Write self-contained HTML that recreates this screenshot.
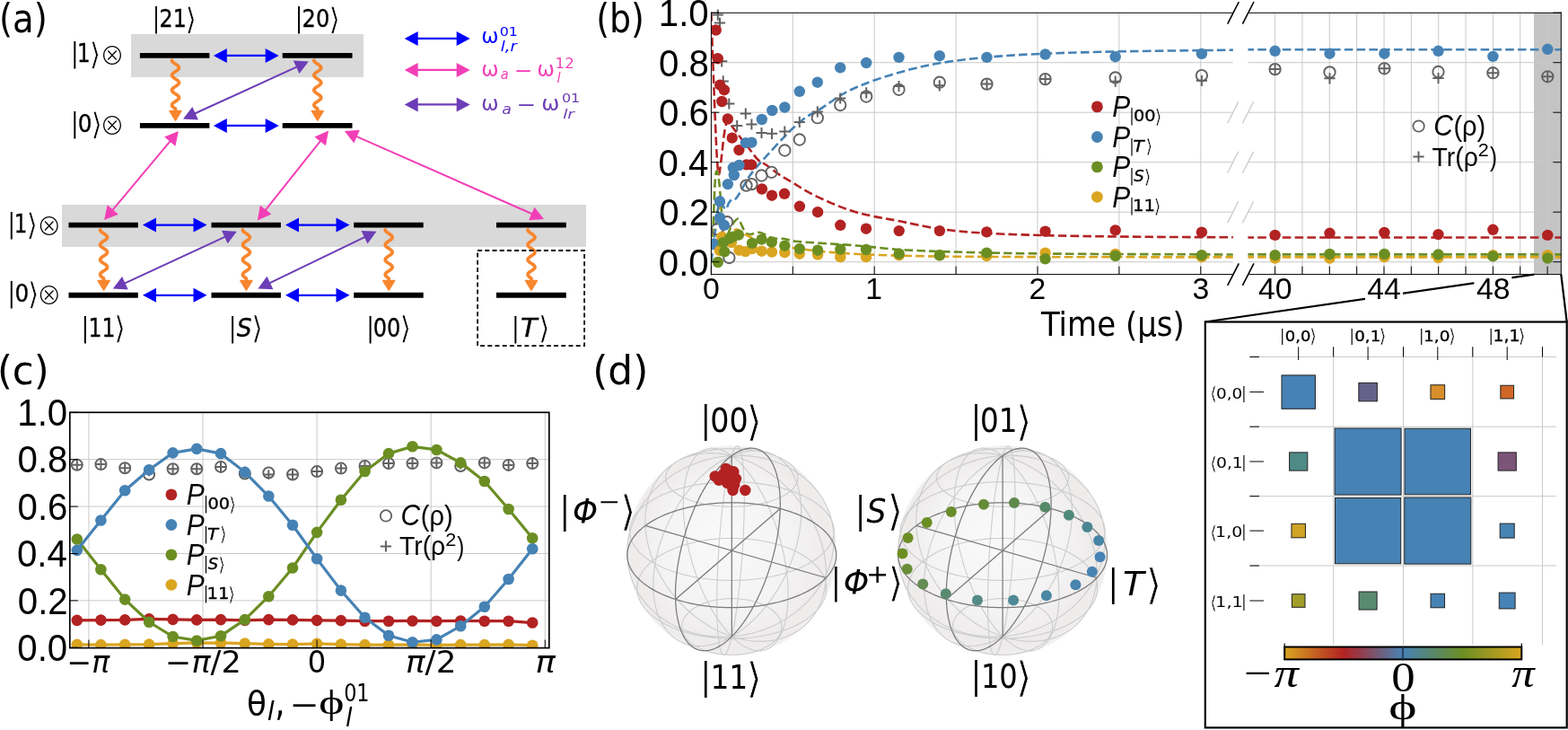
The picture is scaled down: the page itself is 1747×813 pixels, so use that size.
<!DOCTYPE html>
<html><head><meta charset="utf-8"><title>Figure</title>
<style>html,body{margin:0;padding:0;background:#fff;}svg{display:block;}</style>
</head><body>
<svg width="1747" height="813" viewBox="0 0 1747 813">
<text x="-1.09" y="36.02" font-size="43.77" font-family='"DejaVu Sans", sans-serif' fill="#000" textLength="53.88" lengthAdjust="spacingAndGlyphs">(a)</text>
<rect x="146" y="38" width="259" height="48" fill="#d9d9d9"/>
<rect x="69" y="228" width="584" height="47" fill="#d9d9d9"/>
<line x1="155.9" y1="61.9" x2="233.4" y2="61.9" stroke="#000" stroke-width="5.9"/>
<line x1="314.7" y1="61.9" x2="392.5" y2="61.9" stroke="#000" stroke-width="5.9"/>
<line x1="155.9" y1="139.9" x2="233.4" y2="139.9" stroke="#000" stroke-width="5.9"/>
<line x1="314.7" y1="139.9" x2="392.5" y2="139.9" stroke="#000" stroke-width="5.9"/>
<line x1="76.5" y1="250.6" x2="153.8" y2="250.6" stroke="#000" stroke-width="5.9"/>
<line x1="235.5" y1="250.6" x2="312.9" y2="250.6" stroke="#000" stroke-width="5.9"/>
<line x1="394.2" y1="250.6" x2="471.7" y2="250.6" stroke="#000" stroke-width="5.9"/>
<line x1="553" y1="250.6" x2="630.8" y2="250.6" stroke="#000" stroke-width="5.9"/>
<line x1="76.5" y1="328.8" x2="153.8" y2="328.8" stroke="#000" stroke-width="5.9"/>
<line x1="235.5" y1="328.8" x2="312.9" y2="328.8" stroke="#000" stroke-width="5.9"/>
<line x1="394.2" y1="328.8" x2="471.7" y2="328.8" stroke="#000" stroke-width="5.9"/>
<line x1="553" y1="328.8" x2="630.8" y2="328.8" stroke="#000" stroke-width="5.9"/>
<line x1="250.8" y1="61.9" x2="297.7" y2="61.9" stroke="#0000ff" stroke-width="2.2"/>
<polygon points="310.7,61.9 295.7,69.9 295.7,53.9" fill="#0000ff"/>
<polygon points="237.8,61.9 252.8,53.9 252.8,69.9" fill="#0000ff"/>
<line x1="250.8" y1="139.9" x2="297.7" y2="139.9" stroke="#0000ff" stroke-width="2.2"/>
<polygon points="310.7,139.9 295.7,147.9 295.7,131.9" fill="#0000ff"/>
<polygon points="237.8,139.9 252.8,131.9 252.8,147.9" fill="#0000ff"/>
<line x1="172" y1="250.6" x2="217.5" y2="250.6" stroke="#0000ff" stroke-width="2.2"/>
<polygon points="230.5,250.6 215.5,258.6 215.5,242.6" fill="#0000ff"/>
<polygon points="159,250.6 174,242.6 174,258.6" fill="#0000ff"/>
<line x1="331" y1="250.6" x2="376.5" y2="250.6" stroke="#0000ff" stroke-width="2.2"/>
<polygon points="389.5,250.6 374.5,258.6 374.5,242.6" fill="#0000ff"/>
<polygon points="318,250.6 333,242.6 333,258.6" fill="#0000ff"/>
<line x1="172" y1="328.8" x2="217.5" y2="328.8" stroke="#0000ff" stroke-width="2.2"/>
<polygon points="230.5,328.8 215.5,336.8 215.5,320.8" fill="#0000ff"/>
<polygon points="159,328.8 174,320.8 174,336.8" fill="#0000ff"/>
<line x1="331" y1="328.8" x2="376.5" y2="328.8" stroke="#0000ff" stroke-width="2.2"/>
<polygon points="389.5,328.8 374.5,336.8 374.5,320.8" fill="#0000ff"/>
<polygon points="318,328.8 333,320.8 333,336.8" fill="#0000ff"/>
<polyline points="191.5,67.2 191.67,67.97 192.16,68.74 192.94,69.51 193.93,70.28 195.05,71.05 196.21,71.82 197.32,72.59 198.26,73.37 198.98,74.14 199.4,74.91 199.49,75.68 199.24,76.45 198.68,77.22 197.85,77.99 196.82,78.76 195.68,79.53 194.52,80.3 193.45,81.07 192.55,81.84 191.9,82.61 191.55,83.39 191.54,84.16 191.86,84.93 192.49,85.7 193.37,86.47 194.44,87.24 195.59,88.01 196.74,88.78 197.78,89.55 198.63,90.32 199.21,91.09 199.48,91.86 199.42,92.63 199.02,93.4 198.33,94.18 197.4,94.95 196.3,95.72 195.14,96.49 194.01,97.26 193.01,98.03 192.21,98.8 191.7,99.57 191.5,100.34 191.64,101.11 192.11,101.88 192.87,102.65 193.85,103.42 194.96,104.19 196.13,104.97 197.24,105.74 198.2,106.51 198.93,107.28 199.38,108.05 199.5,108.82 199.28,109.59 198.74,110.36 197.92,111.13 196.91,111.9 195.77,112.67 194.61,113.44 193.53,114.21 192.61,114.98 191.94,115.76 191.56,116.53 191.53,117.3 191.82,118.07 192.43,118.84 193.3,119.61 194.35,120.38 195.5,121.15 195.5,124.3" fill="none" stroke="#f8862e" stroke-width="3.7" stroke-linecap="round" stroke-linejoin="round"/>
<polygon points="195.5,134 189.1,123.5 201.9,123.5" fill="#f8862e" stroke="#f8862e" stroke-width="1.6" stroke-linejoin="round"/>
<polyline points="349.8,67.2 349.97,67.97 350.46,68.74 351.24,69.51 352.23,70.28 353.35,71.05 354.51,71.82 355.62,72.59 356.56,73.37 357.28,74.14 357.7,74.91 357.79,75.68 357.54,76.45 356.98,77.22 356.15,77.99 355.12,78.76 353.98,79.53 352.82,80.3 351.75,81.07 350.85,81.84 350.2,82.61 349.85,83.39 349.84,84.16 350.16,84.93 350.79,85.7 351.67,86.47 352.74,87.24 353.89,88.01 355.04,88.78 356.08,89.55 356.93,90.32 357.51,91.09 357.78,91.86 357.72,92.63 357.32,93.4 356.63,94.18 355.7,94.95 354.6,95.72 353.44,96.49 352.31,97.26 351.31,98.03 350.51,98.8 350,99.57 349.8,100.34 349.94,101.11 350.41,101.88 351.17,102.65 352.15,103.42 353.26,104.19 354.43,104.97 355.54,105.74 356.5,106.51 357.23,107.28 357.68,108.05 357.8,108.82 357.58,109.59 357.04,110.36 356.22,111.13 355.21,111.9 354.07,112.67 352.91,113.44 351.83,114.21 350.91,114.98 350.24,115.76 349.86,116.53 349.83,117.3 350.12,118.07 350.73,118.84 351.6,119.61 352.65,120.38 353.8,121.15 353.8,124.3" fill="none" stroke="#f8862e" stroke-width="3.7" stroke-linecap="round" stroke-linejoin="round"/>
<polygon points="353.8,134 347.4,123.5 360.2,123.5" fill="#f8862e" stroke="#f8862e" stroke-width="1.6" stroke-linejoin="round"/>
<polyline points="111.6,256 111.77,256.77 112.26,257.54 113.04,258.31 114.03,259.08 115.15,259.85 116.31,260.62 117.42,261.39 118.36,262.17 119.08,262.94 119.5,263.71 119.59,264.48 119.34,265.25 118.78,266.02 117.95,266.79 116.92,267.56 115.78,268.33 114.62,269.1 113.55,269.87 112.65,270.64 112,271.41 111.65,272.19 111.64,272.96 111.96,273.73 112.59,274.5 113.47,275.27 114.54,276.04 115.69,276.81 116.84,277.58 117.88,278.35 118.73,279.12 119.31,279.89 119.58,280.66 119.52,281.43 119.12,282.2 118.43,282.98 117.5,283.75 116.4,284.52 115.24,285.29 114.11,286.06 113.11,286.83 112.31,287.6 111.8,288.37 111.6,289.14 111.74,289.91 112.21,290.68 112.97,291.45 113.95,292.22 115.06,292.99 116.23,293.76 117.34,294.54 118.3,295.31 119.03,296.08 119.48,296.85 119.6,297.62 119.38,298.39 118.84,299.16 118.02,299.93 117.01,300.7 115.87,301.47 114.71,302.24 113.63,303.01 112.71,303.78 112.04,304.56 111.66,305.33 111.63,306.1 111.92,306.87 112.53,307.64 113.4,308.41 114.45,309.18 115.6,309.95 115.6,313.3" fill="none" stroke="#f8862e" stroke-width="3.7" stroke-linecap="round" stroke-linejoin="round"/>
<polygon points="115.6,323 109.2,312.5 122,312.5" fill="#f8862e" stroke="#f8862e" stroke-width="1.6" stroke-linejoin="round"/>
<polyline points="270.4,256 270.57,256.77 271.06,257.54 271.84,258.31 272.83,259.08 273.95,259.85 275.11,260.62 276.22,261.39 277.16,262.17 277.88,262.94 278.3,263.71 278.39,264.48 278.14,265.25 277.58,266.02 276.75,266.79 275.72,267.56 274.58,268.33 273.42,269.1 272.35,269.87 271.45,270.64 270.8,271.41 270.45,272.19 270.44,272.96 270.76,273.73 271.39,274.5 272.27,275.27 273.34,276.04 274.49,276.81 275.64,277.58 276.68,278.35 277.53,279.12 278.11,279.89 278.38,280.66 278.32,281.43 277.92,282.2 277.23,282.98 276.3,283.75 275.2,284.52 274.04,285.29 272.91,286.06 271.91,286.83 271.11,287.6 270.6,288.37 270.4,289.14 270.54,289.91 271.01,290.68 271.77,291.45 272.75,292.22 273.86,292.99 275.03,293.76 276.14,294.54 277.1,295.31 277.83,296.08 278.28,296.85 278.4,297.62 278.18,298.39 277.64,299.16 276.82,299.93 275.81,300.7 274.67,301.47 273.51,302.24 272.43,303.01 271.51,303.78 270.84,304.56 270.46,305.33 270.43,306.1 270.72,306.87 271.33,307.64 272.2,308.41 273.25,309.18 274.4,309.95 274.4,313.3" fill="none" stroke="#f8862e" stroke-width="3.7" stroke-linecap="round" stroke-linejoin="round"/>
<polygon points="274.4,323 268,312.5 280.8,312.5" fill="#f8862e" stroke="#f8862e" stroke-width="1.6" stroke-linejoin="round"/>
<polyline points="429.2,256 429.37,256.77 429.86,257.54 430.64,258.31 431.63,259.08 432.75,259.85 433.91,260.62 435.02,261.39 435.96,262.17 436.68,262.94 437.1,263.71 437.19,264.48 436.94,265.25 436.38,266.02 435.55,266.79 434.52,267.56 433.38,268.33 432.22,269.1 431.15,269.87 430.25,270.64 429.6,271.41 429.25,272.19 429.24,272.96 429.56,273.73 430.19,274.5 431.07,275.27 432.14,276.04 433.29,276.81 434.44,277.58 435.48,278.35 436.33,279.12 436.91,279.89 437.18,280.66 437.12,281.43 436.72,282.2 436.03,282.98 435.1,283.75 434,284.52 432.84,285.29 431.71,286.06 430.71,286.83 429.91,287.6 429.4,288.37 429.2,289.14 429.34,289.91 429.81,290.68 430.57,291.45 431.55,292.22 432.66,292.99 433.83,293.76 434.94,294.54 435.9,295.31 436.63,296.08 437.08,296.85 437.2,297.62 436.98,298.39 436.44,299.16 435.62,299.93 434.61,300.7 433.47,301.47 432.31,302.24 431.23,303.01 430.31,303.78 429.64,304.56 429.26,305.33 429.23,306.1 429.52,306.87 430.13,307.64 431,308.41 432.05,309.18 433.2,309.95 433.2,313.3" fill="none" stroke="#f8862e" stroke-width="3.7" stroke-linecap="round" stroke-linejoin="round"/>
<polygon points="433.2,323 426.8,312.5 439.6,312.5" fill="#f8862e" stroke="#f8862e" stroke-width="1.6" stroke-linejoin="round"/>
<polyline points="588,256 588.17,256.77 588.66,257.54 589.44,258.31 590.43,259.08 591.55,259.85 592.71,260.62 593.82,261.39 594.76,262.17 595.48,262.94 595.9,263.71 595.99,264.48 595.74,265.25 595.18,266.02 594.35,266.79 593.32,267.56 592.18,268.33 591.02,269.1 589.95,269.87 589.05,270.64 588.4,271.41 588.05,272.19 588.04,272.96 588.36,273.73 588.99,274.5 589.87,275.27 590.94,276.04 592.09,276.81 593.24,277.58 594.28,278.35 595.13,279.12 595.71,279.89 595.98,280.66 595.92,281.43 595.52,282.2 594.83,282.98 593.9,283.75 592.8,284.52 591.64,285.29 590.51,286.06 589.51,286.83 588.71,287.6 588.2,288.37 588,289.14 588.14,289.91 588.61,290.68 589.37,291.45 590.35,292.22 591.46,292.99 592.63,293.76 593.74,294.54 594.7,295.31 595.43,296.08 595.88,296.85 596,297.62 595.78,298.39 595.24,299.16 594.42,299.93 593.41,300.7 592.27,301.47 591.11,302.24 590.03,303.01 589.11,303.78 588.44,304.56 588.06,305.33 588.03,306.1 588.32,306.87 588.93,307.64 589.8,308.41 590.85,309.18 592,309.95 592,313.3" fill="none" stroke="#f8862e" stroke-width="3.7" stroke-linecap="round" stroke-linejoin="round"/>
<polygon points="592,323 585.6,312.5 598.4,312.5" fill="#f8862e" stroke="#f8862e" stroke-width="1.6" stroke-linejoin="round"/>
<line x1="215.82" y1="127" x2="331.98" y2="73.9" stroke="#6c3db6" stroke-width="2"/>
<polygon points="343.8,68.5 333.48,82.01 326.83,67.46" fill="#6c3db6"/>
<polygon points="204,132.4 214.32,118.89 220.97,133.44" fill="#6c3db6"/>
<line x1="137.6" y1="316.05" x2="252.1" y2="263.15" stroke="#6c3db6" stroke-width="2"/>
<polygon points="263.9,257.7 253.64,271.25 246.93,256.73" fill="#6c3db6"/>
<polygon points="125.8,321.5 136.06,307.95 142.77,322.47" fill="#6c3db6"/>
<line x1="299.11" y1="315.85" x2="407.79" y2="263.35" stroke="#6c3db6" stroke-width="2"/>
<polygon points="419.5,257.7 409.47,271.43 402.51,257.02" fill="#6c3db6"/>
<polygon points="287.4,321.5 297.43,307.77 304.39,322.18" fill="#6c3db6"/>
<line x1="124.45" y1="235.03" x2="190.55" y2="156.07" stroke="#f23fb6" stroke-width="2"/>
<polygon points="198.9,146.1 195.41,162.74 183.14,152.47" fill="#f23fb6"/>
<polygon points="116.1,245 119.59,228.36 131.86,238.63" fill="#f23fb6"/>
<line x1="294.88" y1="235.22" x2="357.92" y2="155.78" stroke="#f23fb6" stroke-width="2"/>
<polygon points="366,145.6 362.94,162.32 350.41,152.38" fill="#f23fb6"/>
<polygon points="286.8,245.4 289.86,228.68 302.39,238.62" fill="#f23fb6"/>
<line x1="395.8" y1="151.34" x2="594.1" y2="238.76" stroke="#f23fb6" stroke-width="2"/>
<polygon points="606,244 589.05,245.27 595.5,230.63" fill="#f23fb6"/>
<polygon points="383.9,146.1 400.85,144.83 394.4,159.47" fill="#f23fb6"/>
<rect x="532.1" y="279" width="119" height="106.2" fill="none" stroke="#000" stroke-width="1.8" stroke-dasharray="5,3.2"/>
<text x="170.08" y="30" font-size="29.95" font-family='"DejaVu Sans", sans-serif' fill="#000" textLength="8.07" lengthAdjust="spacingAndGlyphs">|</text>
<text x="177.6" y="30" font-size="27.09" font-family='"DejaVu Sans", sans-serif' fill="#000" textLength="30.23" lengthAdjust="spacingAndGlyphs" stroke="#000" stroke-width="0.35">21</text>
<text x="206.5" y="32.61" font-size="33.61" font-family='"DejaVu Sans", sans-serif' fill="#000" textLength="12.46" lengthAdjust="spacingAndGlyphs" stroke="#fff" stroke-width="0.6">⟩</text>
<text x="329.08" y="30" font-size="29.95" font-family='"DejaVu Sans", sans-serif' fill="#000" textLength="8.07" lengthAdjust="spacingAndGlyphs">|</text>
<text x="336.57" y="30" font-size="27.09" font-family='"DejaVu Sans", sans-serif' fill="#000" textLength="30.66" lengthAdjust="spacingAndGlyphs" stroke="#000" stroke-width="0.35">20</text>
<text x="366.5" y="32.61" font-size="33.61" font-family='"DejaVu Sans", sans-serif' fill="#000" textLength="12.46" lengthAdjust="spacingAndGlyphs" stroke="#fff" stroke-width="0.6">⟩</text>
<text x="79.17" y="69.3" font-size="30.1" font-family='"DejaVu Sans", sans-serif' fill="#000" textLength="8.11" lengthAdjust="spacingAndGlyphs">|</text>
<text x="85.96" y="69.3" font-size="27.71" font-family='"DejaVu Sans", sans-serif' fill="#000" textLength="14.63" lengthAdjust="spacingAndGlyphs" stroke="#000" stroke-width="0.35">1</text>
<text x="99.8" y="71.93" font-size="33.77" font-family='"DejaVu Sans", sans-serif' fill="#000" textLength="12.52" lengthAdjust="spacingAndGlyphs" stroke="#fff" stroke-width="0.61">⟩</text>
<text x="111.49" y="72.07" font-size="26.89" font-family='"Noto Sans CJK JP", "DejaVu Sans", sans-serif' fill="#000" textLength="27.03" lengthAdjust="spacingAndGlyphs" font-weight="300">⊗</text>
<text x="79.17" y="147.2" font-size="30.1" font-family='"DejaVu Sans", sans-serif' fill="#000" textLength="8.11" lengthAdjust="spacingAndGlyphs">|</text>
<text x="86.86" y="147.2" font-size="27.22" font-family='"DejaVu Sans", sans-serif' fill="#000" textLength="15.75" lengthAdjust="spacingAndGlyphs" stroke="#000" stroke-width="0.35">0</text>
<text x="101.4" y="149.83" font-size="33.77" font-family='"DejaVu Sans", sans-serif' fill="#000" textLength="12.52" lengthAdjust="spacingAndGlyphs" stroke="#fff" stroke-width="0.61">⟩</text>
<text x="111.49" y="149.97" font-size="26.89" font-family='"Noto Sans CJK JP", "DejaVu Sans", sans-serif' fill="#000" textLength="27.03" lengthAdjust="spacingAndGlyphs" font-weight="300">⊗</text>
<text x="8.87" y="259.1" font-size="30.1" font-family='"DejaVu Sans", sans-serif' fill="#000" textLength="8.11" lengthAdjust="spacingAndGlyphs">|</text>
<text x="15.66" y="259.1" font-size="27.71" font-family='"DejaVu Sans", sans-serif' fill="#000" textLength="14.63" lengthAdjust="spacingAndGlyphs" stroke="#000" stroke-width="0.35">1</text>
<text x="29.5" y="261.73" font-size="33.77" font-family='"DejaVu Sans", sans-serif' fill="#000" textLength="12.52" lengthAdjust="spacingAndGlyphs" stroke="#fff" stroke-width="0.61">⟩</text>
<text x="41.19" y="261.87" font-size="26.89" font-family='"Noto Sans CJK JP", "DejaVu Sans", sans-serif' fill="#000" textLength="27.03" lengthAdjust="spacingAndGlyphs" font-weight="300">⊗</text>
<text x="8.87" y="336.1" font-size="30.1" font-family='"DejaVu Sans", sans-serif' fill="#000" textLength="8.11" lengthAdjust="spacingAndGlyphs">|</text>
<text x="16.56" y="336.1" font-size="27.22" font-family='"DejaVu Sans", sans-serif' fill="#000" textLength="15.75" lengthAdjust="spacingAndGlyphs" stroke="#000" stroke-width="0.35">0</text>
<text x="31.1" y="338.73" font-size="33.77" font-family='"DejaVu Sans", sans-serif' fill="#000" textLength="12.52" lengthAdjust="spacingAndGlyphs" stroke="#fff" stroke-width="0.61">⟩</text>
<text x="41.19" y="338.87" font-size="26.89" font-family='"Noto Sans CJK JP", "DejaVu Sans", sans-serif' fill="#000" textLength="27.03" lengthAdjust="spacingAndGlyphs" font-weight="300">⊗</text>
<text x="90.82" y="374.6" font-size="30.54" font-family='"DejaVu Sans", sans-serif' fill="#000" textLength="8.23" lengthAdjust="spacingAndGlyphs">|</text>
<text x="98.44" y="374.6" font-size="28.12" font-family='"DejaVu Sans", sans-serif' fill="#000" textLength="29.94" lengthAdjust="spacingAndGlyphs" stroke="#000" stroke-width="0.35">11</text>
<text x="127.2" y="377.27" font-size="34.28" font-family='"DejaVu Sans", sans-serif' fill="#000" textLength="12.7" lengthAdjust="spacingAndGlyphs" stroke="#fff" stroke-width="0.61">⟩</text>
<text x="254.92" y="374.6" font-size="30.54" font-family='"DejaVu Sans", sans-serif' fill="#000" textLength="8.23" lengthAdjust="spacingAndGlyphs">|</text>
<text x="263.67" y="374.6" font-size="27.63" font-family='"DejaVu Sans", sans-serif' fill="#000" font-style="italic" textLength="16.77" lengthAdjust="spacingAndGlyphs" stroke="#000" stroke-width="0.35">S</text>
<text x="280.2" y="377.27" font-size="34.28" font-family='"DejaVu Sans", sans-serif' fill="#000" textLength="12.7" lengthAdjust="spacingAndGlyphs" stroke="#fff" stroke-width="0.61">⟩</text>
<text x="408.52" y="374.6" font-size="30.54" font-family='"DejaVu Sans", sans-serif' fill="#000" textLength="8.23" lengthAdjust="spacingAndGlyphs">|</text>
<text x="415.73" y="374.6" font-size="27.63" font-family='"DejaVu Sans", sans-serif' fill="#000" textLength="30.67" lengthAdjust="spacingAndGlyphs" stroke="#000" stroke-width="0.35">00</text>
<text x="445.4" y="377.27" font-size="34.28" font-family='"DejaVu Sans", sans-serif' fill="#000" textLength="12.7" lengthAdjust="spacingAndGlyphs" stroke="#fff" stroke-width="0.61">⟩</text>
<text x="570.32" y="374.6" font-size="30.54" font-family='"DejaVu Sans", sans-serif' fill="#000" textLength="8.23" lengthAdjust="spacingAndGlyphs">|</text>
<text x="580.1" y="374.6" font-size="28.12" font-family='"DejaVu Sans", sans-serif' fill="#000" font-style="italic" textLength="18.43" lengthAdjust="spacingAndGlyphs" stroke="#000" stroke-width="0.35">T</text>
<text x="600" y="377.27" font-size="34.28" font-family='"DejaVu Sans", sans-serif' fill="#000" textLength="12.7" lengthAdjust="spacingAndGlyphs" stroke="#fff" stroke-width="0.61">⟩</text>
<line x1="463.7" y1="42.9" x2="510.7" y2="42.9" stroke="#0000ff" stroke-width="2.2"/>
<polygon points="523.7,42.9 508.7,50.9 508.7,34.9" fill="#0000ff"/>
<polygon points="450.7,42.9 465.7,34.9 465.7,50.9" fill="#0000ff"/>
<line x1="463.7" y1="77.9" x2="510.7" y2="77.9" stroke="#f23fb6" stroke-width="2.2"/>
<polygon points="523.7,77.9 508.7,85.9 508.7,69.9" fill="#f23fb6"/>
<polygon points="450.7,77.9 465.7,69.9 465.7,85.9" fill="#f23fb6"/>
<line x1="463.7" y1="116.4" x2="510.7" y2="116.4" stroke="#6c3db6" stroke-width="2.2"/>
<polygon points="523.7,116.4 508.7,124.4 508.7,108.4" fill="#6c3db6"/>
<polygon points="450.7,116.4 465.7,108.4 465.7,124.4" fill="#6c3db6"/>
<text x="536.2" y="48.49" font-size="22.46" font-family='"DejaVu Sans", sans-serif' fill="#0000ff" textLength="19.36" lengthAdjust="spacingAndGlyphs">ω</text>
<text x="556.67" y="39.7" font-size="14.55" font-family='"DejaVu Sans", sans-serif' fill="#0000ff" textLength="20.2" lengthAdjust="spacingAndGlyphs">01</text>
<text x="557.77" y="56.55" font-size="15.98" font-family='"DejaVu Sans", sans-serif' fill="#0000ff" font-style="italic" textLength="18.19" lengthAdjust="spacingAndGlyphs">l,r</text>
<text x="536.2" y="84.67" font-size="23.71" font-family='"DejaVu Sans", sans-serif' fill="#f23fb6" textLength="19.36" lengthAdjust="spacingAndGlyphs">ω</text>
<text x="557.8" y="88.39" font-size="15.33" font-family='"DejaVu Sans", sans-serif' fill="#f23fb6" font-style="italic" textLength="8.96" lengthAdjust="spacingAndGlyphs">a</text>
<text x="572.8" y="85.7" font-size="22" font-family='"DejaVu Sans", sans-serif' fill="#f23fb6" textLength="20.71" lengthAdjust="spacingAndGlyphs">−</text>
<text x="598.17" y="84.67" font-size="23.71" font-family='"DejaVu Sans", sans-serif' fill="#f23fb6" textLength="19.72" lengthAdjust="spacingAndGlyphs">ω</text>
<text x="618.59" y="76.1" font-size="14.96" font-family='"DejaVu Sans", sans-serif' fill="#f23fb6" textLength="21.17" lengthAdjust="spacingAndGlyphs">12</text>
<text x="620.49" y="92.3" font-size="15.53" font-family='"DejaVu Sans", sans-serif' fill="#f23fb6" font-style="italic" textLength="4.09" lengthAdjust="spacingAndGlyphs">l</text>
<text x="536.2" y="122.97" font-size="23.71" font-family='"DejaVu Sans", sans-serif' fill="#6c3db6" textLength="19.36" lengthAdjust="spacingAndGlyphs">ω</text>
<text x="559.19" y="126.59" font-size="15.33" font-family='"DejaVu Sans", sans-serif' fill="#6c3db6" font-style="italic" textLength="10.66" lengthAdjust="spacingAndGlyphs">a</text>
<text x="575.57" y="123.9" font-size="22" font-family='"DejaVu Sans", sans-serif' fill="#6c3db6" textLength="21.78" lengthAdjust="spacingAndGlyphs">−</text>
<text x="603.33" y="122.97" font-size="23.71" font-family='"DejaVu Sans", sans-serif' fill="#6c3db6" textLength="20.19" lengthAdjust="spacingAndGlyphs">ω</text>
<text x="625.96" y="113.5" font-size="14.55" font-family='"DejaVu Sans", sans-serif' fill="#6c3db6" textLength="20.31" lengthAdjust="spacingAndGlyphs">01</text>
<text x="627.15" y="131.5" font-size="14.61" font-family='"DejaVu Sans", sans-serif' fill="#6c3db6" font-style="italic" textLength="12.88" lengthAdjust="spacingAndGlyphs">lr</text>
<text x="664.17" y="36.03" font-size="43.72" font-family='"DejaVu Sans", sans-serif' fill="#000" textLength="53.76" lengthAdjust="spacingAndGlyphs">(b)</text>
<rect x="1709" y="14.3" width="30.3" height="291.3" fill="#c4c4c4"/>
<g stroke="#c9c9c9" stroke-width="1.1">
<line x1="883.3" y1="14.3" x2="883.3" y2="305.6" stroke="#c9c9c9" stroke-width="1"/>
<line x1="974.2" y1="14.3" x2="974.2" y2="305.6" stroke="#c9c9c9" stroke-width="1"/>
<line x1="1065.1" y1="14.3" x2="1065.1" y2="305.6" stroke="#c9c9c9" stroke-width="1"/>
<line x1="1156" y1="14.3" x2="1156" y2="305.6" stroke="#c9c9c9" stroke-width="1"/>
<line x1="1246.9" y1="14.3" x2="1246.9" y2="305.6" stroke="#c9c9c9" stroke-width="1"/>
<line x1="1337.8" y1="14.3" x2="1337.8" y2="305.6" stroke="#c9c9c9" stroke-width="1"/>
<line x1="1420.6" y1="14.3" x2="1420.6" y2="305.6" stroke="#c9c9c9" stroke-width="1"/>
<line x1="1450.95" y1="14.3" x2="1450.95" y2="305.6" stroke="#c9c9c9" stroke-width="1"/>
<line x1="1481.3" y1="14.3" x2="1481.3" y2="305.6" stroke="#c9c9c9" stroke-width="1"/>
<line x1="1511.65" y1="14.3" x2="1511.65" y2="305.6" stroke="#c9c9c9" stroke-width="1"/>
<line x1="1542" y1="14.3" x2="1542" y2="305.6" stroke="#c9c9c9" stroke-width="1"/>
<line x1="1572.35" y1="14.3" x2="1572.35" y2="305.6" stroke="#c9c9c9" stroke-width="1"/>
<line x1="1602.7" y1="14.3" x2="1602.7" y2="305.6" stroke="#c9c9c9" stroke-width="1"/>
<line x1="1633.05" y1="14.3" x2="1633.05" y2="305.6" stroke="#c9c9c9" stroke-width="1"/>
<line x1="1663.4" y1="14.3" x2="1663.4" y2="305.6" stroke="#c9c9c9" stroke-width="1"/>
<line x1="1693.75" y1="14.3" x2="1693.75" y2="305.6" stroke="#c9c9c9" stroke-width="1"/>
<line x1="1724.1" y1="14.3" x2="1724.1" y2="305.6" stroke="#c9c9c9" stroke-width="1"/>
<line x1="792.4" y1="291.7" x2="1373.8" y2="291.7" stroke="#c9c9c9" stroke-width="1"/>
<line x1="1390.4" y1="291.7" x2="1739.3" y2="291.7" stroke="#c9c9c9" stroke-width="1"/>
<line x1="792.4" y1="236.2" x2="1373.8" y2="236.2" stroke="#c9c9c9" stroke-width="1"/>
<line x1="1390.4" y1="236.2" x2="1739.3" y2="236.2" stroke="#c9c9c9" stroke-width="1"/>
<line x1="792.4" y1="180.7" x2="1373.8" y2="180.7" stroke="#c9c9c9" stroke-width="1"/>
<line x1="1390.4" y1="180.7" x2="1739.3" y2="180.7" stroke="#c9c9c9" stroke-width="1"/>
<line x1="792.4" y1="125.2" x2="1373.8" y2="125.2" stroke="#c9c9c9" stroke-width="1"/>
<line x1="1390.4" y1="125.2" x2="1739.3" y2="125.2" stroke="#c9c9c9" stroke-width="1"/>
<line x1="792.4" y1="69.7" x2="1373.8" y2="69.7" stroke="#c9c9c9" stroke-width="1"/>
<line x1="1390.4" y1="69.7" x2="1739.3" y2="69.7" stroke="#c9c9c9" stroke-width="1"/>
</g>
<line x1="1367.6" y1="248.2" x2="1379.8" y2="224.2" stroke="#c9c9c9" stroke-width="1.3"/>
<line x1="1384.4" y1="248.2" x2="1396.6" y2="224.2" stroke="#c9c9c9" stroke-width="1.3"/>
<line x1="1367.6" y1="192.7" x2="1379.8" y2="168.7" stroke="#c9c9c9" stroke-width="1.3"/>
<line x1="1384.4" y1="192.7" x2="1396.6" y2="168.7" stroke="#c9c9c9" stroke-width="1.3"/>
<line x1="1367.6" y1="137.2" x2="1379.8" y2="113.2" stroke="#c9c9c9" stroke-width="1.3"/>
<line x1="1384.4" y1="137.2" x2="1396.6" y2="113.2" stroke="#c9c9c9" stroke-width="1.3"/>
<defs><clipPath id="cb1"><rect x="792.4" y="14.3" width="581.4" height="291.3"/></clipPath><clipPath id="cb2"><rect x="1390.4" y="14.3" width="348.9" height="291.3"/></clipPath></defs>
<g clip-path="url(#cb1)">
<path d="M792.4,14.3 C792.92,28.58 794.48,74.05 795.5,100 C796.52,125.95 797.62,154.33 798.5,170 C799.38,185.67 799.97,192.67 800.8,194 C801.63,195.33 802.55,185 803.5,178 C804.45,171 805.58,158.67 806.5,152 C807.42,145.33 808.25,141 809,138 C809.75,135 810.1,133.83 811,134 C811.9,134.17 812.23,136 814.4,139 C816.57,142 820.6,147.55 824,152 C827.4,156.45 831.37,161.37 834.8,165.7 C838.23,170.03 841.32,174.92 844.6,178 C847.88,181.08 850.4,181.33 854.5,184.2 C858.6,187.07 864.28,191.93 869.2,195.2 C874.12,198.47 878.87,200.72 884,203.8 C889.13,206.88 893,209.98 900,213.7 C907,217.42 917.73,222.55 926,226.1 C934.27,229.65 941.73,232.53 949.6,235 C957.47,237.47 964.8,239.1 973.2,240.9 C981.6,242.7 987.58,243.43 1000,245.8 C1012.42,248.17 1031.03,252.77 1047.7,255.1 C1064.37,257.43 1077.95,258.57 1100,259.8 C1122.05,261.03 1150,261.83 1180,262.5 C1210,263.17 1246.67,263.5 1280,263.8 C1313.33,264.1 1363.33,264.22 1380,264.3" fill="none" stroke="#b22222" stroke-width="2.6" stroke-dasharray="9.6,4.2"/>
<path d="M792.4,291.7 C792.77,284.75 793.85,265.28 794.6,250 C795.35,234.72 796.17,209.83 796.9,200 C797.63,190.17 798.23,190.17 799,191 C799.77,191.83 800.63,197 801.5,205 C802.37,213 803.45,229.5 804.2,239 C804.95,248.5 805.03,258.17 806,262 C806.97,265.83 808.33,264 810,262 C811.67,260 813.92,253.08 816,250 C818.08,246.92 820.83,243.5 822.5,243.5 C824.17,243.5 824.67,247.42 826,250 C827.33,252.58 828.83,257.17 830.5,259 C832.17,260.83 833.25,261 836,261 C838.75,261 843,258.33 847,259 C851,259.67 855.5,263.83 860,265 C864.5,266.17 869.67,265.38 874,266 C878.33,266.62 880,267.95 886,268.7 C892,269.45 898.17,269.67 910,270.5 C921.83,271.33 940.33,272.37 957,273.7 C973.67,275.03 986.17,277.2 1010,278.5 C1033.83,279.8 1068.33,280.78 1100,281.5 C1131.67,282.22 1153.33,282.47 1200,282.8 C1246.67,283.13 1350,283.38 1380,283.5" fill="none" stroke="#6b8e23" stroke-width="2.6" stroke-dasharray="9.6,4.2"/>
<path d="M792.4,291.7 C793,286.75 794.9,270.95 796,262 C797.1,253.05 798.08,243.17 799,238 C799.92,232.83 800.67,229.83 801.5,231 C802.33,232.17 803.17,239.83 804,245 C804.83,250.17 805.5,258.67 806.5,262 C807.5,265.33 808.58,265.5 810,265 C811.42,264.5 813.08,260.58 815,259 C816.92,257.42 819,255.17 821.5,255.5 C824,255.83 826.92,259.33 830,261 C833.08,262.67 836.17,264 840,265.5 C843.83,267 848.5,268.67 853,270 C857.5,271.33 862,272.5 867,273.5 C872,274.5 874.17,274.83 883,276 C891.83,277.17 906.33,279.27 920,280.5 C933.67,281.73 946.67,282.6 965,283.4 C983.33,284.2 1005.83,284.87 1030,285.3 C1054.17,285.73 1073.33,285.83 1110,286 C1146.67,286.17 1205,286.23 1250,286.3 C1295,286.37 1358.33,286.38 1380,286.4" fill="none" stroke="#daa520" stroke-width="2.6" stroke-dasharray="9.6,4.2"/>
<path d="M792.4,291.7 C793,287.25 794.82,274.45 796,265 C797.18,255.55 798.42,241.83 799.5,235 C800.58,228.17 801.42,224.83 802.5,224 C803.58,223.17 804.92,228.5 806,230 C807.08,231.5 808,233.67 809,233 C810,232.33 810.83,227.92 812,226 C813.17,224.08 814.67,222.33 816,221.5 C817.33,220.67 818.5,222.33 820,221 C821.5,219.67 822.53,217.58 825,213.5 C827.47,209.42 831.53,201.38 834.8,196.5 C838.07,191.62 840.92,188.52 844.6,184.2 C848.28,179.88 852.18,175.73 856.9,170.6 C861.62,165.47 868.38,158.12 872.9,153.4 C877.42,148.68 879.68,146.2 884,142.3 C888.32,138.4 894.3,133.18 898.8,130 C903.3,126.82 906.13,126.2 911,123.2 C915.87,120.2 922.33,115.62 928,112 C933.67,108.38 937.22,105.3 945,101.5 C952.78,97.7 962.98,93.27 974.7,89.2 C986.42,85.13 1001.77,80.48 1015.3,77.1 C1028.83,73.72 1040.12,71.27 1055.9,68.9 C1071.68,66.53 1090.98,64.47 1110,62.9 C1129.02,61.33 1146.67,60.43 1170,59.5 C1193.33,58.57 1215,57.95 1250,57.3 C1285,56.65 1358.33,55.88 1380,55.6" fill="none" stroke="#4682b4" stroke-width="2.6" stroke-dasharray="9.6,4.2"/>
</g>
<g clip-path="url(#cb2)">
<path d="M1387.4,264.5 H1742.3" fill="none" stroke="#b22222" stroke-width="2.6" stroke-dasharray="9.6,4.2"/>
<path d="M1387.4,283.4 H1742.3" fill="none" stroke="#6b8e23" stroke-width="2.6" stroke-dasharray="9.6,4.2"/>
<path d="M1387.4,286.4 H1742.3" fill="none" stroke="#daa520" stroke-width="2.6" stroke-dasharray="9.6,4.2"/>
<path d="M1387.4,55.2 H1742.3" fill="none" stroke="#4682b4" stroke-width="2.6" stroke-dasharray="9.6,4.2"/>
</g>
<g clip-path="url(#cbb)">
<g fill="none" stroke="#626262" stroke-width="1.9"><circle cx="799" cy="255.3" r="6.2"/><circle cx="810.1" cy="247.2" r="6.2"/><circle cx="812.4" cy="287" r="6.2"/><circle cx="831.5" cy="206.6" r="6.2"/><circle cx="837.4" cy="205.1" r="6.2"/><circle cx="848.5" cy="195.5" r="6.2"/><circle cx="859.6" cy="191.8" r="6.2"/><circle cx="874.3" cy="167.5" r="6.2"/><circle cx="890.8" cy="155.5" r="6.2"/><circle cx="910.8" cy="131.2" r="6.2"/><circle cx="936.2" cy="117" r="6.2"/><circle cx="965.2" cy="107.5" r="6.2"/><circle cx="1001.5" cy="99.8" r="6.2"/><circle cx="1046.8" cy="91.7" r="6.2"/><circle cx="1099.5" cy="93.6" r="6.2"/><circle cx="1164.6" cy="88.1" r="6.2"/><circle cx="1242.7" cy="86.4" r="6.2"/><circle cx="1338.9" cy="84.1" r="6.2"/><circle cx="1420.6" cy="77.1" r="6.2"/><circle cx="1481.5" cy="80.4" r="6.2"/><circle cx="1542.4" cy="76.3" r="6.2"/><circle cx="1602.5" cy="80" r="6.2"/><circle cx="1663.4" cy="81.2" r="6.2"/><circle cx="1724.3" cy="85.3" r="6.2"/></g>
<path d="M793.7,16.6h12.2M799.8,10.5v12.2 M795.9,25.5h12.2M802,19.4v12.2 M798.1,68.3h12.2M804.2,62.2v12.2 M799.6,90.4h12.2M805.7,84.3v12.2 M806.2,115.5h12.2M812.3,109.4v12.2 M824.7,126.6h12.2M830.8,120.5v12.2 M815.1,140h12.2M821.2,133.9v12.2 M831.3,138.5h12.2M837.4,132.4v12.2 M842.4,148h12.2M848.5,141.9v12.2 M853.9,148.8h12.2M860,142.7v12.2 M868.2,146.6h12.2M874.3,140.5v12.2 M884.7,135.9h12.2M890.8,129.8v12.2 M904.7,124.4h12.2M910.8,118.3v12.2 M930.1,109.5h12.2M936.2,103.4v12.2 M959.1,103.4h12.2M965.2,97.3v12.2 M995.4,96h12.2M1001.5,89.9v12.2 M1040.7,95.3h12.2M1046.8,89.2v12.2 M1093.4,93.6h12.2M1099.5,87.5v12.2 M1158.5,88.1h12.2M1164.6,82v12.2 M1236.6,90.7h12.2M1242.7,84.6v12.2 M1332.8,89.8h12.2M1338.9,83.7v12.2 M1414.5,77.1h12.2M1420.6,71v12.2 M1475.4,87.3h12.2M1481.5,81.2v12.2 M1536.3,76.3h12.2M1542.4,70.2v12.2 M1596.4,87h12.2M1602.5,80.9v12.2 M1657.3,81.2h12.2M1663.4,75.1v12.2 M1718.2,85.3h12.2M1724.3,79.2v12.2" stroke="#626262" stroke-width="2" fill="none"/>
<g fill="#b22222"><circle cx="797.7" cy="33.5" r="6.2"/><circle cx="799.7" cy="65.2" r="6.2"/><circle cx="802.2" cy="94.7" r="6.2"/><circle cx="806.9" cy="100.2" r="6.2"/><circle cx="804.3" cy="113" r="6.2"/><circle cx="810.8" cy="132.5" r="6.2"/><circle cx="815.7" cy="153.6" r="6.2"/><circle cx="823.4" cy="167.1" r="6.2"/><circle cx="831.7" cy="183.4" r="6.2"/><circle cx="837.2" cy="183.4" r="6.2"/><circle cx="848.9" cy="210.5" r="6.2"/><circle cx="860" cy="217.7" r="6.2"/><circle cx="874" cy="215.8" r="6.2"/><circle cx="890.9" cy="229.8" r="6.2"/><circle cx="911.1" cy="236.2" r="6.2"/><circle cx="936.3" cy="250.8" r="6.2"/><circle cx="965" cy="254.7" r="6.2"/><circle cx="1001.7" cy="257.1" r="6.2"/><circle cx="1046.9" cy="257.1" r="6.2"/><circle cx="1099.3" cy="258.4" r="6.2"/><circle cx="1164.6" cy="257.7" r="6.2"/><circle cx="1242.7" cy="256.4" r="6.2"/><circle cx="1338.9" cy="258.6" r="6.2"/><circle cx="1420.6" cy="261.9" r="6.2"/><circle cx="1481.5" cy="259.8" r="6.2"/><circle cx="1542.4" cy="259" r="6.2"/><circle cx="1602.5" cy="261.1" r="6.2"/><circle cx="1663.4" cy="255.8" r="6.2"/><circle cx="1724.3" cy="261.9" r="6.2"/></g>
<g fill="#4682b4"><circle cx="795.4" cy="271.5" r="6.2"/><circle cx="802" cy="224.3" r="6.2"/><circle cx="802" cy="242.5" r="6.2"/><circle cx="806.8" cy="250.8" r="6.2"/><circle cx="810.9" cy="205.1" r="6.2"/><circle cx="816.8" cy="186.8" r="6.2"/><circle cx="817.8" cy="195" r="6.2"/><circle cx="823.5" cy="184" r="6.2"/><circle cx="830.8" cy="159.1" r="6.2"/><circle cx="837.4" cy="158.7" r="6.2"/><circle cx="848.8" cy="133" r="6.2"/><circle cx="860.3" cy="123" r="6.2"/><circle cx="874.3" cy="119.5" r="6.2"/><circle cx="890.8" cy="101.8" r="6.2"/><circle cx="910.8" cy="91.7" r="6.2"/><circle cx="936.2" cy="75.4" r="6.2"/><circle cx="965.2" cy="70" r="6.2"/><circle cx="1001.5" cy="63.9" r="6.2"/><circle cx="1046.8" cy="62.2" r="6.2"/><circle cx="1099.5" cy="63.9" r="6.2"/><circle cx="1164.6" cy="60.5" r="6.2"/><circle cx="1242.7" cy="63.2" r="6.2"/><circle cx="1338.9" cy="59.9" r="6.2"/><circle cx="1420.6" cy="56.8" r="6.2"/><circle cx="1481.5" cy="59.7" r="6.2"/><circle cx="1542.4" cy="59.7" r="6.2"/><circle cx="1602.5" cy="56.8" r="6.2"/><circle cx="1663.4" cy="62.9" r="6.2"/><circle cx="1724.3" cy="54.8" r="6.2"/></g>
<g fill="#daa520"><circle cx="802" cy="279.2" r="6.2"/><circle cx="804.4" cy="263.9" r="6.2"/><circle cx="815" cy="270" r="6.2"/><circle cx="823.4" cy="278.7" r="6.2"/><circle cx="830.5" cy="280.1" r="6.2"/><circle cx="837.8" cy="277.1" r="6.2"/><circle cx="848.6" cy="279.7" r="6.2"/><circle cx="860" cy="280.6" r="6.2"/><circle cx="874.3" cy="281.2" r="6.2"/><circle cx="890.8" cy="282.7" r="6.2"/><circle cx="911.1" cy="283.5" r="6.2"/><circle cx="936.3" cy="286.2" r="6.2"/><circle cx="965" cy="286.2" r="6.2"/><circle cx="1001.7" cy="284.3" r="6.2"/><circle cx="1046.9" cy="284.3" r="6.2"/><circle cx="1099.3" cy="285" r="6.2"/><circle cx="1164.6" cy="281.6" r="6.2"/><circle cx="1242.7" cy="283" r="6.2"/><circle cx="1338.9" cy="286.2" r="6.2"/><circle cx="1420.6" cy="287.5" r="6.2"/><circle cx="1481.5" cy="287.5" r="6.2"/><circle cx="1542.4" cy="286.2" r="6.2"/><circle cx="1602.5" cy="287" r="6.2"/><circle cx="1663.4" cy="284.2" r="6.2"/><circle cx="1724.3" cy="284.2" r="6.2"/></g>
<g fill="#6b8e23"><circle cx="799.8" cy="292" r="6.2"/><circle cx="807.2" cy="280.4" r="6.2"/><circle cx="805.7" cy="270.2" r="6.2"/><circle cx="813" cy="265.6" r="6.2"/><circle cx="816.8" cy="263.6" r="6.2"/><circle cx="822.9" cy="261.6" r="6.2"/><circle cx="838" cy="270.9" r="6.2"/><circle cx="848.6" cy="266.6" r="6.2"/><circle cx="859.8" cy="269.5" r="6.2"/><circle cx="874.3" cy="273.7" r="6.2"/><circle cx="890.8" cy="277.1" r="6.2"/><circle cx="911.1" cy="278.7" r="6.2"/><circle cx="936.3" cy="277.6" r="6.2"/><circle cx="965" cy="278" r="6.2"/><circle cx="1001.7" cy="282.7" r="6.2"/><circle cx="1046.9" cy="284.3" r="6.2"/><circle cx="1099.3" cy="281.6" r="6.2"/><circle cx="1164.6" cy="288.3" r="6.2"/><circle cx="1242.7" cy="285" r="6.2"/><circle cx="1338.9" cy="284.2" r="6.2"/><circle cx="1420.6" cy="284.2" r="6.2"/><circle cx="1481.5" cy="283" r="6.2"/><circle cx="1542.4" cy="283" r="6.2"/><circle cx="1602.5" cy="283.4" r="6.2"/><circle cx="1663.4" cy="285.4" r="6.2"/><circle cx="1724.3" cy="287.5" r="6.2"/></g>
</g>
<defs><clipPath id="cbb"><rect x="792.4" y="6.3" width="946.9" height="299.3"/></clipPath></defs>
<g stroke="#000" stroke-width="1.7" fill="none">
<line x1="792.4" y1="14.3" x2="1373.8" y2="14.3" stroke="#000" stroke-width="1"/>
<line x1="1390.4" y1="14.3" x2="1739.3" y2="14.3" stroke="#000" stroke-width="1"/>
<line x1="792.4" y1="305.6" x2="1373.8" y2="305.6" stroke="#000" stroke-width="1"/>
<line x1="1390.4" y1="305.6" x2="1739.3" y2="305.6" stroke="#000" stroke-width="1"/>
<line x1="792.4" y1="13.45" x2="792.4" y2="306.45" stroke="#000" stroke-width="1"/>
<line x1="1739.3" y1="13.45" x2="1739.3" y2="306.45" stroke="#000" stroke-width="1"/>
</g>
<line x1="1367.7" y1="26.6" x2="1380.3" y2="2" stroke="#000" stroke-width="1.6"/>
<line x1="1384.4" y1="26.6" x2="1397" y2="2" stroke="#000" stroke-width="1.6"/>
<line x1="1367.7" y1="317.9" x2="1380.3" y2="293.3" stroke="#000" stroke-width="1.6"/>
<line x1="1384.4" y1="317.9" x2="1397" y2="293.3" stroke="#000" stroke-width="1.6"/>
<g stroke="#000" stroke-width="1.3">
<line x1="792.4" y1="291.7" x2="801.4" y2="291.7" stroke="#000" stroke-width="1"/>
<line x1="1739.3" y1="291.7" x2="1730.3" y2="291.7" stroke="#000" stroke-width="1"/>
<line x1="792.4" y1="236.2" x2="801.4" y2="236.2" stroke="#000" stroke-width="1"/>
<line x1="1739.3" y1="236.2" x2="1730.3" y2="236.2" stroke="#000" stroke-width="1"/>
<line x1="792.4" y1="180.7" x2="801.4" y2="180.7" stroke="#000" stroke-width="1"/>
<line x1="1739.3" y1="180.7" x2="1730.3" y2="180.7" stroke="#000" stroke-width="1"/>
<line x1="792.4" y1="125.2" x2="801.4" y2="125.2" stroke="#000" stroke-width="1"/>
<line x1="1739.3" y1="125.2" x2="1730.3" y2="125.2" stroke="#000" stroke-width="1"/>
<line x1="792.4" y1="69.7" x2="801.4" y2="69.7" stroke="#000" stroke-width="1"/>
<line x1="1739.3" y1="69.7" x2="1730.3" y2="69.7" stroke="#000" stroke-width="1"/>
<line x1="792.4" y1="14.2" x2="801.4" y2="14.2" stroke="#000" stroke-width="1"/>
<line x1="1739.3" y1="14.2" x2="1730.3" y2="14.2" stroke="#000" stroke-width="1"/>
<line x1="792.4" y1="305.6" x2="792.4" y2="296.6" stroke="#000" stroke-width="1"/>
<line x1="883.3" y1="305.6" x2="883.3" y2="296.6" stroke="#000" stroke-width="1"/>
<line x1="974.2" y1="305.6" x2="974.2" y2="296.6" stroke="#000" stroke-width="1"/>
<line x1="1065.1" y1="305.6" x2="1065.1" y2="296.6" stroke="#000" stroke-width="1"/>
<line x1="1156" y1="305.6" x2="1156" y2="296.6" stroke="#000" stroke-width="1"/>
<line x1="1246.9" y1="305.6" x2="1246.9" y2="296.6" stroke="#000" stroke-width="1"/>
<line x1="1337.8" y1="305.6" x2="1337.8" y2="296.6" stroke="#000" stroke-width="1"/>
<line x1="1420.6" y1="305.6" x2="1420.6" y2="296.6" stroke="#000" stroke-width="1"/>
<line x1="1450.95" y1="305.6" x2="1450.95" y2="296.6" stroke="#000" stroke-width="1"/>
<line x1="1481.3" y1="305.6" x2="1481.3" y2="296.6" stroke="#000" stroke-width="1"/>
<line x1="1511.65" y1="305.6" x2="1511.65" y2="296.6" stroke="#000" stroke-width="1"/>
<line x1="1542" y1="305.6" x2="1542" y2="296.6" stroke="#000" stroke-width="1"/>
<line x1="1572.35" y1="305.6" x2="1572.35" y2="296.6" stroke="#000" stroke-width="1"/>
<line x1="1602.7" y1="305.6" x2="1602.7" y2="296.6" stroke="#000" stroke-width="1"/>
<line x1="1633.05" y1="305.6" x2="1633.05" y2="296.6" stroke="#000" stroke-width="1"/>
<line x1="1663.4" y1="305.6" x2="1663.4" y2="296.6" stroke="#000" stroke-width="1"/>
<line x1="1693.75" y1="305.6" x2="1693.75" y2="296.6" stroke="#000" stroke-width="1"/>
<line x1="1724.1" y1="305.6" x2="1724.1" y2="296.6" stroke="#000" stroke-width="1"/>
</g>
<text x="733.83" y="306.8" font-size="42.09" font-family='"Liberation Sans", Arial, sans-serif' fill="#000" textLength="55.9" lengthAdjust="spacingAndGlyphs">0.0</text>
<text x="734.31" y="251.3" font-size="42.09" font-family='"Liberation Sans", Arial, sans-serif' fill="#000" textLength="55.9" lengthAdjust="spacingAndGlyphs">0.2</text>
<text x="733.47" y="195.8" font-size="42.09" font-family='"Liberation Sans", Arial, sans-serif' fill="#000" textLength="55.9" lengthAdjust="spacingAndGlyphs">0.4</text>
<text x="734.03" y="140.3" font-size="42.09" font-family='"Liberation Sans", Arial, sans-serif' fill="#000" textLength="55.9" lengthAdjust="spacingAndGlyphs">0.6</text>
<text x="734.03" y="84.8" font-size="42.09" font-family='"Liberation Sans", Arial, sans-serif' fill="#000" textLength="55.9" lengthAdjust="spacingAndGlyphs">0.8</text>
<text x="733.83" y="29.3" font-size="42.09" font-family='"Liberation Sans", Arial, sans-serif' fill="#000" textLength="55.9" lengthAdjust="spacingAndGlyphs">1.0</text>
<text x="783" y="332.7" font-size="33.76" font-family='"Liberation Sans", Arial, sans-serif' fill="#000">0</text>
<text x="964.34" y="332.7" font-size="33.76" font-family='"Liberation Sans", Arial, sans-serif' fill="#000">1</text>
<text x="1146.62" y="332.7" font-size="33.76" font-family='"Liberation Sans", Arial, sans-serif' fill="#000">2</text>
<text x="1328.5" y="332.7" font-size="33.76" font-family='"Liberation Sans", Arial, sans-serif' fill="#000">3</text>
<line x1="1342.8" y1="358.5" x2="1709.3" y2="305.6" stroke="#000" stroke-width="2.2"/>
<line x1="1745.7" y1="358.5" x2="1739.3" y2="305.6" stroke="#000" stroke-width="2.2"/>
<rect x="1399.6" y="308" width="42" height="27" fill="#fff"/>
<text x="1402.1" y="332.7" font-size="33.76" font-family='"Liberation Sans", Arial, sans-serif' fill="#000">40</text>
<rect x="1521" y="308" width="42" height="27" fill="#fff"/>
<text x="1523.35" y="332.7" font-size="33.76" font-family='"Liberation Sans", Arial, sans-serif' fill="#000">44</text>
<rect x="1642.4" y="308" width="42" height="27" fill="#fff"/>
<text x="1644.99" y="332.7" font-size="33.76" font-family='"Liberation Sans", Arial, sans-serif' fill="#000">48</text>
<text x="1159.9" y="374" font-size="36.49" font-family='"DejaVu Sans", sans-serif' fill="#000" textLength="159.88" lengthAdjust="spacingAndGlyphs">Time (μs)</text>
<circle cx="1222.4" cy="118.9" r="6.4" fill="#b22222"/>
<text x="1239.2" y="130.1" font-size="32.56" font-family='"Liberation Sans", Arial, sans-serif' fill="#000" font-style="italic" textLength="19.98" lengthAdjust="spacingAndGlyphs">P</text>
<text x="1258.42" y="134.9" font-size="18.62" font-family='"DejaVu Sans", sans-serif' fill="#000" textLength="5.02" lengthAdjust="spacingAndGlyphs">|</text>
<text x="1262.92" y="134.9" font-size="16.85" font-family='"DejaVu Sans", sans-serif' fill="#000" textLength="24.53" lengthAdjust="spacingAndGlyphs" stroke="#000" stroke-width="0.35">00</text>
<text x="1286.71" y="136.53" font-size="20.9" font-family='"DejaVu Sans", sans-serif' fill="#000" textLength="7.75" lengthAdjust="spacingAndGlyphs" stroke="#fff" stroke-width="0.38">⟩</text>
<circle cx="1222.4" cy="152.5" r="6.4" fill="#4682b4"/>
<text x="1239.2" y="163.7" font-size="32.56" font-family='"Liberation Sans", Arial, sans-serif' fill="#000" font-style="italic" textLength="19.98" lengthAdjust="spacingAndGlyphs">P</text>
<text x="1258.42" y="168.5" font-size="18.62" font-family='"DejaVu Sans", sans-serif' fill="#000" textLength="5.02" lengthAdjust="spacingAndGlyphs">|</text>
<text x="1262.58" y="168.5" font-size="17.15" font-family='"DejaVu Sans", sans-serif' fill="#000" font-style="italic" textLength="12.06" lengthAdjust="spacingAndGlyphs" stroke="#000" stroke-width="0.35">T</text>
<text x="1276.46" y="170.12" font-size="20.9" font-family='"DejaVu Sans", sans-serif' fill="#000" textLength="7.75" lengthAdjust="spacingAndGlyphs" stroke="#fff" stroke-width="0.38">⟩</text>
<circle cx="1222.4" cy="185.9" r="6.4" fill="#6b8e23"/>
<text x="1239.2" y="197.1" font-size="32.56" font-family='"Liberation Sans", Arial, sans-serif' fill="#000" font-style="italic" textLength="19.98" lengthAdjust="spacingAndGlyphs">P</text>
<text x="1258.42" y="201.9" font-size="18.62" font-family='"DejaVu Sans", sans-serif' fill="#000" textLength="5.02" lengthAdjust="spacingAndGlyphs">|</text>
<text x="1263.34" y="201.9" font-size="16.85" font-family='"DejaVu Sans", sans-serif' fill="#000" font-style="italic" textLength="11.46" lengthAdjust="spacingAndGlyphs" stroke="#000" stroke-width="0.35">S</text>
<text x="1274.76" y="203.53" font-size="20.9" font-family='"DejaVu Sans", sans-serif' fill="#000" textLength="7.75" lengthAdjust="spacingAndGlyphs" stroke="#fff" stroke-width="0.38">⟩</text>
<circle cx="1222.4" cy="219.3" r="6.4" fill="#daa520"/>
<text x="1239.2" y="230.5" font-size="32.56" font-family='"Liberation Sans", Arial, sans-serif' fill="#000" font-style="italic" textLength="19.98" lengthAdjust="spacingAndGlyphs">P</text>
<text x="1258.42" y="235.3" font-size="18.62" font-family='"DejaVu Sans", sans-serif' fill="#000" textLength="5.02" lengthAdjust="spacingAndGlyphs">|</text>
<text x="1262.04" y="235.3" font-size="17.15" font-family='"DejaVu Sans", sans-serif' fill="#000" textLength="24.95" lengthAdjust="spacingAndGlyphs" stroke="#000" stroke-width="0.35">11</text>
<text x="1285.71" y="236.93" font-size="20.9" font-family='"DejaVu Sans", sans-serif' fill="#000" textLength="7.75" lengthAdjust="spacingAndGlyphs" stroke="#fff" stroke-width="0.38">⟩</text>
<circle cx="1580.6" cy="140.5" r="6.2" fill="none" stroke="#626262" stroke-width="1.8"/>
<path d="M1574.4,174.5h12.2M1580.5,168.4v12.2" stroke="#626262" stroke-width="2" fill="none"/>
<text x="1597.15" y="151.37" font-size="32.91" font-family='"Liberation Sans", Arial, sans-serif' fill="#000" font-style="italic" textLength="21.68" lengthAdjust="spacingAndGlyphs">C</text>
<text x="1619.4" y="151.28" font-size="30.87" font-family='"Liberation Sans", Arial, sans-serif' fill="#000" textLength="35.9" lengthAdjust="spacingAndGlyphs">(ρ)</text>
<text x="1595.58" y="184.58" font-size="29.9" font-family='"Liberation Sans", Arial, sans-serif' fill="#000" textLength="51.25" lengthAdjust="spacingAndGlyphs">Tr(ρ</text>
<text x="1646.81" y="174" font-size="20.92" font-family='"Liberation Sans", Arial, sans-serif' fill="#000" textLength="12.07" lengthAdjust="spacingAndGlyphs">2</text>
<text x="1659.88" y="184.6" font-size="29.94" font-family='"Liberation Sans", Arial, sans-serif' fill="#000" textLength="8.01" lengthAdjust="spacingAndGlyphs">)</text>
<text x="-3.09" y="428.11" font-size="43.88" font-family='"DejaVu Sans", sans-serif' fill="#000" textLength="57.79" lengthAdjust="spacingAndGlyphs">(c)</text>
<g stroke="#c9c9c9" stroke-width="1.1">
<line x1="98.91" y1="459.3" x2="98.91" y2="721.6" stroke="#c9c9c9" stroke-width="1"/>
<line x1="226.01" y1="459.3" x2="226.01" y2="721.6" stroke="#c9c9c9" stroke-width="1"/>
<line x1="353.1" y1="459.3" x2="353.1" y2="721.6" stroke="#c9c9c9" stroke-width="1"/>
<line x1="480.19" y1="459.3" x2="480.19" y2="721.6" stroke="#c9c9c9" stroke-width="1"/>
<line x1="607.29" y1="459.3" x2="607.29" y2="721.6" stroke="#c9c9c9" stroke-width="1"/>
<line x1="77.8" y1="668.9" x2="611.8" y2="668.9" stroke="#c9c9c9" stroke-width="1"/>
<line x1="77.8" y1="616.5" x2="611.8" y2="616.5" stroke="#c9c9c9" stroke-width="1"/>
<line x1="77.8" y1="564.1" x2="611.8" y2="564.1" stroke="#c9c9c9" stroke-width="1"/>
<line x1="77.8" y1="511.7" x2="611.8" y2="511.7" stroke="#c9c9c9" stroke-width="1"/>
</g>
<defs><clipPath id="cc"><rect x="77.8" y="451.3" width="534" height="270.3"/></clipPath></defs>
<g clip-path="url(#cc)">
<g fill="none" stroke="#626262" stroke-width="2"><circle cx="85.8" cy="517.8" r="6"/><circle cx="112.4" cy="517.1" r="6"/><circle cx="139.2" cy="521.3" r="6"/><circle cx="166.1" cy="528.5" r="6"/><circle cx="192.6" cy="522.3" r="6"/><circle cx="219.2" cy="522.3" r="6"/><circle cx="246" cy="519.9" r="6"/><circle cx="272.8" cy="527.5" r="6"/><circle cx="299.3" cy="526.5" r="6"/><circle cx="326" cy="528.5" r="6"/><circle cx="353.1" cy="525.1" r="6"/><circle cx="379.9" cy="521.6" r="6"/><circle cx="406.5" cy="518.9" r="6"/><circle cx="433" cy="516.1" r="6"/><circle cx="459.5" cy="516.1" r="6"/><circle cx="486.4" cy="515.4" r="6"/><circle cx="513.2" cy="519" r="6"/><circle cx="539.8" cy="515.4" r="6"/><circle cx="566.6" cy="517.9" r="6"/><circle cx="593.2" cy="516.1" r="6"/></g>
<path d="M80.6,517.8h10.4M85.8,512.6v10.4 M107.2,517.1h10.4M112.4,511.9v10.4 M134,521.3h10.4M139.2,516.1v10.4 M160.9,525.1h10.4M166.1,519.9v10.4 M187.4,522.3h10.4M192.6,517.1v10.4 M214,522.3h10.4M219.2,517.1v10.4 M240.8,519.9h10.4M246,514.7v10.4 M267.6,525h10.4M272.8,519.8v10.4 M294.1,528.5h10.4M299.3,523.3v10.4 M320.8,528.5h10.4M326,523.3v10.4 M347.9,525.1h10.4M353.1,519.9v10.4 M374.7,521.6h10.4M379.9,516.4v10.4 M401.3,518.9h10.4M406.5,513.7v10.4 M427.8,516.1h10.4M433,510.9v10.4 M454.3,516.1h10.4M459.5,510.9v10.4 M481.2,515.4h10.4M486.4,510.2v10.4 M508,517.2h10.4M513.2,512v10.4 M534.6,515.4h10.4M539.8,510.2v10.4 M561.4,517.9h10.4M566.6,512.7v10.4 M588,516.1h10.4M593.2,510.9v10.4" stroke="#626262" stroke-width="2" fill="none"/>
<polyline points="85.8,690.91 112.4,690.65 139.2,690.38 166.1,689.34 192.6,689.86 219.2,690.38 246,690.12 272.8,690.91 299.3,690.12 326,690.38 353.1,690.91 379.9,691.17 406.5,691.69 433,691.69 459.5,691.43 486.4,691.69 513.2,691.43 539.8,691.69 566.6,691.69 593.2,693.53" fill="none" stroke="#b22222" stroke-width="3.2" stroke-linejoin="round"/>
<g fill="#b22222"><circle cx="85.8" cy="690.91" r="6.3"/><circle cx="112.4" cy="690.65" r="6.3"/><circle cx="139.2" cy="690.38" r="6.3"/><circle cx="166.1" cy="689.34" r="6.3"/><circle cx="192.6" cy="689.86" r="6.3"/><circle cx="219.2" cy="690.38" r="6.3"/><circle cx="246" cy="690.12" r="6.3"/><circle cx="272.8" cy="690.91" r="6.3"/><circle cx="299.3" cy="690.12" r="6.3"/><circle cx="326" cy="690.38" r="6.3"/><circle cx="353.1" cy="690.91" r="6.3"/><circle cx="379.9" cy="691.17" r="6.3"/><circle cx="406.5" cy="691.69" r="6.3"/><circle cx="433" cy="691.69" r="6.3"/><circle cx="459.5" cy="691.43" r="6.3"/><circle cx="486.4" cy="691.69" r="6.3"/><circle cx="513.2" cy="691.43" r="6.3"/><circle cx="539.8" cy="691.69" r="6.3"/><circle cx="566.6" cy="691.69" r="6.3"/><circle cx="593.2" cy="693.53" r="6.3"/></g>
<polyline points="85.8,717.89 112.4,718.16 139.2,717.89 166.1,717.63 192.6,716.58 219.2,715.8 246,716.06 272.8,716.58 299.3,717.37 326,717.63 353.1,716.85 379.9,717.63 406.5,718.16 433,718.16 459.5,717.89 486.4,718.42 513.2,718.16 539.8,718.16 566.6,717.89 593.2,718.68" fill="none" stroke="#daa520" stroke-width="3.2" stroke-linejoin="round"/>
<g fill="#daa520"><circle cx="85.8" cy="717.89" r="6.3"/><circle cx="112.4" cy="718.16" r="6.3"/><circle cx="139.2" cy="717.89" r="6.3"/><circle cx="166.1" cy="717.63" r="6.3"/><circle cx="192.6" cy="716.58" r="6.3"/><circle cx="219.2" cy="715.8" r="6.3"/><circle cx="246" cy="716.06" r="6.3"/><circle cx="272.8" cy="716.58" r="6.3"/><circle cx="299.3" cy="717.37" r="6.3"/><circle cx="326" cy="717.63" r="6.3"/><circle cx="353.1" cy="716.85" r="6.3"/><circle cx="379.9" cy="717.63" r="6.3"/><circle cx="406.5" cy="718.16" r="6.3"/><circle cx="433" cy="718.16" r="6.3"/><circle cx="459.5" cy="717.89" r="6.3"/><circle cx="486.4" cy="718.42" r="6.3"/><circle cx="513.2" cy="718.16" r="6.3"/><circle cx="539.8" cy="718.16" r="6.3"/><circle cx="566.6" cy="717.89" r="6.3"/><circle cx="593.2" cy="718.68" r="6.3"/></g>
<polyline points="85.8,600.52 112.4,634.32 139.2,667.59 166.1,692.74 192.6,708.99 219.2,713.44 246,708.2 272.8,690.12 299.3,664.18 326,632.48 353.1,592.92 379.9,556.76 406.5,525.06 433,505.15 459.5,497.29 486.4,500.96 513.2,515.37 539.8,536.07 566.6,566.98 593.2,599.21" fill="none" stroke="#6b8e23" stroke-width="3.2" stroke-linejoin="round"/>
<g fill="#6b8e23"><circle cx="85.8" cy="600.52" r="6.3"/><circle cx="112.4" cy="634.32" r="6.3"/><circle cx="139.2" cy="667.59" r="6.3"/><circle cx="166.1" cy="692.74" r="6.3"/><circle cx="192.6" cy="708.99" r="6.3"/><circle cx="219.2" cy="713.44" r="6.3"/><circle cx="246" cy="708.2" r="6.3"/><circle cx="272.8" cy="690.12" r="6.3"/><circle cx="299.3" cy="664.18" r="6.3"/><circle cx="326" cy="632.48" r="6.3"/><circle cx="353.1" cy="592.92" r="6.3"/><circle cx="379.9" cy="556.76" r="6.3"/><circle cx="406.5" cy="525.06" r="6.3"/><circle cx="433" cy="505.15" r="6.3"/><circle cx="459.5" cy="497.29" r="6.3"/><circle cx="486.4" cy="500.96" r="6.3"/><circle cx="513.2" cy="515.37" r="6.3"/><circle cx="539.8" cy="536.07" r="6.3"/><circle cx="566.6" cy="566.98" r="6.3"/><circle cx="593.2" cy="599.21" r="6.3"/></g>
<polyline points="85.8,612.83 112.4,579.56 139.2,546.28 166.1,523.23 192.6,504.36 219.2,499.91 246,505.15 272.8,525.85 299.3,552.57 326,584.8 353.1,622.26 379.9,657.63 406.5,687.76 433,707.68 459.5,715.27 486.4,712.39 513.2,697.2 539.8,675.71 566.6,645.06 593.2,611.26" fill="none" stroke="#4682b4" stroke-width="3.2" stroke-linejoin="round"/>
<g fill="#4682b4"><circle cx="85.8" cy="612.83" r="6.3"/><circle cx="112.4" cy="579.56" r="6.3"/><circle cx="139.2" cy="546.28" r="6.3"/><circle cx="166.1" cy="523.23" r="6.3"/><circle cx="192.6" cy="504.36" r="6.3"/><circle cx="219.2" cy="499.91" r="6.3"/><circle cx="246" cy="505.15" r="6.3"/><circle cx="272.8" cy="525.85" r="6.3"/><circle cx="299.3" cy="552.57" r="6.3"/><circle cx="326" cy="584.8" r="6.3"/><circle cx="353.1" cy="622.26" r="6.3"/><circle cx="379.9" cy="657.63" r="6.3"/><circle cx="406.5" cy="687.76" r="6.3"/><circle cx="433" cy="707.68" r="6.3"/><circle cx="459.5" cy="715.27" r="6.3"/><circle cx="486.4" cy="712.39" r="6.3"/><circle cx="513.2" cy="697.2" r="6.3"/><circle cx="539.8" cy="675.71" r="6.3"/><circle cx="566.6" cy="645.06" r="6.3"/><circle cx="593.2" cy="611.26" r="6.3"/></g>
</g>
<g stroke="#000" stroke-width="1.7" fill="none">
<rect x="77.8" y="459.3" width="534" height="262.3"/>
</g>
<g stroke="#000" stroke-width="1.3">
<line x1="77.8" y1="721.3" x2="86.8" y2="721.3" stroke="#000" stroke-width="1"/>
<line x1="77.8" y1="668.9" x2="86.8" y2="668.9" stroke="#000" stroke-width="1"/>
<line x1="77.8" y1="616.5" x2="86.8" y2="616.5" stroke="#000" stroke-width="1"/>
<line x1="77.8" y1="564.1" x2="86.8" y2="564.1" stroke="#000" stroke-width="1"/>
<line x1="77.8" y1="511.7" x2="86.8" y2="511.7" stroke="#000" stroke-width="1"/>
<line x1="77.8" y1="459.3" x2="86.8" y2="459.3" stroke="#000" stroke-width="1"/>
<line x1="98.91" y1="721.6" x2="98.91" y2="712.6" stroke="#000" stroke-width="1"/>
<line x1="226.01" y1="721.6" x2="226.01" y2="712.6" stroke="#000" stroke-width="1"/>
<line x1="353.1" y1="721.6" x2="353.1" y2="712.6" stroke="#000" stroke-width="1"/>
<line x1="480.19" y1="721.6" x2="480.19" y2="712.6" stroke="#000" stroke-width="1"/>
<line x1="607.29" y1="721.6" x2="607.29" y2="712.6" stroke="#000" stroke-width="1"/>
</g>
<text x="19.33" y="736" font-size="42.09" font-family='"Liberation Sans", Arial, sans-serif' fill="#000" textLength="55.9" lengthAdjust="spacingAndGlyphs">0.0</text>
<text x="19.81" y="683.6" font-size="42.09" font-family='"Liberation Sans", Arial, sans-serif' fill="#000" textLength="55.9" lengthAdjust="spacingAndGlyphs">0.2</text>
<text x="18.97" y="631.2" font-size="42.09" font-family='"Liberation Sans", Arial, sans-serif' fill="#000" textLength="55.9" lengthAdjust="spacingAndGlyphs">0.4</text>
<text x="19.53" y="578.8" font-size="42.09" font-family='"Liberation Sans", Arial, sans-serif' fill="#000" textLength="55.9" lengthAdjust="spacingAndGlyphs">0.6</text>
<text x="19.53" y="526.4" font-size="42.09" font-family='"Liberation Sans", Arial, sans-serif' fill="#000" textLength="55.9" lengthAdjust="spacingAndGlyphs">0.8</text>
<text x="19.33" y="474" font-size="42.09" font-family='"Liberation Sans", Arial, sans-serif' fill="#000" textLength="55.9" lengthAdjust="spacingAndGlyphs">1.0</text>
<text x="74.52" y="748.8" font-size="33.15" font-family='"DejaVu Sans", sans-serif' fill="#000">−<tspan font-style="italic">π</tspan></text>
<text x="184.12" y="748.8" font-size="33.15" font-family='"DejaVu Sans", sans-serif' fill="#000" textLength="84.66" lengthAdjust="spacingAndGlyphs">−<tspan font-style="italic">π</tspan>/2</text>
<text x="342.81" y="748.8" font-size="33.15" font-family='"DejaVu Sans", sans-serif' fill="#000" textLength="20.41" lengthAdjust="spacingAndGlyphs">0</text>
<text x="452.11" y="748.8" font-size="33.15" font-family='"DejaVu Sans", sans-serif' fill="#000" textLength="56.34" lengthAdjust="spacingAndGlyphs"><tspan font-style="italic">π</tspan>/2</text>
<text x="596.57" y="748.8" font-size="33.15" font-family='"DejaVu Sans", sans-serif' fill="#000" textLength="22.23" lengthAdjust="spacingAndGlyphs"><tspan font-style="italic">π</tspan></text>
<text x="274.93" y="795.69" font-size="36.97" font-family='"DejaVu Sans", sans-serif' fill="#000" textLength="21.89" lengthAdjust="spacingAndGlyphs">θ</text>
<text x="297.8" y="802.1" font-size="27.76" font-family='"DejaVu Sans", sans-serif' fill="#000" font-style="italic" textLength="7.94" lengthAdjust="spacingAndGlyphs">l</text>
<text x="306.37" y="796.88" font-size="45" font-family='"DejaVu Sans", sans-serif' fill="#000" textLength="11.26" lengthAdjust="spacingAndGlyphs">,</text>
<text x="322.53" y="795.85" font-size="33" font-family='"DejaVu Sans", sans-serif' fill="#000" textLength="33.28" lengthAdjust="spacingAndGlyphs">−</text>
<text x="354.91" y="794.63" font-size="38.81" font-family='"Liberation Serif", "DejaVu Serif", serif' fill="#000" textLength="28.55" lengthAdjust="spacingAndGlyphs">ϕ</text>
<text x="383.15" y="781.12" font-size="27.25" font-family='"DejaVu Sans", sans-serif' fill="#000" textLength="28.42" lengthAdjust="spacingAndGlyphs">01</text>
<text x="384.96" y="808.5" font-size="27.63" font-family='"DejaVu Sans", sans-serif' fill="#000" font-style="italic" textLength="7.47" lengthAdjust="spacingAndGlyphs">l</text>
<circle cx="190.9" cy="550.9" r="6.4" fill="#b22222"/>
<text x="207.7" y="562.1" font-size="32.56" font-family='"Liberation Sans", Arial, sans-serif' fill="#000" font-style="italic" textLength="19.98" lengthAdjust="spacingAndGlyphs">P</text>
<text x="226.92" y="566.9" font-size="18.62" font-family='"DejaVu Sans", sans-serif' fill="#000" textLength="5.02" lengthAdjust="spacingAndGlyphs">|</text>
<text x="231.42" y="566.9" font-size="16.85" font-family='"DejaVu Sans", sans-serif' fill="#000" textLength="24.53" lengthAdjust="spacingAndGlyphs" stroke="#000" stroke-width="0.35">00</text>
<text x="255.21" y="568.52" font-size="20.9" font-family='"DejaVu Sans", sans-serif' fill="#000" textLength="7.75" lengthAdjust="spacingAndGlyphs" stroke="#fff" stroke-width="0.38">⟩</text>
<circle cx="190.9" cy="584.5" r="6.4" fill="#4682b4"/>
<text x="207.7" y="595.7" font-size="32.56" font-family='"Liberation Sans", Arial, sans-serif' fill="#000" font-style="italic" textLength="19.98" lengthAdjust="spacingAndGlyphs">P</text>
<text x="226.92" y="600.5" font-size="18.62" font-family='"DejaVu Sans", sans-serif' fill="#000" textLength="5.02" lengthAdjust="spacingAndGlyphs">|</text>
<text x="231.08" y="600.5" font-size="17.15" font-family='"DejaVu Sans", sans-serif' fill="#000" font-style="italic" textLength="12.06" lengthAdjust="spacingAndGlyphs" stroke="#000" stroke-width="0.35">T</text>
<text x="244.96" y="602.12" font-size="20.9" font-family='"DejaVu Sans", sans-serif' fill="#000" textLength="7.75" lengthAdjust="spacingAndGlyphs" stroke="#fff" stroke-width="0.38">⟩</text>
<circle cx="190.9" cy="617.9" r="6.4" fill="#6b8e23"/>
<text x="207.7" y="629.1" font-size="32.56" font-family='"Liberation Sans", Arial, sans-serif' fill="#000" font-style="italic" textLength="19.98" lengthAdjust="spacingAndGlyphs">P</text>
<text x="226.92" y="633.9" font-size="18.62" font-family='"DejaVu Sans", sans-serif' fill="#000" textLength="5.02" lengthAdjust="spacingAndGlyphs">|</text>
<text x="231.84" y="633.9" font-size="16.85" font-family='"DejaVu Sans", sans-serif' fill="#000" font-style="italic" textLength="11.46" lengthAdjust="spacingAndGlyphs" stroke="#000" stroke-width="0.35">S</text>
<text x="243.26" y="635.52" font-size="20.9" font-family='"DejaVu Sans", sans-serif' fill="#000" textLength="7.75" lengthAdjust="spacingAndGlyphs" stroke="#fff" stroke-width="0.38">⟩</text>
<circle cx="190.9" cy="651.3" r="6.4" fill="#daa520"/>
<text x="207.7" y="662.5" font-size="32.56" font-family='"Liberation Sans", Arial, sans-serif' fill="#000" font-style="italic" textLength="19.98" lengthAdjust="spacingAndGlyphs">P</text>
<text x="226.92" y="667.3" font-size="18.62" font-family='"DejaVu Sans", sans-serif' fill="#000" textLength="5.02" lengthAdjust="spacingAndGlyphs">|</text>
<text x="230.54" y="667.3" font-size="17.15" font-family='"DejaVu Sans", sans-serif' fill="#000" textLength="24.95" lengthAdjust="spacingAndGlyphs" stroke="#000" stroke-width="0.35">11</text>
<text x="254.21" y="668.92" font-size="20.9" font-family='"DejaVu Sans", sans-serif' fill="#000" textLength="7.75" lengthAdjust="spacingAndGlyphs" stroke="#fff" stroke-width="0.38">⟩</text>
<circle cx="430" cy="574.4" r="6.2" fill="none" stroke="#626262" stroke-width="1.8"/>
<path d="M423.8,608.4h12.2M429.9,602.3v12.2" stroke="#626262" stroke-width="2" fill="none"/>
<text x="446.55" y="585.27" font-size="32.91" font-family='"Liberation Sans", Arial, sans-serif' fill="#000" font-style="italic" textLength="21.68" lengthAdjust="spacingAndGlyphs">C</text>
<text x="468.8" y="585.18" font-size="30.87" font-family='"Liberation Sans", Arial, sans-serif' fill="#000" textLength="35.9" lengthAdjust="spacingAndGlyphs">(ρ)</text>
<text x="444.98" y="618.48" font-size="29.9" font-family='"Liberation Sans", Arial, sans-serif' fill="#000" textLength="51.25" lengthAdjust="spacingAndGlyphs">Tr(ρ</text>
<text x="496.21" y="607.9" font-size="20.92" font-family='"Liberation Sans", Arial, sans-serif' fill="#000" textLength="12.07" lengthAdjust="spacingAndGlyphs">2</text>
<text x="509.28" y="618.5" font-size="29.94" font-family='"Liberation Sans", Arial, sans-serif' fill="#000" textLength="8.01" lengthAdjust="spacingAndGlyphs">)</text>
<defs><radialGradient id="sg" cx="0.5" cy="0.5" r="0.5" fx="0.42" fy="0.42"><stop offset="0" stop-color="#f9f9f9"/><stop offset="0.6" stop-color="#f5f4f4"/><stop offset="0.9" stop-color="#eeebeb"/><stop offset="0.97" stop-color="#efecec"/><stop offset="1" stop-color="#f6f4f4"/></radialGradient></defs>
<text x="660.27" y="428.11" font-size="43.83" font-family='"DejaVu Sans", sans-serif' fill="#000">(d)</text>
<circle cx="815.3" cy="613.2" r="117.2" fill="url(#sg)"/>
<path d="M880.78,546.77 L881.94,545.73 L883.02,544.68 L884.01,543.61 L884.91,542.53 L885.72,541.44 L886.44,540.33 L887.07,539.22 L887.61,538.11 L888.06,536.98 L888.41,535.86 L888.68,534.73 L888.85,533.59 L888.94,532.46 L888.93,531.33 L888.83,530.21 L888.65,529.09 L888.37,527.97 L888.01,526.86 L887.57,525.76 L887.03,524.67 L886.41,523.59 L885.71,522.52 L884.93,521.46 L884.07,520.42 L883.13,519.39 L882.1,518.39 L881.01,517.39 L879.84,516.42 L878.59,515.47 L877.28,514.53 L875.9,513.62 L874.45,512.73 L872.93,511.87 L871.35,511.03 L869.71,510.21 L868.01,509.42 L866.25,508.66 L864.44,507.92 L862.57,507.21 L860.66,506.53 L858.69,505.88 L856.68,505.26 L854.63,504.67 L852.53,504.11 L850.4,503.58 L848.23,503.08 L846.02,502.62 L843.78,502.19 L841.51,501.79 L839.22,501.43 L836.9,501.09 L834.55,500.8 L832.19,500.54 L829.81,500.31 L827.41,500.11 L825.01,499.96 L822.59,499.83 L820.16,499.74 L817.73,499.69 L815.3,499.67 L812.87,499.69 L810.44,499.74 L808.01,499.83 L805.59,499.96 L803.19,500.11 L800.79,500.31 L798.41,500.54 L796.05,500.8 L793.7,501.09 L791.38,501.43 L789.09,501.79 L786.82,502.19 L784.58,502.62 L782.37,503.08 L780.2,503.58 L778.07,504.11 L775.97,504.67 L773.92,505.26 L771.91,505.88 L769.94,506.53 L768.03,507.21 L766.16,507.92 L764.35,508.66 L762.59,509.42 L760.89,510.21 L759.25,511.03 L757.67,511.87 L756.15,512.73 L754.7,513.62 L753.32,514.53 L752.01,515.47 L750.76,516.42 L749.59,517.39 L748.5,518.39 L747.47,519.39 L746.53,520.42 L745.67,521.46 L744.89,522.52 L744.19,523.59 L743.57,524.67 L743.03,525.76 L742.59,526.86 L742.23,527.97 L741.95,529.09 L741.77,530.21 L741.67,531.33 L741.66,532.46 L741.75,533.59 L741.92,534.73 L742.19,535.86 L742.54,536.98 L742.99,538.11 L743.53,539.22 L744.16,540.33 L744.88,541.44 L745.69,542.53 L746.59,543.61 L747.58,544.68 L748.66,545.73 L749.82,546.77 L751.07,547.79 L752.41,548.79 L753.83,549.77 L755.33,550.73 L756.91,551.67 L758.57,552.58 L760.31,553.47 L762.12,554.33 L764,555.16 L765.96,555.97 L767.98,556.74 L770.07,557.48 L772.22,558.19 L774.43,558.86 L776.7,559.5 L779.02,560.1 L781.39,560.66 L783.81,561.19 L786.28,561.68 L788.78,562.12 L791.33,562.53 L793.9,562.9 L796.51,563.22 L799.14,563.5 L801.8,563.74 L804.48,563.94 L807.17,564.09 L809.87,564.2 L812.58,564.27 L815.3,564.29 L818.02,564.27 L820.73,564.2 L823.43,564.09 L826.12,563.94 L828.8,563.74 L831.46,563.5 L834.09,563.22 L836.7,562.9 L839.27,562.53 L841.82,562.12 L844.32,561.68 L846.79,561.19 L849.21,560.66 L851.58,560.1 L853.9,559.5 L856.17,558.86 L858.38,558.19 L860.53,557.48 L862.62,556.74 L864.64,555.97 L866.6,555.16 L868.48,554.33 L870.29,553.47 L872.03,552.58 L873.69,551.67 L875.27,550.73 L876.77,549.77 L878.19,548.79 L879.53,547.79 L880.78,546.77 M917.96,615.33 L919.68,613.52 L921.26,611.68 L922.7,609.83 L924,607.95 L925.15,606.06 L926.16,604.16 L927.03,602.25 L927.75,600.33 L928.33,598.4 L928.76,596.47 L929.05,594.54 L929.2,592.61 L929.21,590.68 L929.08,588.77 L928.82,586.86 L928.41,584.96 L927.87,583.08 L927.2,581.21 L926.4,579.36 L925.47,577.53 L924.41,575.72 L923.23,573.93 L921.93,572.17 L920.51,570.44 L918.97,568.73 L917.31,567.06 L915.55,565.42 L913.67,563.81 L911.69,562.24 L909.61,560.7 L907.43,559.21 L905.15,557.75 L902.78,556.33 L900.32,554.95 L897.77,553.62 L895.13,552.33 L892.42,551.09 L889.62,549.89 L886.76,548.74 L883.82,547.64 L880.81,546.58 L877.74,545.58 L874.61,544.62 L871.42,543.72 L868.18,542.87 L864.88,542.07 L861.54,541.32 L858.15,540.63 L854.73,539.99 L851.26,539.4 L847.76,538.87 L844.23,538.39 L840.68,537.97 L837.09,537.61 L833.49,537.3 L829.88,537.04 L826.24,536.85 L822.6,536.71 L818.95,536.62 L815.3,536.59 L811.65,536.62 L808,536.71 L804.36,536.85 L800.72,537.04 L797.11,537.3 L793.51,537.61 L789.92,537.97 L786.37,538.39 L782.84,538.87 L779.34,539.4 L775.87,539.99 L772.45,540.63 L769.06,541.32 L765.72,542.07 L762.42,542.87 L759.18,543.72 L755.99,544.62 L752.86,545.58 L749.79,546.58 L746.78,547.64 L743.84,548.74 L740.98,549.89 L738.18,551.09 L735.47,552.33 L732.83,553.62 L730.28,554.95 L727.82,556.33 L725.45,557.75 L723.17,559.21 L720.99,560.7 L718.91,562.24 L716.93,563.81 L715.05,565.42 L713.29,567.06 L711.63,568.73 L710.09,570.44 L708.67,572.17 L707.37,573.93 L706.19,575.72 L705.13,577.53 L704.2,579.36 L703.4,581.21 L702.73,583.08 L702.19,584.96 L701.78,586.86 L701.52,588.77 L701.39,590.68 L701.4,592.61 L701.55,594.54 L701.84,596.47 L702.27,598.4 L702.85,600.33 L703.57,602.25 L704.44,604.16 L705.45,606.06 L706.6,607.95 L707.9,609.83 L709.34,611.68 L710.92,613.52 L712.64,615.33 L714.51,617.11 L716.51,618.87 L718.65,620.59 L720.92,622.28 L723.33,623.93 L725.87,625.54 L728.54,627.1 L731.33,628.63 L734.24,630.1 L737.27,631.53 L740.41,632.9 L743.67,634.22 L747.03,635.48 L750.49,636.68 L754.05,637.82 L757.7,638.9 L761.43,639.91 L765.25,640.85 L769.15,641.73 L773.12,642.53 L777.15,643.26 L781.24,643.92 L785.38,644.5 L789.57,645.01 L793.79,645.45 L798.05,645.8 L802.34,646.08 L806.65,646.27 L810.97,646.39 L815.3,646.43 L819.63,646.39 L823.95,646.27 L828.26,646.08 L832.55,645.8 L836.81,645.45 L841.03,645.01 L845.22,644.5 L849.36,643.92 L853.45,643.26 L857.48,642.53 L861.45,641.73 L865.35,640.85 L869.17,639.91 L872.9,638.9 L876.55,637.82 L880.11,636.68 L883.57,635.48 L886.93,634.22 L890.19,632.9 L893.33,631.53 L896.36,630.1 L899.27,628.63 L902.06,627.1 L904.73,625.54 L907.27,623.93 L909.68,622.28 L911.95,620.59 L914.09,618.87 L916.09,617.11 L917.96,615.33 M910.09,679.83 L911.7,677.99 L913.18,676.14 L914.54,674.26 L915.76,672.36 L916.84,670.44 L917.8,668.51 L918.62,666.57 L919.31,664.62 L919.87,662.66 L920.29,660.7 L920.58,658.74 L920.75,656.78 L920.78,654.82 L920.68,652.87 L920.46,650.92 L920.11,648.99 L919.63,647.07 L919.03,645.16 L918.31,643.28 L917.47,641.41 L916.51,639.56 L915.43,637.74 L914.24,635.94 L912.94,634.17 L911.53,632.42 L910.02,630.71 L908.39,629.03 L906.67,627.38 L904.85,625.77 L902.93,624.2 L900.92,622.67 L898.81,621.17 L896.62,619.72 L894.34,618.3 L891.99,616.94 L889.55,615.61 L887.03,614.34 L884.44,613.11 L881.79,611.92 L879.06,610.79 L876.27,609.71 L873.42,608.67 L870.51,607.69 L867.55,606.76 L864.53,605.88 L861.47,605.06 L858.36,604.29 L855.21,603.58 L852.02,602.92 L848.8,602.32 L845.54,601.77 L842.25,601.28 L838.94,600.85 L835.6,600.47 L832.25,600.15 L828.88,599.89 L825.5,599.69 L822.1,599.54 L818.7,599.45 L815.3,599.42 L811.9,599.45 L808.5,599.54 L805.1,599.69 L801.72,599.89 L798.35,600.15 L795,600.47 L791.66,600.85 L788.35,601.28 L785.06,601.77 L781.8,602.32 L778.58,602.92 L775.39,603.58 L772.24,604.29 L769.13,605.06 L766.07,605.88 L763.05,606.76 L760.09,607.69 L757.18,608.67 L754.33,609.71 L751.54,610.79 L748.81,611.92 L746.16,613.11 L743.57,614.34 L741.05,615.61 L738.61,616.94 L736.26,618.3 L733.98,619.72 L731.79,621.17 L729.68,622.67 L727.67,624.2 L725.75,625.77 L723.93,627.38 L722.21,629.03 L720.58,630.71 L719.07,632.42 L717.66,634.17 L716.36,635.94 L715.17,637.74 L714.09,639.56 L713.13,641.41 L712.29,643.28 L711.57,645.16 L710.97,647.07 L710.49,648.99 L710.14,650.92 L709.92,652.87 L709.82,654.82 L709.85,656.78 L710.02,658.74 L710.31,660.7 L710.73,662.66 L711.29,664.62 L711.98,666.57 L712.8,668.51 L713.76,670.44 L714.84,672.36 L716.06,674.26 L717.42,676.14 L718.9,677.99 L720.51,679.83 L722.25,681.63 L724.12,683.41 L726.11,685.15 L728.23,686.85 L730.46,688.52 L732.82,690.15 L735.29,691.73 L737.88,693.27 L740.58,694.75 L743.38,696.19 L746.29,697.57 L749.3,698.9 L752.4,700.17 L755.6,701.38 L758.89,702.53 L762.25,703.61 L765.7,704.63 L769.22,705.58 L772.81,706.46 L776.47,707.27 L780.18,708.01 L783.95,708.67 L787.76,709.26 L791.62,709.77 L795.51,710.2 L799.43,710.56 L803.38,710.84 L807.34,711.04 L811.32,711.15 L815.3,711.19 L819.28,711.15 L823.26,711.04 L827.22,710.84 L831.17,710.56 L835.09,710.2 L838.98,709.77 L842.84,709.26 L846.65,708.67 L850.42,708.01 L854.13,707.27 L857.79,706.46 L861.38,705.58 L864.9,704.63 L868.35,703.61 L871.71,702.53 L875,701.38 L878.2,700.17 L881.3,698.9 L884.31,697.57 L887.22,696.19 L890.02,694.75 L892.72,693.27 L895.31,691.73 L897.78,690.15 L900.14,688.52 L902.37,686.85 L904.49,685.15 L906.48,683.41 L908.35,681.63 L910.09,679.83 M864.47,712.55 L865.36,711.56 L866.19,710.55 L866.96,709.52 L867.66,708.48 L868.29,707.43 L868.86,706.37 L869.36,705.3 L869.79,704.23 L870.15,703.14 L870.45,702.06 L870.67,700.96 L870.83,699.87 L870.92,698.78 L870.94,697.68 L870.89,696.59 L870.78,695.5 L870.6,694.42 L870.35,693.34 L870.04,692.26 L869.66,691.2 L869.21,690.15 L868.71,689.1 L868.13,688.07 L867.5,687.05 L866.81,686.05 L866.06,685.06 L865.24,684.09 L864.37,683.13 L863.45,682.2 L862.47,681.28 L861.43,680.38 L860.34,679.51 L859.2,678.65 L858.02,677.82 L856.78,677.02 L855.5,676.24 L854.17,675.48 L852.8,674.76 L851.39,674.06 L849.93,673.38 L848.44,672.74 L846.92,672.12 L845.35,671.54 L843.76,670.98 L842.13,670.46 L840.48,669.97 L838.79,669.51 L837.09,669.08 L835.35,668.68 L833.6,668.32 L831.83,667.99 L830.04,667.7 L828.23,667.43 L826.41,667.21 L824.57,667.02 L822.73,666.86 L820.88,666.74 L819.02,666.65 L817.16,666.59 L815.3,666.58 L813.44,666.59 L811.58,666.65 L809.72,666.74 L807.87,666.86 L806.03,667.02 L804.19,667.21 L802.37,667.43 L800.56,667.7 L798.77,667.99 L797,668.32 L795.25,668.68 L793.51,669.08 L791.81,669.51 L790.12,669.97 L788.47,670.46 L786.84,670.98 L785.25,671.54 L783.68,672.12 L782.16,672.74 L780.67,673.38 L779.21,674.06 L777.8,674.76 L776.43,675.48 L775.1,676.24 L773.82,677.02 L772.58,677.82 L771.4,678.65 L770.26,679.51 L769.17,680.38 L768.13,681.28 L767.15,682.2 L766.23,683.13 L765.36,684.09 L764.54,685.06 L763.79,686.05 L763.1,687.05 L762.47,688.07 L761.89,689.1 L761.39,690.15 L760.94,691.2 L760.56,692.26 L760.25,693.34 L760,694.42 L759.82,695.5 L759.71,696.59 L759.66,697.68 L759.68,698.78 L759.77,699.87 L759.93,700.96 L760.15,702.06 L760.45,703.14 L760.81,704.23 L761.24,705.3 L761.74,706.37 L762.31,707.43 L762.94,708.48 L763.64,709.52 L764.41,710.55 L765.24,711.56 L766.13,712.55 L767.09,713.53 L768.12,714.48 L769.2,715.42 L770.34,716.34 L771.55,717.23 L772.81,718.1 L774.12,718.95 L775.49,719.77 L776.92,720.56 L778.39,721.32 L779.92,722.05 L781.49,722.76 L783.11,723.43 L784.77,724.06 L786.47,724.67 L788.21,725.24 L789.99,725.77 L791.8,726.27 L793.64,726.73 L795.51,727.15 L797.41,727.54 L799.34,727.88 L801.29,728.19 L803.25,728.46 L805.24,728.68 L807.23,728.87 L809.24,729.01 L811.25,729.12 L813.28,729.18 L815.3,729.2 L817.32,729.18 L819.35,729.12 L821.36,729.01 L823.37,728.87 L825.36,728.68 L827.35,728.46 L829.31,728.19 L831.26,727.88 L833.19,727.54 L835.09,727.15 L836.96,726.73 L838.8,726.27 L840.61,725.77 L842.39,725.24 L844.13,724.67 L845.83,724.06 L847.49,723.43 L849.11,722.76 L850.68,722.05 L852.21,721.32 L853.68,720.56 L855.11,719.77 L856.48,718.95 L857.79,718.1 L859.05,717.23 L860.26,716.34 L861.4,715.42 L862.48,714.48 L863.51,713.53 L864.47,712.55 M815.3,507.45 L819,508.42 L822.7,509.52 L826.4,510.77 L830.1,512.14 L833.79,513.65 L837.47,515.3 L841.13,517.07 L844.76,518.97 L848.36,521 L851.92,523.15 L855.44,525.43 L858.92,527.82 L862.35,530.32 L865.71,532.94 L869.02,535.66 L872.26,538.49 L875.42,541.42 L878.51,544.44 L881.52,547.55 L884.45,550.75 L887.28,554.04 L890.02,557.4 L892.66,560.83 L895.2,564.32 L897.63,567.88 L899.96,571.5 L902.17,575.16 L904.27,578.87 L906.24,582.63 L908.1,586.41 L909.83,590.23 L911.44,594.06 L912.92,597.92 L914.27,601.78 L915.49,605.66 L916.58,609.53 L917.53,613.4 L918.35,617.25 L919.04,621.1 L919.59,624.92 L920,628.71 L920.28,632.47 L920.42,636.2 L920.43,639.88 L920.31,643.51 L920.05,647.1 L919.66,650.62 L919.14,654.09 L918.49,657.49 L917.71,660.82 L916.81,664.08 L915.78,667.26 L914.63,670.36 L913.37,673.37 L911.98,676.3 L910.48,679.13 L908.87,681.87 L907.15,684.52 L905.33,687.06 L903.4,689.5 L901.37,691.83 L899.25,694.06 L897.03,696.18 L894.73,698.18 L892.34,700.08 L889.86,701.86 L887.31,703.52 L884.68,705.07 L881.97,706.5 L879.2,707.81 L876.37,709 L873.48,710.07 L870.52,711.01 L867.52,711.84 L864.47,712.55 L861.37,713.13 L858.22,713.6 L855.04,713.94 L851.83,714.16 L848.59,714.27 L845.32,714.25 L842.02,714.12 L838.71,713.86 L835.39,713.49 L832.05,713 L828.7,712.4 L825.35,711.69 L821.99,710.86 L818.64,709.92 L815.3,708.88 M815.3,507.45 L819.52,507.29 L823.74,507.26 L827.93,507.36 L832.11,507.6 L836.26,507.98 L840.38,508.49 L844.46,509.13 L848.49,509.9 L852.48,510.81 L856.41,511.84 L860.28,513 L864.08,514.28 L867.82,515.69 L871.47,517.22 L875.05,518.86 L878.55,520.62 L881.95,522.5 L885.27,524.48 L888.48,526.57 L891.59,528.76 L894.6,531.05 L897.5,533.43 L900.29,535.91 L902.96,538.48 L905.52,541.13 L907.95,543.87 L910.27,546.68 L912.45,549.56 L914.51,552.52 L916.44,555.54 L918.23,558.62 L919.9,561.75 L921.43,564.94 L922.82,568.18 L924.08,571.46 L925.2,574.78 L926.18,578.13 L927.02,581.52 L927.72,584.93 L928.28,588.36 L928.71,591.81 L928.99,595.28 L929.14,598.75 L929.15,602.23 L929.02,605.71 L928.76,609.19 L928.36,612.66 L927.82,616.12 L927.16,619.57 L926.36,622.99 L925.43,626.4 L924.38,629.78 L923.19,633.12 L921.89,636.43 L920.46,639.71 L918.91,642.94 L917.24,646.13 L915.46,649.28 L913.56,652.37 L911.55,655.4 L909.44,658.38 L907.21,661.3 L904.89,664.16 L902.47,666.95 L899.95,669.67 L897.33,672.32 L894.63,674.89 L891.84,677.39 L888.96,679.81 L886,682.15 L882.97,684.4 L879.86,686.57 L876.68,688.65 L873.43,690.63 L870.12,692.53 L866.75,694.33 L863.32,696.04 L859.84,697.65 L856.31,699.16 L852.73,700.57 L849.11,701.88 L845.46,703.08 L841.77,704.18 L838.05,705.18 L834.3,706.06 L830.53,706.84 L826.74,707.52 L822.94,708.08 L819.12,708.53 L815.3,708.88 M815.3,507.45 L818.31,506.26 L821.3,505.2 L824.26,504.29 L827.2,503.51 L830.12,502.89 L832.99,502.4 L835.84,502.06 L838.64,501.86 L841.39,501.79 L844.1,501.87 L846.76,502.09 L849.37,502.44 L851.92,502.93 L854.41,503.56 L856.84,504.31 L859.2,505.2 L861.5,506.21 L863.73,507.35 L865.89,508.61 L867.97,509.99 L869.98,511.49 L871.91,513.1 L873.76,514.83 L875.53,516.67 L877.22,518.61 L878.83,520.65 L880.35,522.79 L881.78,525.03 L883.14,527.37 L884.4,529.79 L885.57,532.3 L886.66,534.89 L887.66,537.57 L888.56,540.31 L889.38,543.14 L890.11,546.03 L890.75,548.98 L891.29,552 L891.75,555.07 L892.11,558.21 L892.39,561.39 L892.57,564.62 L892.67,567.89 L892.67,571.2 L892.59,574.55 L892.42,577.94 L892.16,581.35 L891.82,584.79 L891.38,588.25 L890.87,591.74 L890.26,595.23 L889.58,598.74 L888.81,602.26 L887.96,605.79 L887.02,609.31 L886.01,612.83 L884.92,616.35 L883.75,619.86 L882.51,623.36 L881.19,626.85 L879.8,630.31 L878.34,633.76 L876.8,637.18 L875.2,640.57 L873.53,643.93 L871.79,647.25 L869.99,650.54 L868.13,653.79 L866.21,656.99 L864.22,660.15 L862.18,663.25 L860.09,666.31 L857.94,669.3 L855.74,672.24 L853.49,675.12 L851.19,677.93 L848.85,680.67 L846.46,683.34 L844.04,685.94 L841.57,688.46 L839.07,690.9 L836.53,693.26 L833.96,695.54 L831.36,697.73 L828.74,699.82 L826.09,701.83 L823.42,703.74 L820.73,705.55 L818.02,707.27 L815.3,708.88 M815.3,507.45 L815.85,505.75 L816.4,504.19 L816.95,502.78 L817.49,501.52 L818.02,500.41 L818.55,499.45 L819.07,498.64 L819.58,497.97 L820.08,497.46 L820.57,497.09 L821.05,496.86 L821.53,496.79 L821.99,496.85 L822.44,497.06 L822.87,497.41 L823.3,497.89 L823.71,498.51 L824.11,499.27 L824.5,500.16 L824.87,501.17 L825.23,502.32 L825.57,503.59 L825.9,504.98 L826.22,506.49 L826.52,508.11 L826.81,509.85 L827.08,511.7 L827.33,513.65 L827.57,515.71 L827.8,517.88 L828,520.14 L828.2,522.49 L828.37,524.94 L828.53,527.47 L828.68,530.09 L828.81,532.79 L828.92,535.57 L829.01,538.43 L829.09,541.35 L829.16,544.35 L829.21,547.41 L829.24,550.53 L829.26,553.72 L829.26,556.95 L829.24,560.24 L829.21,563.58 L829.17,566.97 L829.11,570.39 L829.03,573.86 L828.94,577.36 L828.83,580.89 L828.71,584.45 L828.58,588.04 L828.43,591.65 L828.26,595.28 L828.08,598.92 L827.89,602.58 L827.68,606.24 L827.46,609.92 L827.23,613.59 L826.98,617.27 L826.72,620.94 L826.45,624.6 L826.16,628.25 L825.86,631.89 L825.55,635.52 L825.23,639.12 L824.9,642.7 L824.56,646.25 L824.2,649.77 L823.83,653.26 L823.46,656.72 L823.07,660.13 L822.68,663.5 L822.27,666.82 L821.85,670.1 L821.43,673.32 L821,676.48 L820.56,679.59 L820.11,682.63 L819.66,685.61 L819.19,688.51 L818.73,691.35 L818.25,694.11 L817.77,696.79 L817.29,699.38 L816.79,701.89 L816.3,704.31 L815.8,706.64 L815.3,708.88 M815.3,507.45 L813.18,505.97 L811.07,504.63 L808.97,503.44 L806.9,502.4 L804.85,501.5 L802.83,500.75 L800.83,500.14 L798.86,499.68 L796.93,499.36 L795.03,499.19 L793.17,499.16 L791.35,499.27 L789.56,499.52 L787.83,499.91 L786.13,500.43 L784.48,501.09 L782.88,501.88 L781.33,502.8 L779.83,503.85 L778.38,505.03 L776.99,506.33 L775.65,507.74 L774.36,509.28 L773.14,510.93 L771.97,512.69 L770.85,514.56 L769.8,516.54 L768.81,518.62 L767.87,520.8 L767,523.07 L766.19,525.44 L765.44,527.9 L764.75,530.44 L764.12,533.07 L763.56,535.77 L763.06,538.56 L762.62,541.41 L762.24,544.34 L761.93,547.33 L761.68,550.38 L761.49,553.5 L761.36,556.67 L761.29,559.89 L761.29,563.16 L761.35,566.47 L761.46,569.83 L761.64,573.23 L761.88,576.66 L762.18,580.13 L762.54,583.62 L762.95,587.14 L763.43,590.68 L763.96,594.24 L764.54,597.81 L765.19,601.39 L765.89,604.99 L766.64,608.58 L767.44,612.18 L768.3,615.78 L769.22,619.37 L770.18,622.96 L771.19,626.53 L772.25,630.09 L773.36,633.63 L774.52,637.15 L775.73,640.64 L776.98,644.11 L778.27,647.55 L779.61,650.95 L780.99,654.31 L782.41,657.64 L783.87,660.92 L785.36,664.15 L786.9,667.33 L788.47,670.46 L790.07,673.53 L791.71,676.54 L793.38,679.49 L795.08,682.38 L796.81,685.19 L798.56,687.93 L800.34,690.6 L802.15,693.19 L803.97,695.7 L805.82,698.12 L807.68,700.46 L809.57,702.71 L811.47,704.86 L813.38,706.92 L815.3,708.88 M815.3,507.45 L811.62,506.63 L807.95,505.94 L804.3,505.39 L800.68,504.98 L797.1,504.7 L793.55,504.57 L790.04,504.58 L786.57,504.72 L783.16,505 L779.8,505.41 L776.5,505.96 L773.26,506.64 L770.09,507.45 L766.99,508.39 L763.96,509.45 L761.01,510.64 L758.14,511.95 L755.35,513.38 L752.65,514.93 L750.04,516.59 L747.53,518.36 L745.1,520.24 L742.78,522.23 L740.55,524.32 L738.42,526.5 L736.4,528.78 L734.48,531.15 L732.67,533.61 L730.97,536.16 L729.37,538.79 L727.89,541.49 L726.52,544.27 L725.26,547.12 L724.11,550.03 L723.07,553.01 L722.15,556.05 L721.35,559.14 L720.66,562.28 L720.08,565.47 L719.62,568.71 L719.27,571.98 L719.03,575.29 L718.91,578.64 L718.91,582.01 L719.01,585.4 L719.23,588.82 L719.56,592.26 L719.99,595.7 L720.54,599.16 L721.2,602.63 L721.96,606.1 L722.83,609.56 L723.8,613.02 L724.88,616.48 L726.06,619.92 L727.34,623.35 L728.71,626.76 L730.19,630.14 L731.76,633.5 L733.42,636.84 L735.17,640.14 L737.01,643.41 L738.95,646.63 L740.96,649.82 L743.06,652.96 L745.24,656.06 L747.5,659.1 L749.84,662.09 L752.25,665.02 L754.73,667.9 L757.28,670.71 L759.9,673.46 L762.59,676.13 L765.33,678.74 L768.13,681.28 L770.99,683.74 L773.91,686.12 L776.87,688.42 L779.88,690.63 L782.94,692.77 L786.04,694.81 L789.18,696.76 L792.35,698.62 L795.56,700.39 L798.79,702.05 L802.05,703.62 L805.34,705.09 L808.64,706.46 L811.97,707.72 L815.3,708.88 M815.3,507.45 L811.07,507.76 L806.85,508.19 L802.63,508.77 L798.43,509.47 L794.25,510.31 L790.1,511.29 L785.97,512.39 L781.89,513.62 L777.85,514.98 L773.86,516.47 L769.92,518.08 L766.05,519.81 L762.24,521.66 L758.5,523.62 L754.84,525.7 L751.26,527.89 L747.76,530.18 L744.36,532.58 L741.05,535.08 L737.85,537.67 L734.74,540.35 L731.75,543.12 L728.87,545.98 L726.1,548.92 L723.45,551.93 L720.93,555.01 L718.53,558.16 L716.26,561.37 L714.12,564.63 L712.11,567.95 L710.24,571.32 L708.51,574.73 L706.91,578.18 L705.46,581.67 L704.15,585.18 L702.98,588.71 L701.95,592.27 L701.07,595.84 L700.34,599.42 L699.75,603.01 L699.31,606.6 L699.01,610.18 L698.85,613.75 L698.84,617.31 L698.98,620.86 L699.25,624.38 L699.67,627.87 L700.23,631.34 L700.93,634.77 L701.76,638.16 L702.73,641.51 L703.83,644.81 L705.07,648.07 L706.43,651.26 L707.92,654.41 L709.54,657.49 L711.28,660.5 L713.13,663.45 L715.11,666.33 L717.19,669.13 L719.39,671.86 L721.69,674.51 L724.1,677.08 L726.61,679.56 L729.22,681.96 L731.92,684.27 L734.71,686.48 L737.59,688.6 L740.56,690.63 L743.6,692.56 L746.72,694.39 L749.91,696.12 L753.17,697.75 L756.5,699.27 L759.88,700.69 L763.33,702 L766.82,703.21 L770.37,704.31 L773.96,705.3 L777.59,706.18 L781.26,706.95 L784.96,707.61 L788.7,708.16 L792.45,708.6 L796.23,708.92 L800.03,709.14 L803.83,709.24 L807.65,709.23 L811.48,709.11 L815.3,708.88 M815.3,507.45 L812.28,508.79 L809.25,510.27 L806.22,511.89 L803.18,513.65 L800.15,515.54 L797.13,517.57 L794.11,519.73 L791.12,522.02 L788.15,524.43 L785.2,526.97 L782.29,529.63 L779.4,532.4 L776.56,535.29 L773.76,538.29 L771.01,541.4 L768.32,544.6 L765.68,547.91 L763.1,551.3 L760.58,554.78 L758.14,558.35 L755.76,561.99 L753.47,565.7 L751.25,569.47 L749.12,573.31 L747.07,577.2 L745.12,581.13 L743.25,585.11 L741.49,589.13 L739.82,593.17 L738.25,597.24 L736.79,601.33 L735.43,605.42 L734.18,609.53 L733.04,613.63 L732,617.72 L731.08,621.79 L730.28,625.85 L729.58,629.88 L729,633.88 L728.54,637.84 L728.18,641.76 L727.95,645.63 L727.83,649.45 L727.82,653.2 L727.93,656.89 L728.14,660.51 L728.47,664.05 L728.92,667.51 L729.47,670.89 L730.12,674.18 L730.89,677.38 L731.76,680.48 L732.73,683.48 L733.8,686.38 L734.97,689.17 L736.24,691.85 L737.6,694.42 L739.05,696.87 L740.59,699.21 L742.22,701.42 L743.92,703.51 L745.71,705.48 L747.58,707.32 L749.51,709.04 L751.52,710.63 L753.6,712.09 L755.74,713.42 L757.94,714.62 L760.2,715.69 L762.52,716.63 L764.89,717.44 L767.3,718.11 L769.76,718.66 L772.26,719.07 L774.8,719.36 L777.38,719.52 L779.98,719.55 L782.62,719.45 L785.28,719.22 L787.96,718.88 L790.66,718.4 L793.37,717.81 L796.1,717.1 L798.84,716.26 L801.59,715.31 L804.33,714.25 L807.08,713.07 L809.83,711.78 L812.57,710.38 L815.3,708.88 M815.3,507.45 L814.74,509.31 L814.18,511.3 L813.62,513.45 L813.05,515.73 L812.49,518.16 L811.93,520.72 L811.36,523.42 L810.8,526.25 L810.25,529.2 L809.69,532.29 L809.14,535.5 L808.6,538.82 L808.07,542.26 L807.54,545.8 L807.02,549.46 L806.5,553.2 L806,557.05 L805.51,560.98 L805.03,564.99 L804.56,569.08 L804.11,573.24 L803.67,577.46 L803.25,581.74 L802.84,586.08 L802.44,590.45 L802.07,594.86 L801.71,599.3 L801.37,603.76 L801.04,608.24 L800.74,612.72 L800.46,617.21 L800.19,621.69 L799.95,626.15 L799.73,630.59 L799.53,635.01 L799.35,639.39 L799.19,643.73 L799.06,648.01 L798.95,652.25 L798.86,656.42 L798.79,660.52 L798.74,664.54 L798.72,668.48 L798.72,672.34 L798.74,676.1 L798.78,679.77 L798.84,683.33 L798.93,686.79 L799.04,690.13 L799.16,693.36 L799.31,696.46 L799.48,699.44 L799.67,702.29 L799.88,705.01 L800.11,707.6 L800.35,710.05 L800.61,712.35 L800.9,714.52 L801.19,716.54 L801.51,718.42 L801.84,720.16 L802.18,721.74 L802.54,723.18 L802.91,724.47 L803.3,725.6 L803.7,726.6 L804.11,727.44 L804.53,728.13 L804.96,728.68 L805.4,729.08 L805.85,729.33 L806.31,729.44 L806.78,729.4 L807.25,729.23 L807.73,728.91 L808.22,728.45 L808.71,727.86 L809.21,727.14 L809.71,726.28 L810.21,725.29 L810.72,724.18 L811.23,722.94 L811.74,721.58 L812.25,720.1 L812.76,718.5 L813.27,716.79 L813.78,714.97 L814.29,713.04 L814.8,711.01 L815.3,708.88 M815.3,507.45 L817.44,509.08 L819.58,510.85 L821.73,512.76 L823.89,514.81 L826.04,517 L828.19,519.32 L830.33,521.78 L832.47,524.37 L834.59,527.09 L836.69,529.93 L838.78,532.89 L840.84,535.97 L842.87,539.17 L844.88,542.47 L846.85,545.87 L848.79,549.38 L850.68,552.98 L852.54,556.67 L854.35,560.45 L856.11,564.3 L857.82,568.23 L859.48,572.22 L861.08,576.27 L862.62,580.38 L864.1,584.54 L865.52,588.73 L866.87,592.97 L868.15,597.23 L869.36,601.51 L870.49,605.81 L871.56,610.11 L872.54,614.42 L873.45,618.72 L874.28,623 L875.03,627.27 L875.7,631.52 L876.29,635.73 L876.8,639.9 L877.22,644.03 L877.56,648.1 L877.81,652.12 L877.99,656.08 L878.07,659.96 L878.08,663.77 L878,667.5 L877.84,671.15 L877.6,674.7 L877.28,678.16 L876.88,681.52 L876.4,684.78 L875.84,687.92 L875.21,690.96 L874.51,693.88 L873.73,696.68 L872.88,699.36 L871.96,701.91 L870.97,704.34 L869.91,706.63 L868.8,708.8 L867.62,710.83 L866.38,712.73 L865.09,714.48 L863.74,716.1 L862.34,717.59 L860.88,718.93 L859.38,720.13 L857.84,721.19 L856.25,722.11 L854.62,722.89 L852.95,723.54 L851.25,724.04 L849.52,724.4 L847.75,724.63 L845.95,724.72 L844.13,724.67 L842.29,724.49 L840.42,724.17 L838.54,723.73 L836.64,723.15 L834.72,722.45 L832.8,721.62 L830.86,720.67 L828.92,719.6 L826.97,718.4 L825.02,717.09 L823.07,715.67 L821.12,714.13 L819.17,712.49 L817.23,710.73 L815.3,708.88" fill="none" stroke="#c6c6c6" stroke-width="1.1" stroke-opacity="0.85"/>
<path d="M920.31,643.51 L921.64,642.07 L922.89,640.61 L924.05,639.14 L925.14,637.65 L926.14,636.16 L927.06,634.65 L927.9,633.14 L928.66,631.62 L929.33,630.09 L929.92,628.56 L930.42,627.02 L930.85,625.48 L931.19,623.94 L931.45,622.4 L931.62,620.86 L931.72,619.32 L931.73,617.78 L931.67,616.25 L931.52,614.72 L931.3,613.2 L931,611.69 L930.62,610.18 L930.16,608.68 L929.63,607.19 L929.02,605.71 L928.34,604.25 L927.59,602.79 L926.76,601.35 L925.86,599.93 L924.89,598.52 L923.85,597.12 L922.75,595.74 L921.57,594.38 L920.34,593.04 L919.03,591.72 L917.67,590.41 L916.24,589.13 L914.75,587.86 L913.2,586.62 L911.59,585.4 L909.92,584.21 L908.2,583.03 L906.43,581.88 L904.6,580.76 L902.72,579.66 L900.79,578.59 L898.81,577.54 L896.78,576.52 L894.71,575.52 L892.59,574.55 L890.43,573.61 L888.23,572.7 L885.98,571.82 L883.7,570.97 L881.38,570.14 L879.02,569.35 L876.63,568.58 L874.2,567.85 L871.74,567.15 L869.25,566.47 L866.74,565.83 L864.19,565.22 L861.62,564.65 L859.02,564.1 L856.4,563.58 L853.76,563.1 L851.1,562.65 L848.42,562.24 L845.72,561.85 L843.01,561.5 L840.28,561.18 L837.53,560.9 L834.78,560.65 L832.02,560.43 L829.24,560.24 L826.46,560.09 L823.68,559.97 L820.89,559.89 L818.09,559.84 L815.3,559.82 L812.51,559.84 L809.71,559.89 L806.92,559.97 L804.14,560.09 L801.36,560.24 L798.58,560.43 L795.82,560.65 L793.07,560.9 L790.32,561.18 L787.59,561.5 L784.88,561.85 L782.18,562.24 L779.5,562.65 L776.84,563.1 L774.2,563.58 L771.58,564.1 L768.98,564.65 L766.41,565.22 L763.86,565.83 L761.35,566.47 L758.86,567.15 L756.4,567.85 L753.97,568.58 L751.58,569.35 L749.22,570.14 L746.9,570.97 L744.62,571.82 L742.37,572.7 L740.17,573.61 L738.01,574.55 L735.89,575.52 L733.82,576.52 L731.79,577.54 L729.81,578.59 L727.88,579.66 L726,580.76 L724.17,581.88 L722.4,583.03 L720.68,584.21 L719.01,585.4 L717.4,586.62 L715.85,587.86 L714.36,589.13 L712.93,590.41 L711.57,591.72 L710.26,593.04 L709.03,594.38 L707.85,595.74 L706.75,597.12 L705.71,598.52 L704.74,599.93 L703.84,601.35 L703.01,602.79 L702.26,604.25 L701.58,605.71 L700.97,607.19 L700.44,608.68 L699.98,610.18 L699.6,611.69 L699.3,613.2 L699.08,614.72 L698.93,616.25 L698.87,617.78 L698.88,619.32 L698.98,620.86 L699.15,622.4 L699.41,623.94 L699.75,625.48 L700.18,627.02 L700.68,628.56 L701.27,630.09 L701.94,631.62 L702.7,633.14 L703.54,634.65 L704.46,636.16 L705.46,637.65 L706.55,639.14 L707.71,640.61 L708.96,642.07 L710.29,643.51 L711.71,644.94 L713.2,646.35 L714.77,647.75 L716.42,649.12 L718.15,650.47 L719.95,651.8 L721.84,653.11 L723.79,654.4 L725.82,655.66 L727.93,656.89 L730.1,658.09 L732.34,659.27 L734.65,660.41 L737.03,661.53 L739.47,662.61 L741.98,663.66 L744.55,664.67 L747.17,665.65 L749.86,666.6 L752.6,667.5 L755.39,668.37 L758.23,669.2 L761.13,669.99 L764.07,670.74 L767.05,671.45 L770.07,672.11 L773.14,672.73 L776.24,673.31 L779.37,673.85 L782.54,674.34 L785.73,674.78 L788.95,675.18 L792.19,675.54 L795.46,675.84 L798.74,676.1 L802.03,676.32 L805.34,676.48 L808.65,676.6 L811.98,676.68 L815.3,676.7 L818.62,676.68 L821.95,676.6 L825.26,676.48 L828.57,676.32 L831.86,676.1 L835.14,675.84 L838.41,675.54 L841.65,675.18 L844.87,674.78 L848.06,674.34 L851.23,673.85 L854.36,673.31 L857.46,672.73 L860.53,672.11 L863.55,671.45 L866.53,670.74 L869.47,669.99 L872.37,669.2 L875.21,668.37 L878,667.5 L880.74,666.6 L883.43,665.65 L886.05,664.67 L888.62,663.66 L891.13,662.61 L893.57,661.53 L895.95,660.41 L898.26,659.27 L900.5,658.09 L902.67,656.89 L904.78,655.66 L906.81,654.4 L908.76,653.11 L910.65,651.8 L912.45,650.47 L914.18,649.12 L915.83,647.75 L917.4,646.35 L918.89,644.94 L920.31,643.51 Z M869.25,566.47 L869.3,563.98 L869.32,561.52 L869.3,559.08 L869.24,556.67 L869.15,554.28 L869.03,551.93 L868.87,549.61 L868.67,547.33 L868.44,545.08 L868.18,542.87 L867.88,540.69 L867.54,538.56 L867.17,536.46 L866.77,534.41 L866.33,532.4 L865.85,530.44 L865.34,528.52 L864.79,526.66 L864.21,524.84 L863.6,523.07 L862.95,521.36 L862.27,519.7 L861.55,518.09 L860.8,516.54 L860.01,515.05 L859.2,513.61 L858.35,512.24 L857.46,510.93 L856.55,509.68 L855.6,508.5 L854.62,507.38 L853.61,506.33 L852.57,505.34 L851.5,504.43 L850.4,503.58 L849.27,502.8 L848.11,502.1 L846.92,501.47 L845.71,500.91 L844.47,500.43 L843.2,500.02 L841.91,499.69 L840.59,499.44 L839.25,499.27 L837.89,499.17 L836.51,499.15 L835.1,499.22 L833.67,499.36 L832.22,499.59 L830.76,499.89 L829.27,500.28 L827.77,500.75 L826.26,501.3 L824.73,501.93 L823.18,502.65 L821.63,503.44 L820.06,504.32 L818.48,505.29 L816.89,506.33 L815.3,507.45 L813.7,508.66 L812.09,509.95 L810.48,511.31 L808.87,512.76 L807.25,514.28 L805.64,515.89 L804.02,517.57 L802.41,519.32 L800.8,521.16 L799.2,523.06 L797.6,525.04 L796.01,527.09 L794.43,529.21 L792.86,531.4 L791.31,533.65 L789.76,535.97 L788.24,538.36 L786.72,540.8 L785.23,543.31 L783.75,545.87 L782.29,548.5 L780.86,551.17 L779.45,553.9 L778.06,556.67 L776.7,559.5 L775.36,562.36 L774.05,565.28 L772.78,568.23 L771.53,571.22 L770.31,574.24 L769.13,577.29 L767.98,580.38 L766.86,583.49 L765.78,586.63 L764.74,589.79 L763.73,592.97 L762.77,596.16 L761.84,599.37 L760.95,602.58 L760.11,605.81 L759.3,609.03 L758.54,612.26 L757.82,615.49 L757.15,618.72 L756.52,621.93 L755.93,625.14 L755.39,628.34 L754.9,631.52 L754.45,634.68 L754.05,637.82 L753.69,640.94 L753.38,644.03 L753.12,647.09 L752.9,650.12 L752.74,653.12 L752.61,656.08 L752.54,659 L752.51,661.88 L752.53,664.71 L752.6,667.5 L752.71,670.24 L752.87,672.94 L753.07,675.58 L753.32,678.16 L753.61,680.69 L753.95,683.16 L754.33,685.57 L754.76,687.92 L755.22,690.21 L755.73,692.43 L756.28,694.59 L756.87,696.68 L757.51,698.7 L758.18,700.65 L758.89,702.53 L759.63,704.34 L760.42,706.07 L761.24,707.73 L762.09,709.32 L762.98,710.83 L763.9,712.26 L764.86,713.62 L765.84,714.9 L766.86,716.1 L767.91,717.23 L768.98,718.27 L770.09,719.24 L771.22,720.13 L772.37,720.94 L773.55,721.67 L774.75,722.32 L775.98,722.89 L777.23,723.39 L778.49,723.8 L779.78,724.14 L781.08,724.4 L782.41,724.58 L783.75,724.69 L785.1,724.72 L786.47,724.67 L787.85,724.54 L789.24,724.35 L790.65,724.07 L792.06,723.73 L793.49,723.31 L794.92,722.82 L796.36,722.25 L797.8,721.62 L799.25,720.92 L800.71,720.15 L802.17,719.31 L803.63,718.4 L805.09,717.43 L806.56,716.39 L808.02,715.29 L809.48,714.13 L810.94,712.91 L812.4,711.62 L813.85,710.28 L815.3,708.88 L816.74,707.42 L818.18,705.9 L819.61,704.33 L821.03,702.71 L822.45,701.03 L823.85,699.3 L825.24,697.52 L826.63,695.7 L828,693.83 L829.36,691.91 L830.71,689.94 L832.04,687.93 L833.36,685.88 L834.66,683.79 L835.95,681.66 L837.22,679.49 L838.48,677.29 L839.71,675.04 L840.93,672.77 L842.13,670.46 L843.31,668.12 L844.47,665.75 L845.61,663.34 L846.73,660.92 L847.83,658.46 L848.91,655.98 L849.96,653.48 L850.99,650.95 L852,648.4 L852.98,645.83 L853.94,643.25 L854.87,640.64 L855.78,638.03 L856.66,635.39 L857.52,632.75 L858.35,630.09 L859.15,627.42 L859.92,624.75 L860.67,622.06 L861.38,619.37 L862.07,616.68 L862.73,613.98 L863.36,611.28 L863.96,608.58 L864.53,605.88 L865.07,603.19 L865.58,600.5 L866.06,597.81 L866.5,595.13 L866.92,592.45 L867.3,589.79 L867.65,587.14 L867.97,584.5 L868.25,581.87 L868.5,579.26 L868.72,576.66 L868.9,574.09 L869.05,571.53 L869.17,568.99 L869.25,566.47 Z M719.01,585.4 L920.31,643.51 M752.6,667.5 L869.25,566.47 M815.3,708.88 L815.3,507.45" fill="none" stroke="#7a7a7a" stroke-width="1.25"/>
<circle cx="1117.1" cy="613.2" r="117.2" fill="url(#sg)"/>
<path d="M1182.58,546.77 L1183.74,545.73 L1184.82,544.68 L1185.81,543.61 L1186.71,542.53 L1187.52,541.44 L1188.24,540.33 L1188.87,539.22 L1189.41,538.11 L1189.86,536.98 L1190.21,535.86 L1190.48,534.73 L1190.65,533.59 L1190.74,532.46 L1190.73,531.33 L1190.63,530.21 L1190.45,529.09 L1190.17,527.97 L1189.81,526.86 L1189.37,525.76 L1188.83,524.67 L1188.21,523.59 L1187.51,522.52 L1186.73,521.46 L1185.87,520.42 L1184.93,519.39 L1183.9,518.39 L1182.81,517.39 L1181.64,516.42 L1180.39,515.47 L1179.08,514.53 L1177.7,513.62 L1176.25,512.73 L1174.73,511.87 L1173.15,511.03 L1171.51,510.21 L1169.81,509.42 L1168.05,508.66 L1166.24,507.92 L1164.37,507.21 L1162.46,506.53 L1160.49,505.88 L1158.48,505.26 L1156.43,504.67 L1154.33,504.11 L1152.2,503.58 L1150.03,503.08 L1147.82,502.62 L1145.58,502.19 L1143.31,501.79 L1141.02,501.43 L1138.7,501.09 L1136.35,500.8 L1133.99,500.54 L1131.61,500.31 L1129.21,500.11 L1126.81,499.96 L1124.39,499.83 L1121.96,499.74 L1119.53,499.69 L1117.1,499.67 L1114.67,499.69 L1112.24,499.74 L1109.81,499.83 L1107.39,499.96 L1104.99,500.11 L1102.59,500.31 L1100.21,500.54 L1097.85,500.8 L1095.5,501.09 L1093.18,501.43 L1090.89,501.79 L1088.62,502.19 L1086.38,502.62 L1084.17,503.08 L1082,503.58 L1079.87,504.11 L1077.77,504.67 L1075.72,505.26 L1073.71,505.88 L1071.74,506.53 L1069.83,507.21 L1067.96,507.92 L1066.15,508.66 L1064.39,509.42 L1062.69,510.21 L1061.05,511.03 L1059.47,511.87 L1057.95,512.73 L1056.5,513.62 L1055.12,514.53 L1053.81,515.47 L1052.56,516.42 L1051.39,517.39 L1050.3,518.39 L1049.27,519.39 L1048.33,520.42 L1047.47,521.46 L1046.69,522.52 L1045.99,523.59 L1045.37,524.67 L1044.83,525.76 L1044.39,526.86 L1044.03,527.97 L1043.75,529.09 L1043.57,530.21 L1043.47,531.33 L1043.46,532.46 L1043.55,533.59 L1043.72,534.73 L1043.99,535.86 L1044.34,536.98 L1044.79,538.11 L1045.33,539.22 L1045.96,540.33 L1046.68,541.44 L1047.49,542.53 L1048.39,543.61 L1049.38,544.68 L1050.46,545.73 L1051.62,546.77 L1052.87,547.79 L1054.21,548.79 L1055.63,549.77 L1057.13,550.73 L1058.71,551.67 L1060.37,552.58 L1062.11,553.47 L1063.92,554.33 L1065.8,555.16 L1067.76,555.97 L1069.78,556.74 L1071.87,557.48 L1074.02,558.19 L1076.23,558.86 L1078.5,559.5 L1080.82,560.1 L1083.19,560.66 L1085.61,561.19 L1088.08,561.68 L1090.58,562.12 L1093.13,562.53 L1095.7,562.9 L1098.31,563.22 L1100.94,563.5 L1103.6,563.74 L1106.28,563.94 L1108.97,564.09 L1111.67,564.2 L1114.38,564.27 L1117.1,564.29 L1119.82,564.27 L1122.53,564.2 L1125.23,564.09 L1127.92,563.94 L1130.6,563.74 L1133.26,563.5 L1135.89,563.22 L1138.5,562.9 L1141.07,562.53 L1143.62,562.12 L1146.12,561.68 L1148.59,561.19 L1151.01,560.66 L1153.38,560.1 L1155.7,559.5 L1157.97,558.86 L1160.18,558.19 L1162.33,557.48 L1164.42,556.74 L1166.44,555.97 L1168.4,555.16 L1170.28,554.33 L1172.09,553.47 L1173.83,552.58 L1175.49,551.67 L1177.07,550.73 L1178.57,549.77 L1179.99,548.79 L1181.33,547.79 L1182.58,546.77 M1219.76,615.33 L1221.48,613.52 L1223.06,611.68 L1224.5,609.83 L1225.8,607.95 L1226.95,606.06 L1227.96,604.16 L1228.83,602.25 L1229.55,600.33 L1230.13,598.4 L1230.56,596.47 L1230.85,594.54 L1231,592.61 L1231.01,590.68 L1230.88,588.77 L1230.62,586.86 L1230.21,584.96 L1229.67,583.08 L1229,581.21 L1228.2,579.36 L1227.27,577.53 L1226.21,575.72 L1225.03,573.93 L1223.73,572.17 L1222.31,570.44 L1220.77,568.73 L1219.11,567.06 L1217.35,565.42 L1215.47,563.81 L1213.49,562.24 L1211.41,560.7 L1209.23,559.21 L1206.95,557.75 L1204.58,556.33 L1202.12,554.95 L1199.57,553.62 L1196.93,552.33 L1194.22,551.09 L1191.42,549.89 L1188.56,548.74 L1185.62,547.64 L1182.61,546.58 L1179.54,545.58 L1176.41,544.62 L1173.22,543.72 L1169.98,542.87 L1166.68,542.07 L1163.34,541.32 L1159.95,540.63 L1156.53,539.99 L1153.06,539.4 L1149.56,538.87 L1146.03,538.39 L1142.48,537.97 L1138.89,537.61 L1135.29,537.3 L1131.68,537.04 L1128.04,536.85 L1124.4,536.71 L1120.75,536.62 L1117.1,536.59 L1113.45,536.62 L1109.8,536.71 L1106.16,536.85 L1102.52,537.04 L1098.91,537.3 L1095.31,537.61 L1091.72,537.97 L1088.17,538.39 L1084.64,538.87 L1081.14,539.4 L1077.67,539.99 L1074.25,540.63 L1070.86,541.32 L1067.52,542.07 L1064.22,542.87 L1060.98,543.72 L1057.79,544.62 L1054.66,545.58 L1051.59,546.58 L1048.58,547.64 L1045.64,548.74 L1042.78,549.89 L1039.98,551.09 L1037.27,552.33 L1034.63,553.62 L1032.08,554.95 L1029.62,556.33 L1027.25,557.75 L1024.97,559.21 L1022.79,560.7 L1020.71,562.24 L1018.73,563.81 L1016.85,565.42 L1015.09,567.06 L1013.43,568.73 L1011.89,570.44 L1010.47,572.17 L1009.17,573.93 L1007.99,575.72 L1006.93,577.53 L1006,579.36 L1005.2,581.21 L1004.53,583.08 L1003.99,584.96 L1003.58,586.86 L1003.32,588.77 L1003.19,590.68 L1003.2,592.61 L1003.35,594.54 L1003.64,596.47 L1004.07,598.4 L1004.65,600.33 L1005.37,602.25 L1006.24,604.16 L1007.25,606.06 L1008.4,607.95 L1009.7,609.83 L1011.14,611.68 L1012.72,613.52 L1014.44,615.33 L1016.31,617.11 L1018.31,618.87 L1020.45,620.59 L1022.72,622.28 L1025.13,623.93 L1027.67,625.54 L1030.34,627.1 L1033.13,628.63 L1036.04,630.1 L1039.07,631.53 L1042.21,632.9 L1045.47,634.22 L1048.83,635.48 L1052.29,636.68 L1055.85,637.82 L1059.5,638.9 L1063.23,639.91 L1067.05,640.85 L1070.95,641.73 L1074.92,642.53 L1078.95,643.26 L1083.04,643.92 L1087.18,644.5 L1091.37,645.01 L1095.59,645.45 L1099.85,645.8 L1104.14,646.08 L1108.45,646.27 L1112.77,646.39 L1117.1,646.43 L1121.43,646.39 L1125.75,646.27 L1130.06,646.08 L1134.35,645.8 L1138.61,645.45 L1142.83,645.01 L1147.02,644.5 L1151.16,643.92 L1155.25,643.26 L1159.28,642.53 L1163.25,641.73 L1167.15,640.85 L1170.97,639.91 L1174.7,638.9 L1178.35,637.82 L1181.91,636.68 L1185.37,635.48 L1188.73,634.22 L1191.99,632.9 L1195.13,631.53 L1198.16,630.1 L1201.07,628.63 L1203.86,627.1 L1206.53,625.54 L1209.07,623.93 L1211.48,622.28 L1213.75,620.59 L1215.89,618.87 L1217.89,617.11 L1219.76,615.33 M1211.89,679.83 L1213.5,677.99 L1214.98,676.14 L1216.34,674.26 L1217.56,672.36 L1218.64,670.44 L1219.6,668.51 L1220.42,666.57 L1221.11,664.62 L1221.67,662.66 L1222.09,660.7 L1222.38,658.74 L1222.55,656.78 L1222.58,654.82 L1222.48,652.87 L1222.26,650.92 L1221.91,648.99 L1221.43,647.07 L1220.83,645.16 L1220.11,643.28 L1219.27,641.41 L1218.31,639.56 L1217.23,637.74 L1216.04,635.94 L1214.74,634.17 L1213.33,632.42 L1211.82,630.71 L1210.19,629.03 L1208.47,627.38 L1206.65,625.77 L1204.73,624.2 L1202.72,622.67 L1200.61,621.17 L1198.42,619.72 L1196.14,618.3 L1193.79,616.94 L1191.35,615.61 L1188.83,614.34 L1186.24,613.11 L1183.59,611.92 L1180.86,610.79 L1178.07,609.71 L1175.22,608.67 L1172.31,607.69 L1169.35,606.76 L1166.33,605.88 L1163.27,605.06 L1160.16,604.29 L1157.01,603.58 L1153.82,602.92 L1150.6,602.32 L1147.34,601.77 L1144.05,601.28 L1140.74,600.85 L1137.4,600.47 L1134.05,600.15 L1130.68,599.89 L1127.3,599.69 L1123.9,599.54 L1120.5,599.45 L1117.1,599.42 L1113.7,599.45 L1110.3,599.54 L1106.9,599.69 L1103.52,599.89 L1100.15,600.15 L1096.8,600.47 L1093.46,600.85 L1090.15,601.28 L1086.86,601.77 L1083.6,602.32 L1080.38,602.92 L1077.19,603.58 L1074.04,604.29 L1070.93,605.06 L1067.87,605.88 L1064.85,606.76 L1061.89,607.69 L1058.98,608.67 L1056.13,609.71 L1053.34,610.79 L1050.61,611.92 L1047.96,613.11 L1045.37,614.34 L1042.85,615.61 L1040.41,616.94 L1038.06,618.3 L1035.78,619.72 L1033.59,621.17 L1031.48,622.67 L1029.47,624.2 L1027.55,625.77 L1025.73,627.38 L1024.01,629.03 L1022.38,630.71 L1020.87,632.42 L1019.46,634.17 L1018.16,635.94 L1016.97,637.74 L1015.89,639.56 L1014.93,641.41 L1014.09,643.28 L1013.37,645.16 L1012.77,647.07 L1012.29,648.99 L1011.94,650.92 L1011.72,652.87 L1011.62,654.82 L1011.65,656.78 L1011.82,658.74 L1012.11,660.7 L1012.53,662.66 L1013.09,664.62 L1013.78,666.57 L1014.6,668.51 L1015.56,670.44 L1016.64,672.36 L1017.86,674.26 L1019.22,676.14 L1020.7,677.99 L1022.31,679.83 L1024.05,681.63 L1025.92,683.41 L1027.91,685.15 L1030.03,686.85 L1032.26,688.52 L1034.62,690.15 L1037.09,691.73 L1039.68,693.27 L1042.38,694.75 L1045.18,696.19 L1048.09,697.57 L1051.1,698.9 L1054.2,700.17 L1057.4,701.38 L1060.69,702.53 L1064.05,703.61 L1067.5,704.63 L1071.02,705.58 L1074.61,706.46 L1078.27,707.27 L1081.98,708.01 L1085.75,708.67 L1089.56,709.26 L1093.42,709.77 L1097.31,710.2 L1101.23,710.56 L1105.18,710.84 L1109.14,711.04 L1113.12,711.15 L1117.1,711.19 L1121.08,711.15 L1125.06,711.04 L1129.02,710.84 L1132.97,710.56 L1136.89,710.2 L1140.78,709.77 L1144.64,709.26 L1148.45,708.67 L1152.22,708.01 L1155.93,707.27 L1159.59,706.46 L1163.18,705.58 L1166.7,704.63 L1170.15,703.61 L1173.51,702.53 L1176.8,701.38 L1180,700.17 L1183.1,698.9 L1186.11,697.57 L1189.02,696.19 L1191.82,694.75 L1194.52,693.27 L1197.11,691.73 L1199.58,690.15 L1201.94,688.52 L1204.17,686.85 L1206.29,685.15 L1208.28,683.41 L1210.15,681.63 L1211.89,679.83 M1166.27,712.55 L1167.16,711.56 L1167.99,710.55 L1168.76,709.52 L1169.46,708.48 L1170.09,707.43 L1170.66,706.37 L1171.16,705.3 L1171.59,704.23 L1171.95,703.14 L1172.25,702.06 L1172.47,700.96 L1172.63,699.87 L1172.72,698.78 L1172.74,697.68 L1172.69,696.59 L1172.58,695.5 L1172.4,694.42 L1172.15,693.34 L1171.84,692.26 L1171.46,691.2 L1171.01,690.15 L1170.51,689.1 L1169.93,688.07 L1169.3,687.05 L1168.61,686.05 L1167.86,685.06 L1167.04,684.09 L1166.17,683.13 L1165.25,682.2 L1164.27,681.28 L1163.23,680.38 L1162.14,679.51 L1161,678.65 L1159.82,677.82 L1158.58,677.02 L1157.3,676.24 L1155.97,675.48 L1154.6,674.76 L1153.19,674.06 L1151.73,673.38 L1150.24,672.74 L1148.72,672.12 L1147.15,671.54 L1145.56,670.98 L1143.93,670.46 L1142.28,669.97 L1140.59,669.51 L1138.89,669.08 L1137.15,668.68 L1135.4,668.32 L1133.63,667.99 L1131.84,667.7 L1130.03,667.43 L1128.21,667.21 L1126.37,667.02 L1124.53,666.86 L1122.68,666.74 L1120.82,666.65 L1118.96,666.59 L1117.1,666.58 L1115.24,666.59 L1113.38,666.65 L1111.52,666.74 L1109.67,666.86 L1107.83,667.02 L1105.99,667.21 L1104.17,667.43 L1102.36,667.7 L1100.57,667.99 L1098.8,668.32 L1097.05,668.68 L1095.31,669.08 L1093.61,669.51 L1091.92,669.97 L1090.27,670.46 L1088.64,670.98 L1087.05,671.54 L1085.48,672.12 L1083.96,672.74 L1082.47,673.38 L1081.01,674.06 L1079.6,674.76 L1078.23,675.48 L1076.9,676.24 L1075.62,677.02 L1074.38,677.82 L1073.2,678.65 L1072.06,679.51 L1070.97,680.38 L1069.93,681.28 L1068.95,682.2 L1068.03,683.13 L1067.16,684.09 L1066.34,685.06 L1065.59,686.05 L1064.9,687.05 L1064.27,688.07 L1063.69,689.1 L1063.19,690.15 L1062.74,691.2 L1062.36,692.26 L1062.05,693.34 L1061.8,694.42 L1061.62,695.5 L1061.51,696.59 L1061.46,697.68 L1061.48,698.78 L1061.57,699.87 L1061.73,700.96 L1061.95,702.06 L1062.25,703.14 L1062.61,704.23 L1063.04,705.3 L1063.54,706.37 L1064.11,707.43 L1064.74,708.48 L1065.44,709.52 L1066.21,710.55 L1067.04,711.56 L1067.93,712.55 L1068.89,713.53 L1069.92,714.48 L1071,715.42 L1072.14,716.34 L1073.35,717.23 L1074.61,718.1 L1075.92,718.95 L1077.29,719.77 L1078.72,720.56 L1080.19,721.32 L1081.72,722.05 L1083.29,722.76 L1084.91,723.43 L1086.57,724.06 L1088.27,724.67 L1090.01,725.24 L1091.79,725.77 L1093.6,726.27 L1095.44,726.73 L1097.31,727.15 L1099.21,727.54 L1101.14,727.88 L1103.09,728.19 L1105.05,728.46 L1107.04,728.68 L1109.03,728.87 L1111.04,729.01 L1113.05,729.12 L1115.08,729.18 L1117.1,729.2 L1119.12,729.18 L1121.15,729.12 L1123.16,729.01 L1125.17,728.87 L1127.16,728.68 L1129.15,728.46 L1131.11,728.19 L1133.06,727.88 L1134.99,727.54 L1136.89,727.15 L1138.76,726.73 L1140.6,726.27 L1142.41,725.77 L1144.19,725.24 L1145.93,724.67 L1147.63,724.06 L1149.29,723.43 L1150.91,722.76 L1152.48,722.05 L1154.01,721.32 L1155.48,720.56 L1156.91,719.77 L1158.28,718.95 L1159.59,718.1 L1160.85,717.23 L1162.06,716.34 L1163.2,715.42 L1164.28,714.48 L1165.31,713.53 L1166.27,712.55 M1117.1,507.45 L1120.8,508.42 L1124.5,509.52 L1128.2,510.77 L1131.9,512.14 L1135.59,513.65 L1139.27,515.3 L1142.93,517.07 L1146.56,518.97 L1150.16,521 L1153.72,523.15 L1157.24,525.43 L1160.72,527.82 L1164.15,530.32 L1167.51,532.94 L1170.82,535.66 L1174.06,538.49 L1177.22,541.42 L1180.31,544.44 L1183.32,547.55 L1186.25,550.75 L1189.08,554.04 L1191.82,557.4 L1194.46,560.83 L1197,564.32 L1199.43,567.88 L1201.76,571.5 L1203.97,575.16 L1206.07,578.87 L1208.04,582.63 L1209.9,586.41 L1211.63,590.23 L1213.24,594.06 L1214.72,597.92 L1216.07,601.78 L1217.29,605.66 L1218.38,609.53 L1219.33,613.4 L1220.15,617.25 L1220.84,621.1 L1221.39,624.92 L1221.8,628.71 L1222.08,632.47 L1222.22,636.2 L1222.23,639.88 L1222.11,643.51 L1221.85,647.1 L1221.46,650.62 L1220.94,654.09 L1220.29,657.49 L1219.51,660.82 L1218.61,664.08 L1217.58,667.26 L1216.43,670.36 L1215.17,673.37 L1213.78,676.3 L1212.28,679.13 L1210.67,681.87 L1208.95,684.52 L1207.13,687.06 L1205.2,689.5 L1203.17,691.83 L1201.05,694.06 L1198.83,696.18 L1196.53,698.18 L1194.14,700.08 L1191.66,701.86 L1189.11,703.52 L1186.48,705.07 L1183.77,706.5 L1181,707.81 L1178.17,709 L1175.28,710.07 L1172.32,711.01 L1169.32,711.84 L1166.27,712.55 L1163.17,713.13 L1160.02,713.6 L1156.84,713.94 L1153.63,714.16 L1150.39,714.27 L1147.12,714.25 L1143.82,714.12 L1140.51,713.86 L1137.19,713.49 L1133.85,713 L1130.5,712.4 L1127.15,711.69 L1123.79,710.86 L1120.44,709.92 L1117.1,708.88 M1117.1,507.45 L1121.32,507.29 L1125.54,507.26 L1129.73,507.36 L1133.91,507.6 L1138.06,507.98 L1142.18,508.49 L1146.26,509.13 L1150.29,509.9 L1154.28,510.81 L1158.21,511.84 L1162.08,513 L1165.88,514.28 L1169.62,515.69 L1173.27,517.22 L1176.85,518.86 L1180.35,520.62 L1183.75,522.5 L1187.07,524.48 L1190.28,526.57 L1193.39,528.76 L1196.4,531.05 L1199.3,533.43 L1202.09,535.91 L1204.76,538.48 L1207.32,541.13 L1209.75,543.87 L1212.07,546.68 L1214.25,549.56 L1216.31,552.52 L1218.24,555.54 L1220.03,558.62 L1221.7,561.75 L1223.23,564.94 L1224.62,568.18 L1225.88,571.46 L1227,574.78 L1227.98,578.13 L1228.82,581.52 L1229.52,584.93 L1230.08,588.36 L1230.51,591.81 L1230.79,595.28 L1230.94,598.75 L1230.95,602.23 L1230.82,605.71 L1230.56,609.19 L1230.16,612.66 L1229.62,616.12 L1228.96,619.57 L1228.16,622.99 L1227.23,626.4 L1226.18,629.78 L1224.99,633.12 L1223.69,636.43 L1222.26,639.71 L1220.71,642.94 L1219.04,646.13 L1217.26,649.28 L1215.36,652.37 L1213.35,655.4 L1211.24,658.38 L1209.01,661.3 L1206.69,664.16 L1204.27,666.95 L1201.75,669.67 L1199.13,672.32 L1196.43,674.89 L1193.64,677.39 L1190.76,679.81 L1187.8,682.15 L1184.77,684.4 L1181.66,686.57 L1178.48,688.65 L1175.23,690.63 L1171.92,692.53 L1168.55,694.33 L1165.12,696.04 L1161.64,697.65 L1158.11,699.16 L1154.53,700.57 L1150.91,701.88 L1147.26,703.08 L1143.57,704.18 L1139.85,705.18 L1136.1,706.06 L1132.33,706.84 L1128.54,707.52 L1124.74,708.08 L1120.92,708.53 L1117.1,708.88 M1117.1,507.45 L1120.11,506.26 L1123.1,505.2 L1126.06,504.29 L1129,503.51 L1131.92,502.89 L1134.79,502.4 L1137.64,502.06 L1140.44,501.86 L1143.19,501.79 L1145.9,501.87 L1148.56,502.09 L1151.17,502.44 L1153.72,502.93 L1156.21,503.56 L1158.64,504.31 L1161,505.2 L1163.3,506.21 L1165.53,507.35 L1167.69,508.61 L1169.77,509.99 L1171.78,511.49 L1173.71,513.1 L1175.56,514.83 L1177.33,516.67 L1179.02,518.61 L1180.63,520.65 L1182.15,522.79 L1183.58,525.03 L1184.94,527.37 L1186.2,529.79 L1187.37,532.3 L1188.46,534.89 L1189.46,537.57 L1190.36,540.31 L1191.18,543.14 L1191.91,546.03 L1192.55,548.98 L1193.09,552 L1193.55,555.07 L1193.91,558.21 L1194.19,561.39 L1194.37,564.62 L1194.47,567.89 L1194.47,571.2 L1194.39,574.55 L1194.22,577.94 L1193.96,581.35 L1193.62,584.79 L1193.18,588.25 L1192.67,591.74 L1192.06,595.23 L1191.38,598.74 L1190.61,602.26 L1189.76,605.79 L1188.82,609.31 L1187.81,612.83 L1186.72,616.35 L1185.55,619.86 L1184.31,623.36 L1182.99,626.85 L1181.6,630.31 L1180.14,633.76 L1178.6,637.18 L1177,640.57 L1175.33,643.93 L1173.59,647.25 L1171.79,650.54 L1169.93,653.79 L1168.01,656.99 L1166.02,660.15 L1163.98,663.25 L1161.89,666.31 L1159.74,669.3 L1157.54,672.24 L1155.29,675.12 L1152.99,677.93 L1150.65,680.67 L1148.26,683.34 L1145.84,685.94 L1143.37,688.46 L1140.87,690.9 L1138.33,693.26 L1135.76,695.54 L1133.16,697.73 L1130.54,699.82 L1127.89,701.83 L1125.22,703.74 L1122.53,705.55 L1119.82,707.27 L1117.1,708.88 M1117.1,507.45 L1117.65,505.75 L1118.2,504.19 L1118.75,502.78 L1119.29,501.52 L1119.82,500.41 L1120.35,499.45 L1120.87,498.64 L1121.38,497.97 L1121.88,497.46 L1122.37,497.09 L1122.85,496.86 L1123.33,496.79 L1123.79,496.85 L1124.24,497.06 L1124.67,497.41 L1125.1,497.89 L1125.51,498.51 L1125.91,499.27 L1126.3,500.16 L1126.67,501.17 L1127.03,502.32 L1127.37,503.59 L1127.7,504.98 L1128.02,506.49 L1128.32,508.11 L1128.61,509.85 L1128.88,511.7 L1129.13,513.65 L1129.37,515.71 L1129.6,517.88 L1129.8,520.14 L1130,522.49 L1130.17,524.94 L1130.33,527.47 L1130.48,530.09 L1130.61,532.79 L1130.72,535.57 L1130.81,538.43 L1130.89,541.35 L1130.96,544.35 L1131.01,547.41 L1131.04,550.53 L1131.06,553.72 L1131.06,556.95 L1131.04,560.24 L1131.01,563.58 L1130.97,566.97 L1130.91,570.39 L1130.83,573.86 L1130.74,577.36 L1130.63,580.89 L1130.51,584.45 L1130.38,588.04 L1130.23,591.65 L1130.06,595.28 L1129.88,598.92 L1129.69,602.58 L1129.48,606.24 L1129.26,609.92 L1129.03,613.59 L1128.78,617.27 L1128.52,620.94 L1128.25,624.6 L1127.96,628.25 L1127.66,631.89 L1127.35,635.52 L1127.03,639.12 L1126.7,642.7 L1126.36,646.25 L1126,649.77 L1125.63,653.26 L1125.26,656.72 L1124.87,660.13 L1124.48,663.5 L1124.07,666.82 L1123.65,670.1 L1123.23,673.32 L1122.8,676.48 L1122.36,679.59 L1121.91,682.63 L1121.46,685.61 L1120.99,688.51 L1120.53,691.35 L1120.05,694.11 L1119.57,696.79 L1119.09,699.38 L1118.59,701.89 L1118.1,704.31 L1117.6,706.64 L1117.1,708.88 M1117.1,507.45 L1114.98,505.97 L1112.87,504.63 L1110.77,503.44 L1108.7,502.4 L1106.65,501.5 L1104.63,500.75 L1102.63,500.14 L1100.66,499.68 L1098.73,499.36 L1096.83,499.19 L1094.97,499.16 L1093.15,499.27 L1091.36,499.52 L1089.63,499.91 L1087.93,500.43 L1086.28,501.09 L1084.68,501.88 L1083.13,502.8 L1081.63,503.85 L1080.18,505.03 L1078.79,506.33 L1077.45,507.74 L1076.16,509.28 L1074.94,510.93 L1073.77,512.69 L1072.65,514.56 L1071.6,516.54 L1070.61,518.62 L1069.67,520.8 L1068.8,523.07 L1067.99,525.44 L1067.24,527.9 L1066.55,530.44 L1065.92,533.07 L1065.36,535.77 L1064.86,538.56 L1064.42,541.41 L1064.04,544.34 L1063.73,547.33 L1063.48,550.38 L1063.29,553.5 L1063.16,556.67 L1063.09,559.89 L1063.09,563.16 L1063.15,566.47 L1063.26,569.83 L1063.44,573.23 L1063.68,576.66 L1063.98,580.13 L1064.34,583.62 L1064.75,587.14 L1065.23,590.68 L1065.76,594.24 L1066.34,597.81 L1066.99,601.39 L1067.69,604.99 L1068.44,608.58 L1069.24,612.18 L1070.1,615.78 L1071.02,619.37 L1071.98,622.96 L1072.99,626.53 L1074.05,630.09 L1075.16,633.63 L1076.32,637.15 L1077.53,640.64 L1078.78,644.11 L1080.07,647.55 L1081.41,650.95 L1082.79,654.31 L1084.21,657.64 L1085.67,660.92 L1087.16,664.15 L1088.7,667.33 L1090.27,670.46 L1091.87,673.53 L1093.51,676.54 L1095.18,679.49 L1096.88,682.38 L1098.61,685.19 L1100.36,687.93 L1102.14,690.6 L1103.95,693.19 L1105.77,695.7 L1107.62,698.12 L1109.48,700.46 L1111.37,702.71 L1113.27,704.86 L1115.18,706.92 L1117.1,708.88 M1117.1,507.45 L1113.42,506.63 L1109.75,505.94 L1106.1,505.39 L1102.48,504.98 L1098.9,504.7 L1095.35,504.57 L1091.84,504.58 L1088.37,504.72 L1084.96,505 L1081.6,505.41 L1078.3,505.96 L1075.06,506.64 L1071.89,507.45 L1068.79,508.39 L1065.76,509.45 L1062.81,510.64 L1059.94,511.95 L1057.15,513.38 L1054.45,514.93 L1051.84,516.59 L1049.33,518.36 L1046.9,520.24 L1044.58,522.23 L1042.35,524.32 L1040.22,526.5 L1038.2,528.78 L1036.28,531.15 L1034.47,533.61 L1032.77,536.16 L1031.17,538.79 L1029.69,541.49 L1028.32,544.27 L1027.06,547.12 L1025.91,550.03 L1024.87,553.01 L1023.95,556.05 L1023.15,559.14 L1022.46,562.28 L1021.88,565.47 L1021.42,568.71 L1021.07,571.98 L1020.83,575.29 L1020.71,578.64 L1020.71,582.01 L1020.81,585.4 L1021.03,588.82 L1021.36,592.26 L1021.79,595.7 L1022.34,599.16 L1023,602.63 L1023.76,606.1 L1024.63,609.56 L1025.6,613.02 L1026.68,616.48 L1027.86,619.92 L1029.14,623.35 L1030.51,626.76 L1031.99,630.14 L1033.56,633.5 L1035.22,636.84 L1036.97,640.14 L1038.81,643.41 L1040.75,646.63 L1042.76,649.82 L1044.86,652.96 L1047.04,656.06 L1049.3,659.1 L1051.64,662.09 L1054.05,665.02 L1056.53,667.9 L1059.08,670.71 L1061.7,673.46 L1064.39,676.13 L1067.13,678.74 L1069.93,681.28 L1072.79,683.74 L1075.71,686.12 L1078.67,688.42 L1081.68,690.63 L1084.74,692.77 L1087.84,694.81 L1090.98,696.76 L1094.15,698.62 L1097.36,700.39 L1100.59,702.05 L1103.85,703.62 L1107.14,705.09 L1110.44,706.46 L1113.77,707.72 L1117.1,708.88 M1117.1,507.45 L1112.87,507.76 L1108.65,508.19 L1104.43,508.77 L1100.23,509.47 L1096.05,510.31 L1091.9,511.29 L1087.77,512.39 L1083.69,513.62 L1079.65,514.98 L1075.66,516.47 L1071.72,518.08 L1067.85,519.81 L1064.04,521.66 L1060.3,523.62 L1056.64,525.7 L1053.06,527.89 L1049.56,530.18 L1046.16,532.58 L1042.85,535.08 L1039.65,537.67 L1036.54,540.35 L1033.55,543.12 L1030.67,545.98 L1027.9,548.92 L1025.25,551.93 L1022.73,555.01 L1020.33,558.16 L1018.06,561.37 L1015.92,564.63 L1013.91,567.95 L1012.04,571.32 L1010.31,574.73 L1008.71,578.18 L1007.26,581.67 L1005.95,585.18 L1004.78,588.71 L1003.75,592.27 L1002.87,595.84 L1002.14,599.42 L1001.55,603.01 L1001.11,606.6 L1000.81,610.18 L1000.65,613.75 L1000.64,617.31 L1000.78,620.86 L1001.05,624.38 L1001.47,627.87 L1002.03,631.34 L1002.73,634.77 L1003.56,638.16 L1004.53,641.51 L1005.63,644.81 L1006.87,648.07 L1008.23,651.26 L1009.72,654.41 L1011.34,657.49 L1013.08,660.5 L1014.93,663.45 L1016.91,666.33 L1018.99,669.13 L1021.19,671.86 L1023.49,674.51 L1025.9,677.08 L1028.41,679.56 L1031.02,681.96 L1033.72,684.27 L1036.51,686.48 L1039.39,688.6 L1042.36,690.63 L1045.4,692.56 L1048.52,694.39 L1051.71,696.12 L1054.97,697.75 L1058.3,699.27 L1061.68,700.69 L1065.13,702 L1068.62,703.21 L1072.17,704.31 L1075.76,705.3 L1079.39,706.18 L1083.06,706.95 L1086.76,707.61 L1090.5,708.16 L1094.25,708.6 L1098.03,708.92 L1101.83,709.14 L1105.63,709.24 L1109.45,709.23 L1113.28,709.11 L1117.1,708.88 M1117.1,507.45 L1114.08,508.79 L1111.05,510.27 L1108.02,511.89 L1104.98,513.65 L1101.95,515.54 L1098.93,517.57 L1095.91,519.73 L1092.92,522.02 L1089.95,524.43 L1087,526.97 L1084.09,529.63 L1081.2,532.4 L1078.36,535.29 L1075.56,538.29 L1072.81,541.4 L1070.12,544.6 L1067.48,547.91 L1064.9,551.3 L1062.38,554.78 L1059.94,558.35 L1057.56,561.99 L1055.27,565.7 L1053.05,569.47 L1050.92,573.31 L1048.87,577.2 L1046.92,581.13 L1045.05,585.11 L1043.29,589.13 L1041.62,593.17 L1040.05,597.24 L1038.59,601.33 L1037.23,605.42 L1035.98,609.53 L1034.84,613.63 L1033.8,617.72 L1032.88,621.79 L1032.08,625.85 L1031.38,629.88 L1030.8,633.88 L1030.34,637.84 L1029.98,641.76 L1029.75,645.63 L1029.63,649.45 L1029.62,653.2 L1029.73,656.89 L1029.94,660.51 L1030.27,664.05 L1030.72,667.51 L1031.27,670.89 L1031.92,674.18 L1032.69,677.38 L1033.56,680.48 L1034.53,683.48 L1035.6,686.38 L1036.77,689.17 L1038.04,691.85 L1039.4,694.42 L1040.85,696.87 L1042.39,699.21 L1044.02,701.42 L1045.72,703.51 L1047.51,705.48 L1049.38,707.32 L1051.31,709.04 L1053.32,710.63 L1055.4,712.09 L1057.54,713.42 L1059.74,714.62 L1062,715.69 L1064.32,716.63 L1066.69,717.44 L1069.1,718.11 L1071.56,718.66 L1074.06,719.07 L1076.6,719.36 L1079.18,719.52 L1081.78,719.55 L1084.42,719.45 L1087.08,719.22 L1089.76,718.88 L1092.46,718.4 L1095.17,717.81 L1097.9,717.1 L1100.64,716.26 L1103.39,715.31 L1106.13,714.25 L1108.88,713.07 L1111.63,711.78 L1114.37,710.38 L1117.1,708.88 M1117.1,507.45 L1116.54,509.31 L1115.98,511.3 L1115.42,513.45 L1114.85,515.73 L1114.29,518.16 L1113.73,520.72 L1113.16,523.42 L1112.6,526.25 L1112.05,529.2 L1111.49,532.29 L1110.94,535.5 L1110.4,538.82 L1109.87,542.26 L1109.34,545.8 L1108.82,549.46 L1108.3,553.2 L1107.8,557.05 L1107.31,560.98 L1106.83,564.99 L1106.36,569.08 L1105.91,573.24 L1105.47,577.46 L1105.05,581.74 L1104.64,586.08 L1104.24,590.45 L1103.87,594.86 L1103.51,599.3 L1103.17,603.76 L1102.84,608.24 L1102.54,612.72 L1102.26,617.21 L1101.99,621.69 L1101.75,626.15 L1101.53,630.59 L1101.33,635.01 L1101.15,639.39 L1100.99,643.73 L1100.86,648.01 L1100.75,652.25 L1100.66,656.42 L1100.59,660.52 L1100.54,664.54 L1100.52,668.48 L1100.52,672.34 L1100.54,676.1 L1100.58,679.77 L1100.64,683.33 L1100.73,686.79 L1100.84,690.13 L1100.96,693.36 L1101.11,696.46 L1101.28,699.44 L1101.47,702.29 L1101.68,705.01 L1101.91,707.6 L1102.15,710.05 L1102.41,712.35 L1102.7,714.52 L1102.99,716.54 L1103.31,718.42 L1103.64,720.16 L1103.98,721.74 L1104.34,723.18 L1104.71,724.47 L1105.1,725.6 L1105.5,726.6 L1105.91,727.44 L1106.33,728.13 L1106.76,728.68 L1107.2,729.08 L1107.65,729.33 L1108.11,729.44 L1108.58,729.4 L1109.05,729.23 L1109.53,728.91 L1110.02,728.45 L1110.51,727.86 L1111.01,727.14 L1111.51,726.28 L1112.01,725.29 L1112.52,724.18 L1113.03,722.94 L1113.54,721.58 L1114.05,720.1 L1114.56,718.5 L1115.07,716.79 L1115.58,714.97 L1116.09,713.04 L1116.6,711.01 L1117.1,708.88 M1117.1,507.45 L1119.24,509.08 L1121.38,510.85 L1123.53,512.76 L1125.69,514.81 L1127.84,517 L1129.99,519.32 L1132.13,521.78 L1134.27,524.37 L1136.39,527.09 L1138.49,529.93 L1140.58,532.89 L1142.64,535.97 L1144.67,539.17 L1146.68,542.47 L1148.65,545.87 L1150.59,549.38 L1152.48,552.98 L1154.34,556.67 L1156.15,560.45 L1157.91,564.3 L1159.62,568.23 L1161.28,572.22 L1162.88,576.27 L1164.42,580.38 L1165.9,584.54 L1167.32,588.73 L1168.67,592.97 L1169.95,597.23 L1171.16,601.51 L1172.29,605.81 L1173.36,610.11 L1174.34,614.42 L1175.25,618.72 L1176.08,623 L1176.83,627.27 L1177.5,631.52 L1178.09,635.73 L1178.6,639.9 L1179.02,644.03 L1179.36,648.1 L1179.61,652.12 L1179.79,656.08 L1179.87,659.96 L1179.88,663.77 L1179.8,667.5 L1179.64,671.15 L1179.4,674.7 L1179.08,678.16 L1178.68,681.52 L1178.2,684.78 L1177.64,687.92 L1177.01,690.96 L1176.31,693.88 L1175.53,696.68 L1174.68,699.36 L1173.76,701.91 L1172.77,704.34 L1171.71,706.63 L1170.6,708.8 L1169.42,710.83 L1168.18,712.73 L1166.89,714.48 L1165.54,716.1 L1164.14,717.59 L1162.68,718.93 L1161.18,720.13 L1159.64,721.19 L1158.05,722.11 L1156.42,722.89 L1154.75,723.54 L1153.05,724.04 L1151.32,724.4 L1149.55,724.63 L1147.75,724.72 L1145.93,724.67 L1144.09,724.49 L1142.22,724.17 L1140.34,723.73 L1138.44,723.15 L1136.52,722.45 L1134.6,721.62 L1132.66,720.67 L1130.72,719.6 L1128.77,718.4 L1126.82,717.09 L1124.87,715.67 L1122.92,714.13 L1120.97,712.49 L1119.03,710.73 L1117.1,708.88" fill="none" stroke="#c6c6c6" stroke-width="1.1" stroke-opacity="0.85"/>
<path d="M1222.11,643.51 L1223.44,642.07 L1224.69,640.61 L1225.85,639.14 L1226.94,637.65 L1227.94,636.16 L1228.86,634.65 L1229.7,633.14 L1230.46,631.62 L1231.13,630.09 L1231.72,628.56 L1232.22,627.02 L1232.65,625.48 L1232.99,623.94 L1233.25,622.4 L1233.42,620.86 L1233.52,619.32 L1233.53,617.78 L1233.47,616.25 L1233.32,614.72 L1233.1,613.2 L1232.8,611.69 L1232.42,610.18 L1231.96,608.68 L1231.43,607.19 L1230.82,605.71 L1230.14,604.25 L1229.39,602.79 L1228.56,601.35 L1227.66,599.93 L1226.69,598.52 L1225.65,597.12 L1224.55,595.74 L1223.37,594.38 L1222.14,593.04 L1220.83,591.72 L1219.47,590.41 L1218.04,589.13 L1216.55,587.86 L1215,586.62 L1213.39,585.4 L1211.72,584.21 L1210,583.03 L1208.23,581.88 L1206.4,580.76 L1204.52,579.66 L1202.59,578.59 L1200.61,577.54 L1198.58,576.52 L1196.51,575.52 L1194.39,574.55 L1192.23,573.61 L1190.03,572.7 L1187.78,571.82 L1185.5,570.97 L1183.18,570.14 L1180.82,569.35 L1178.43,568.58 L1176,567.85 L1173.54,567.15 L1171.05,566.47 L1168.54,565.83 L1165.99,565.22 L1163.42,564.65 L1160.82,564.1 L1158.2,563.58 L1155.56,563.1 L1152.9,562.65 L1150.22,562.24 L1147.52,561.85 L1144.81,561.5 L1142.08,561.18 L1139.33,560.9 L1136.58,560.65 L1133.82,560.43 L1131.04,560.24 L1128.26,560.09 L1125.48,559.97 L1122.69,559.89 L1119.89,559.84 L1117.1,559.82 L1114.31,559.84 L1111.51,559.89 L1108.72,559.97 L1105.94,560.09 L1103.16,560.24 L1100.38,560.43 L1097.62,560.65 L1094.87,560.9 L1092.12,561.18 L1089.39,561.5 L1086.68,561.85 L1083.98,562.24 L1081.3,562.65 L1078.64,563.1 L1076,563.58 L1073.38,564.1 L1070.78,564.65 L1068.21,565.22 L1065.66,565.83 L1063.15,566.47 L1060.66,567.15 L1058.2,567.85 L1055.77,568.58 L1053.38,569.35 L1051.02,570.14 L1048.7,570.97 L1046.42,571.82 L1044.17,572.7 L1041.97,573.61 L1039.81,574.55 L1037.69,575.52 L1035.62,576.52 L1033.59,577.54 L1031.61,578.59 L1029.68,579.66 L1027.8,580.76 L1025.97,581.88 L1024.2,583.03 L1022.48,584.21 L1020.81,585.4 L1019.2,586.62 L1017.65,587.86 L1016.16,589.13 L1014.73,590.41 L1013.37,591.72 L1012.06,593.04 L1010.83,594.38 L1009.65,595.74 L1008.55,597.12 L1007.51,598.52 L1006.54,599.93 L1005.64,601.35 L1004.81,602.79 L1004.06,604.25 L1003.38,605.71 L1002.77,607.19 L1002.24,608.68 L1001.78,610.18 L1001.4,611.69 L1001.1,613.2 L1000.88,614.72 L1000.73,616.25 L1000.67,617.78 L1000.68,619.32 L1000.78,620.86 L1000.95,622.4 L1001.21,623.94 L1001.55,625.48 L1001.98,627.02 L1002.48,628.56 L1003.07,630.09 L1003.74,631.62 L1004.5,633.14 L1005.34,634.65 L1006.26,636.16 L1007.26,637.65 L1008.35,639.14 L1009.51,640.61 L1010.76,642.07 L1012.09,643.51 L1013.51,644.94 L1015,646.35 L1016.57,647.75 L1018.22,649.12 L1019.95,650.47 L1021.75,651.8 L1023.64,653.11 L1025.59,654.4 L1027.62,655.66 L1029.73,656.89 L1031.9,658.09 L1034.14,659.27 L1036.45,660.41 L1038.83,661.53 L1041.27,662.61 L1043.78,663.66 L1046.35,664.67 L1048.97,665.65 L1051.66,666.6 L1054.4,667.5 L1057.19,668.37 L1060.03,669.2 L1062.93,669.99 L1065.87,670.74 L1068.85,671.45 L1071.87,672.11 L1074.94,672.73 L1078.04,673.31 L1081.17,673.85 L1084.34,674.34 L1087.53,674.78 L1090.75,675.18 L1093.99,675.54 L1097.26,675.84 L1100.54,676.1 L1103.83,676.32 L1107.14,676.48 L1110.45,676.6 L1113.78,676.68 L1117.1,676.7 L1120.42,676.68 L1123.75,676.6 L1127.06,676.48 L1130.37,676.32 L1133.66,676.1 L1136.94,675.84 L1140.21,675.54 L1143.45,675.18 L1146.67,674.78 L1149.86,674.34 L1153.03,673.85 L1156.16,673.31 L1159.26,672.73 L1162.33,672.11 L1165.35,671.45 L1168.33,670.74 L1171.27,669.99 L1174.17,669.2 L1177.01,668.37 L1179.8,667.5 L1182.54,666.6 L1185.23,665.65 L1187.85,664.67 L1190.42,663.66 L1192.93,662.61 L1195.37,661.53 L1197.75,660.41 L1200.06,659.27 L1202.3,658.09 L1204.47,656.89 L1206.58,655.66 L1208.61,654.4 L1210.56,653.11 L1212.45,651.8 L1214.25,650.47 L1215.98,649.12 L1217.63,647.75 L1219.2,646.35 L1220.69,644.94 L1222.11,643.51 Z M1171.05,566.47 L1171.1,563.98 L1171.12,561.52 L1171.1,559.08 L1171.04,556.67 L1170.95,554.28 L1170.83,551.93 L1170.67,549.61 L1170.47,547.33 L1170.24,545.08 L1169.98,542.87 L1169.68,540.69 L1169.34,538.56 L1168.97,536.46 L1168.57,534.41 L1168.13,532.4 L1167.65,530.44 L1167.14,528.52 L1166.59,526.66 L1166.01,524.84 L1165.4,523.07 L1164.75,521.36 L1164.07,519.7 L1163.35,518.09 L1162.6,516.54 L1161.81,515.05 L1161,513.61 L1160.15,512.24 L1159.26,510.93 L1158.35,509.68 L1157.4,508.5 L1156.42,507.38 L1155.41,506.33 L1154.37,505.34 L1153.3,504.43 L1152.2,503.58 L1151.07,502.8 L1149.91,502.1 L1148.72,501.47 L1147.51,500.91 L1146.27,500.43 L1145,500.02 L1143.71,499.69 L1142.39,499.44 L1141.05,499.27 L1139.69,499.17 L1138.31,499.15 L1136.9,499.22 L1135.47,499.36 L1134.02,499.59 L1132.56,499.89 L1131.07,500.28 L1129.57,500.75 L1128.06,501.3 L1126.53,501.93 L1124.98,502.65 L1123.43,503.44 L1121.86,504.32 L1120.28,505.29 L1118.69,506.33 L1117.1,507.45 L1115.5,508.66 L1113.89,509.95 L1112.28,511.31 L1110.67,512.76 L1109.05,514.28 L1107.44,515.89 L1105.82,517.57 L1104.21,519.32 L1102.6,521.16 L1101,523.06 L1099.4,525.04 L1097.81,527.09 L1096.23,529.21 L1094.66,531.4 L1093.11,533.65 L1091.56,535.97 L1090.04,538.36 L1088.52,540.8 L1087.03,543.31 L1085.55,545.87 L1084.09,548.5 L1082.66,551.17 L1081.25,553.9 L1079.86,556.67 L1078.5,559.5 L1077.16,562.36 L1075.85,565.28 L1074.58,568.23 L1073.33,571.22 L1072.11,574.24 L1070.93,577.29 L1069.78,580.38 L1068.66,583.49 L1067.58,586.63 L1066.54,589.79 L1065.53,592.97 L1064.57,596.16 L1063.64,599.37 L1062.75,602.58 L1061.91,605.81 L1061.1,609.03 L1060.34,612.26 L1059.62,615.49 L1058.95,618.72 L1058.32,621.93 L1057.73,625.14 L1057.19,628.34 L1056.7,631.52 L1056.25,634.68 L1055.85,637.82 L1055.49,640.94 L1055.18,644.03 L1054.92,647.09 L1054.7,650.12 L1054.54,653.12 L1054.41,656.08 L1054.34,659 L1054.31,661.88 L1054.33,664.71 L1054.4,667.5 L1054.51,670.24 L1054.67,672.94 L1054.87,675.58 L1055.12,678.16 L1055.41,680.69 L1055.75,683.16 L1056.13,685.57 L1056.56,687.92 L1057.02,690.21 L1057.53,692.43 L1058.08,694.59 L1058.67,696.68 L1059.31,698.7 L1059.98,700.65 L1060.69,702.53 L1061.43,704.34 L1062.22,706.07 L1063.04,707.73 L1063.89,709.32 L1064.78,710.83 L1065.7,712.26 L1066.66,713.62 L1067.64,714.9 L1068.66,716.1 L1069.71,717.23 L1070.78,718.27 L1071.89,719.24 L1073.02,720.13 L1074.17,720.94 L1075.35,721.67 L1076.55,722.32 L1077.78,722.89 L1079.03,723.39 L1080.29,723.8 L1081.58,724.14 L1082.88,724.4 L1084.21,724.58 L1085.55,724.69 L1086.9,724.72 L1088.27,724.67 L1089.65,724.54 L1091.04,724.35 L1092.45,724.07 L1093.86,723.73 L1095.29,723.31 L1096.72,722.82 L1098.16,722.25 L1099.6,721.62 L1101.05,720.92 L1102.51,720.15 L1103.97,719.31 L1105.43,718.4 L1106.89,717.43 L1108.36,716.39 L1109.82,715.29 L1111.28,714.13 L1112.74,712.91 L1114.2,711.62 L1115.65,710.28 L1117.1,708.88 L1118.54,707.42 L1119.98,705.9 L1121.41,704.33 L1122.83,702.71 L1124.25,701.03 L1125.65,699.3 L1127.04,697.52 L1128.43,695.7 L1129.8,693.83 L1131.16,691.91 L1132.51,689.94 L1133.84,687.93 L1135.16,685.88 L1136.46,683.79 L1137.75,681.66 L1139.02,679.49 L1140.28,677.29 L1141.51,675.04 L1142.73,672.77 L1143.93,670.46 L1145.11,668.12 L1146.27,665.75 L1147.41,663.34 L1148.53,660.92 L1149.63,658.46 L1150.71,655.98 L1151.76,653.48 L1152.79,650.95 L1153.8,648.4 L1154.78,645.83 L1155.74,643.25 L1156.67,640.64 L1157.58,638.03 L1158.46,635.39 L1159.32,632.75 L1160.15,630.09 L1160.95,627.42 L1161.72,624.75 L1162.47,622.06 L1163.18,619.37 L1163.87,616.68 L1164.53,613.98 L1165.16,611.28 L1165.76,608.58 L1166.33,605.88 L1166.87,603.19 L1167.38,600.5 L1167.86,597.81 L1168.3,595.13 L1168.72,592.45 L1169.1,589.79 L1169.45,587.14 L1169.77,584.5 L1170.05,581.87 L1170.3,579.26 L1170.52,576.66 L1170.7,574.09 L1170.85,571.53 L1170.97,568.99 L1171.05,566.47 Z M1020.81,585.4 L1222.11,643.51 M1054.4,667.5 L1171.05,566.47 M1117.1,708.88 L1117.1,507.45" fill="none" stroke="#7a7a7a" stroke-width="1.25"/>
<g fill="#b22222"><circle cx="796.7" cy="530.5" r="6.2"/><circle cx="808.8" cy="521.9" r="6.2"/><circle cx="817.4" cy="525.3" r="6.2"/><circle cx="820" cy="533.1" r="6.2"/><circle cx="810.5" cy="538.2" r="6.2"/><circle cx="816.5" cy="546" r="6.2"/><circle cx="830.3" cy="546" r="6.2"/><circle cx="801" cy="534.8" r="6.2"/><circle cx="813" cy="530.5" r="6.2"/><circle cx="818.2" cy="540" r="6.2"/><circle cx="806" cy="528" r="6.2"/><circle cx="812" cy="524" r="6.2"/></g>
<circle cx="1005.5" cy="616.6" r="6" fill="#6b8e23"/>
<circle cx="1011.6" cy="599.1" r="6" fill="#6b8e23"/>
<circle cx="1032.7" cy="581.9" r="6" fill="#6b8e23"/>
<circle cx="1059.8" cy="569.9" r="6" fill="#6a8d2c"/>
<circle cx="1096" cy="561.7" r="6" fill="#668c38"/>
<circle cx="1130" cy="559.9" r="6" fill="#5e8a4c"/>
<circle cx="1164.4" cy="564.7" r="6" fill="#568965"/>
<circle cx="1190.9" cy="573.8" r="6" fill="#508878"/>
<circle cx="1211.4" cy="587" r="6" fill="#4a8590"/>
<circle cx="1224.1" cy="602.1" r="6" fill="#4683a4"/>
<circle cx="1225.6" cy="620.2" r="6" fill="#4682b4"/>
<circle cx="1216.8" cy="636.8" r="6" fill="#4682b4"/>
<circle cx="1198.4" cy="651.2" r="6" fill="#4784ae"/>
<circle cx="1165.9" cy="663.3" r="6" fill="#4a87a2"/>
<circle cx="1129.1" cy="668.4" r="6" fill="#4e8995"/>
<circle cx="1089" cy="668.4" r="6" fill="#538b86"/>
<circle cx="1053.8" cy="661.2" r="6" fill="#5a8b70"/>
<circle cx="1028.2" cy="650.6" r="6" fill="#648c54"/>
<circle cx="1010.7" cy="633.8" r="6" fill="#6a8d38"/>
<text x="780.67" y="481.3" font-size="40.98" font-family='"DejaVu Sans", sans-serif' fill="#000" textLength="11.04" lengthAdjust="spacingAndGlyphs">|</text>
<text x="791.24" y="481.3" font-size="37.06" font-family='"DejaVu Sans", sans-serif' fill="#000" textLength="42.38" lengthAdjust="spacingAndGlyphs">00</text>
<text x="831.71" y="484.88" font-size="45.98" font-family='"DejaVu Sans", sans-serif' fill="#000" textLength="17.04" lengthAdjust="spacingAndGlyphs" stroke="#fff" stroke-width="0.7">⟩</text>
<text x="780.87" y="767" font-size="40.98" font-family='"DejaVu Sans", sans-serif' fill="#000" textLength="11.04" lengthAdjust="spacingAndGlyphs">|</text>
<text x="791.41" y="767" font-size="37.72" font-family='"DejaVu Sans", sans-serif' fill="#000" textLength="41.94" lengthAdjust="spacingAndGlyphs">11</text>
<text x="831.71" y="770.58" font-size="45.98" font-family='"DejaVu Sans", sans-serif' fill="#000" textLength="17.04" lengthAdjust="spacingAndGlyphs" stroke="#fff" stroke-width="0.7">⟩</text>
<text x="1082.07" y="481.3" font-size="40.98" font-family='"DejaVu Sans", sans-serif' fill="#000" textLength="11.04" lengthAdjust="spacingAndGlyphs">|</text>
<text x="1092.08" y="481.3" font-size="37.06" font-family='"DejaVu Sans", sans-serif' fill="#000" textLength="41.54" lengthAdjust="spacingAndGlyphs">01</text>
<text x="1132.21" y="484.88" font-size="45.98" font-family='"DejaVu Sans", sans-serif' fill="#000" textLength="17.04" lengthAdjust="spacingAndGlyphs" stroke="#fff" stroke-width="0.7">⟩</text>
<text x="1082.07" y="766.3" font-size="40.98" font-family='"DejaVu Sans", sans-serif' fill="#000" textLength="11.04" lengthAdjust="spacingAndGlyphs">|</text>
<text x="1092.89" y="766.3" font-size="37.06" font-family='"DejaVu Sans", sans-serif' fill="#000" textLength="40.95" lengthAdjust="spacingAndGlyphs">10</text>
<text x="1132.21" y="769.88" font-size="45.98" font-family='"DejaVu Sans", sans-serif' fill="#000" textLength="17.04" lengthAdjust="spacingAndGlyphs" stroke="#fff" stroke-width="0.7">⟩</text>
<text x="623.67" y="581.6" font-size="40.98" font-family='"DejaVu Sans", sans-serif' fill="#000" textLength="11.04" lengthAdjust="spacingAndGlyphs">|</text>
<text x="637.95" y="581.6" font-size="37.72" font-family='"DejaVu Sans", sans-serif' fill="#000" font-style="italic" textLength="28.1" lengthAdjust="spacingAndGlyphs">Φ</text>
<text x="691.31" y="585.18" font-size="45.98" font-family='"DejaVu Sans", sans-serif' fill="#000" textLength="17.04" lengthAdjust="spacingAndGlyphs" stroke="#fff" stroke-width="0.7">⟩</text>
<text x="666.07" y="566.52" font-size="24" font-family='"DejaVu Sans", sans-serif' fill="#000" textLength="24.99" lengthAdjust="spacingAndGlyphs">−</text>
<text x="925.99" y="660.5" font-size="39.78" font-family='"DejaVu Sans", sans-serif' fill="#000" textLength="10.72" lengthAdjust="spacingAndGlyphs">|</text>
<text x="939.72" y="660.5" font-size="36.63" font-family='"DejaVu Sans", sans-serif' fill="#000" font-style="italic" textLength="28.56" lengthAdjust="spacingAndGlyphs">Φ</text>
<text x="989.71" y="663.97" font-size="44.64" font-family='"DejaVu Sans", sans-serif' fill="#000" textLength="16.55" lengthAdjust="spacingAndGlyphs" stroke="#fff" stroke-width="0.7">⟩</text>
<text x="965.03" y="649.3" font-size="29.19" font-family='"DejaVu Sans", sans-serif' fill="#000" textLength="25.26" lengthAdjust="spacingAndGlyphs">+</text>
<text x="952.99" y="581.5" font-size="41.72" font-family='"DejaVu Sans", sans-serif' fill="#000" textLength="11.25" lengthAdjust="spacingAndGlyphs">|</text>
<text x="965.43" y="581.5" font-size="37.74" font-family='"DejaVu Sans", sans-serif' fill="#000" font-style="italic" textLength="21.97" lengthAdjust="spacingAndGlyphs">S</text>
<text x="988.74" y="585.14" font-size="46.82" font-family='"DejaVu Sans", sans-serif' fill="#000" textLength="17.35" lengthAdjust="spacingAndGlyphs" stroke="#fff" stroke-width="0.7">⟩</text>
<text x="1234.75" y="663.1" font-size="41.12" font-family='"DejaVu Sans", sans-serif' fill="#000" textLength="11.08" lengthAdjust="spacingAndGlyphs">|</text>
<text x="1250.94" y="663.1" font-size="37.86" font-family='"DejaVu Sans", sans-serif' fill="#000" font-style="italic" textLength="23.64" lengthAdjust="spacingAndGlyphs">T</text>
<text x="1277.09" y="666.69" font-size="46.15" font-family='"DejaVu Sans", sans-serif' fill="#000" textLength="17.1" lengthAdjust="spacingAndGlyphs" stroke="#fff" stroke-width="0.7">⟩</text>
<rect x="1342.8" y="358.5" width="402.9" height="451.9" fill="#fff" stroke="#000" stroke-width="2.2"/>
<g stroke="#c9c9c9" stroke-width="1.1">
<line x1="1485.7" y1="386.3" x2="1485.7" y2="718" stroke="#c9c9c9" stroke-width="1"/>
<line x1="1563.5" y1="386.3" x2="1563.5" y2="718" stroke="#c9c9c9" stroke-width="1"/>
<line x1="1640.8" y1="386.3" x2="1640.8" y2="718" stroke="#c9c9c9" stroke-width="1"/>
<line x1="1718.5" y1="386.3" x2="1718.5" y2="718" stroke="#c9c9c9" stroke-width="1"/>
<line x1="1392.4" y1="397.5" x2="1734" y2="397.5" stroke="#c9c9c9" stroke-width="1"/>
<line x1="1392.4" y1="475.2" x2="1734" y2="475.2" stroke="#c9c9c9" stroke-width="1"/>
<line x1="1392.4" y1="552.6" x2="1734" y2="552.6" stroke="#c9c9c9" stroke-width="1"/>
<line x1="1392.4" y1="630" x2="1734" y2="630" stroke="#c9c9c9" stroke-width="1"/>
</g>
<g stroke="#333" stroke-width="1.2">
<line x1="1446.7" y1="386.3" x2="1446.7" y2="401" stroke="#000" stroke-width="1"/>
<line x1="1524.1" y1="386.3" x2="1524.1" y2="401" stroke="#000" stroke-width="1"/>
<line x1="1601.8" y1="386.3" x2="1601.8" y2="401" stroke="#000" stroke-width="1"/>
<line x1="1679.2" y1="386.3" x2="1679.2" y2="401" stroke="#000" stroke-width="1"/>
<line x1="1392.4" y1="436.6" x2="1408" y2="436.6" stroke="#000" stroke-width="1"/>
<line x1="1392.4" y1="514" x2="1408" y2="514" stroke="#000" stroke-width="1"/>
<line x1="1392.4" y1="591.1" x2="1408" y2="591.1" stroke="#000" stroke-width="1"/>
<line x1="1392.4" y1="669" x2="1408" y2="669" stroke="#000" stroke-width="1"/>
</g>
<g stroke="#8a8a8a" stroke-width="1.2">
<line x1="1392.4" y1="397.5" x2="1403" y2="397.5" stroke="#000" stroke-width="1"/>
<line x1="1392.4" y1="475.2" x2="1403" y2="475.2" stroke="#000" stroke-width="1"/>
<line x1="1392.4" y1="552.6" x2="1403" y2="552.6" stroke="#000" stroke-width="1"/>
<line x1="1392.4" y1="630" x2="1403" y2="630" stroke="#000" stroke-width="1"/>
<line x1="1485.7" y1="386.3" x2="1485.7" y2="397.5" stroke="#000" stroke-width="1"/>
<line x1="1563.5" y1="386.3" x2="1563.5" y2="397.5" stroke="#000" stroke-width="1"/>
<line x1="1640.8" y1="386.3" x2="1640.8" y2="397.5" stroke="#000" stroke-width="1"/>
<line x1="1718.5" y1="386.3" x2="1718.5" y2="397.5" stroke="#000" stroke-width="1"/>
</g>
<text x="1426.25" y="379.6" font-size="18.33" font-family='"DejaVu Sans", sans-serif' fill="#000" textLength="4.94" lengthAdjust="spacingAndGlyphs">|</text>
<text x="1431.83" y="379.6" font-size="16.58" font-family='"DejaVu Sans", sans-serif' fill="#000" textLength="28.56" lengthAdjust="spacingAndGlyphs" stroke="#000" stroke-width="0.35">0,0</text>
<text x="1459.24" y="381.2" font-size="20.57" font-family='"DejaVu Sans", sans-serif' fill="#000" textLength="7.62" lengthAdjust="spacingAndGlyphs" stroke="#fff" stroke-width="0.37">⟩</text>
<text x="1503.65" y="379.6" font-size="18.33" font-family='"DejaVu Sans", sans-serif' fill="#000" textLength="4.94" lengthAdjust="spacingAndGlyphs">|</text>
<text x="1509.21" y="379.6" font-size="16.58" font-family='"DejaVu Sans", sans-serif' fill="#000" textLength="29.08" lengthAdjust="spacingAndGlyphs" stroke="#000" stroke-width="0.35">0,1</text>
<text x="1536.64" y="381.2" font-size="20.57" font-family='"DejaVu Sans", sans-serif' fill="#000" textLength="7.62" lengthAdjust="spacingAndGlyphs" stroke="#fff" stroke-width="0.37">⟩</text>
<text x="1581.35" y="379.6" font-size="18.33" font-family='"DejaVu Sans", sans-serif' fill="#000" textLength="4.94" lengthAdjust="spacingAndGlyphs">|</text>
<text x="1586.08" y="379.6" font-size="16.58" font-family='"DejaVu Sans", sans-serif' fill="#000" textLength="29.45" lengthAdjust="spacingAndGlyphs" stroke="#000" stroke-width="0.35">1,0</text>
<text x="1614.34" y="381.2" font-size="20.57" font-family='"DejaVu Sans", sans-serif' fill="#000" textLength="7.62" lengthAdjust="spacingAndGlyphs" stroke="#fff" stroke-width="0.37">⟩</text>
<text x="1658.75" y="379.6" font-size="18.33" font-family='"DejaVu Sans", sans-serif' fill="#000" textLength="4.94" lengthAdjust="spacingAndGlyphs">|</text>
<text x="1663.44" y="379.6" font-size="16.87" font-family='"DejaVu Sans", sans-serif' fill="#000" textLength="30" lengthAdjust="spacingAndGlyphs" stroke="#000" stroke-width="0.35">1,1</text>
<text x="1691.74" y="381.2" font-size="20.57" font-family='"DejaVu Sans", sans-serif' fill="#000" textLength="7.62" lengthAdjust="spacingAndGlyphs" stroke="#fff" stroke-width="0.37">⟩</text>
<text x="1348.3" y="445.46" font-size="20.06" font-family='"DejaVu Sans", sans-serif' fill="#000" textLength="7.44" lengthAdjust="spacingAndGlyphs" stroke="#fff" stroke-width="0.35">⟨</text>
<text x="1355" y="443.9" font-size="16.17" font-family='"DejaVu Sans", sans-serif' fill="#000" textLength="29.32" lengthAdjust="spacingAndGlyphs">0,0</text>
<text x="1383.5" y="443.9" font-size="17.88" font-family='"DejaVu Sans", sans-serif' fill="#000" textLength="4.82" lengthAdjust="spacingAndGlyphs">|</text>
<text x="1348.3" y="522.86" font-size="20.06" font-family='"DejaVu Sans", sans-serif' fill="#000" textLength="7.44" lengthAdjust="spacingAndGlyphs" stroke="#fff" stroke-width="0.35">⟨</text>
<text x="1354.98" y="521.3" font-size="16.17" font-family='"DejaVu Sans", sans-serif' fill="#000" textLength="29.85" lengthAdjust="spacingAndGlyphs">0,1</text>
<text x="1383.5" y="521.3" font-size="17.88" font-family='"DejaVu Sans", sans-serif' fill="#000" textLength="4.82" lengthAdjust="spacingAndGlyphs">|</text>
<text x="1348.3" y="599.96" font-size="20.06" font-family='"DejaVu Sans", sans-serif' fill="#000" textLength="7.44" lengthAdjust="spacingAndGlyphs" stroke="#fff" stroke-width="0.35">⟨</text>
<text x="1354.13" y="598.4" font-size="16.17" font-family='"DejaVu Sans", sans-serif' fill="#000" textLength="30.23" lengthAdjust="spacingAndGlyphs">1,0</text>
<text x="1383.5" y="598.4" font-size="17.88" font-family='"DejaVu Sans", sans-serif' fill="#000" textLength="4.82" lengthAdjust="spacingAndGlyphs">|</text>
<text x="1348.3" y="677.86" font-size="20.06" font-family='"DejaVu Sans", sans-serif' fill="#000" textLength="7.44" lengthAdjust="spacingAndGlyphs" stroke="#fff" stroke-width="0.35">⟨</text>
<text x="1354.09" y="676.3" font-size="16.17" font-family='"DejaVu Sans", sans-serif' fill="#000" textLength="30.8" lengthAdjust="spacingAndGlyphs">1,1</text>
<text x="1383.5" y="676.3" font-size="17.88" font-family='"DejaVu Sans", sans-serif' fill="#000" textLength="4.82" lengthAdjust="spacingAndGlyphs">|</text>
<rect x="1428" y="417.9" width="37.4" height="37.4" fill="#4682b4" stroke="#222" stroke-width="1"/>
<rect x="1513.85" y="426.35" width="20.5" height="20.5" fill="#64628a" stroke="#222" stroke-width="1"/>
<rect x="1593.95" y="428.75" width="15.7" height="15.7" fill="#d88f2a" stroke="#222" stroke-width="1"/>
<rect x="1671.85" y="429.25" width="14.7" height="14.7" fill="#cf6727" stroke="#222" stroke-width="1"/>
<rect x="1436.6" y="503.9" width="20.2" height="20.2" fill="#4e8a86" stroke="#222" stroke-width="1"/>
<rect x="1487.1" y="477" width="74" height="74" fill="#4682b4" stroke="#222" stroke-width="1"/>
<rect x="1565.05" y="477.25" width="73.5" height="73.5" fill="#4682b4" stroke="#222" stroke-width="1"/>
<rect x="1669.1" y="503.9" width="20.2" height="20.2" fill="#7c5478" stroke="#222" stroke-width="1"/>
<rect x="1438.95" y="583.35" width="15.5" height="15.5" fill="#cfa326" stroke="#222" stroke-width="1"/>
<rect x="1487.45" y="554.45" width="73.3" height="73.3" fill="#4682b4" stroke="#222" stroke-width="1"/>
<rect x="1564.8" y="554.1" width="74" height="74" fill="#4682b4" stroke="#222" stroke-width="1"/>
<rect x="1671.2" y="583.1" width="16" height="16" fill="#4784b4" stroke="#222" stroke-width="1"/>
<rect x="1439.4" y="661.7" width="14.6" height="14.6" fill="#a39e2a" stroke="#222" stroke-width="1"/>
<rect x="1514.1" y="659" width="20" height="20" fill="#5a8a70" stroke="#222" stroke-width="1"/>
<rect x="1594.05" y="661.25" width="15.5" height="15.5" fill="#4682b4" stroke="#222" stroke-width="1"/>
<rect x="1670.3" y="660.1" width="17.8" height="17.8" fill="#4783b6" stroke="#222" stroke-width="1"/>
<defs><linearGradient id="cbg" x1="0" x2="1" y1="0" y2="0"><stop offset="0" stop-color="#daa520"/><stop offset="0.25" stop-color="#b22222"/><stop offset="0.5" stop-color="#4682b4"/><stop offset="0.75" stop-color="#6b8e23"/><stop offset="1" stop-color="#daa520"/></linearGradient></defs>
<rect x="1431.2" y="720.5" width="264.1" height="13.9" fill="url(#cbg)" stroke="#000" stroke-width="2"/>
<line x1="1563" y1="719.5" x2="1563" y2="735.4" stroke="#1a2a40" stroke-width="1.4"/>
<line x1="1431.2" y1="716.5" x2="1431.2" y2="720.5" stroke="#000" stroke-width="1.2"/>
<line x1="1695.3" y1="716.5" x2="1695.3" y2="720.5" stroke="#000" stroke-width="1.2"/>
<text x="1382.63" y="764.74" font-size="45.63" font-family='"Liberation Serif", "DejaVu Serif", serif' fill="#000" font-style="italic" textLength="64.2" lengthAdjust="spacingAndGlyphs">−π</text>
<text x="1550.19" y="769.53" font-size="47.41" font-family='"Liberation Serif", "DejaVu Serif", serif' fill="#000" textLength="26.42" lengthAdjust="spacingAndGlyphs">0</text>
<text x="1684.35" y="764.74" font-size="45.63" font-family='"Liberation Serif", "DejaVu Serif", serif' fill="#000" font-style="italic" textLength="25.39" lengthAdjust="spacingAndGlyphs">π</text>
<text x="1547.34" y="801.31" font-size="40.79" font-family='"Liberation Serif", "DejaVu Serif", serif' fill="#000" textLength="31.31" lengthAdjust="spacingAndGlyphs">ϕ</text>
</svg>
</body></html>
